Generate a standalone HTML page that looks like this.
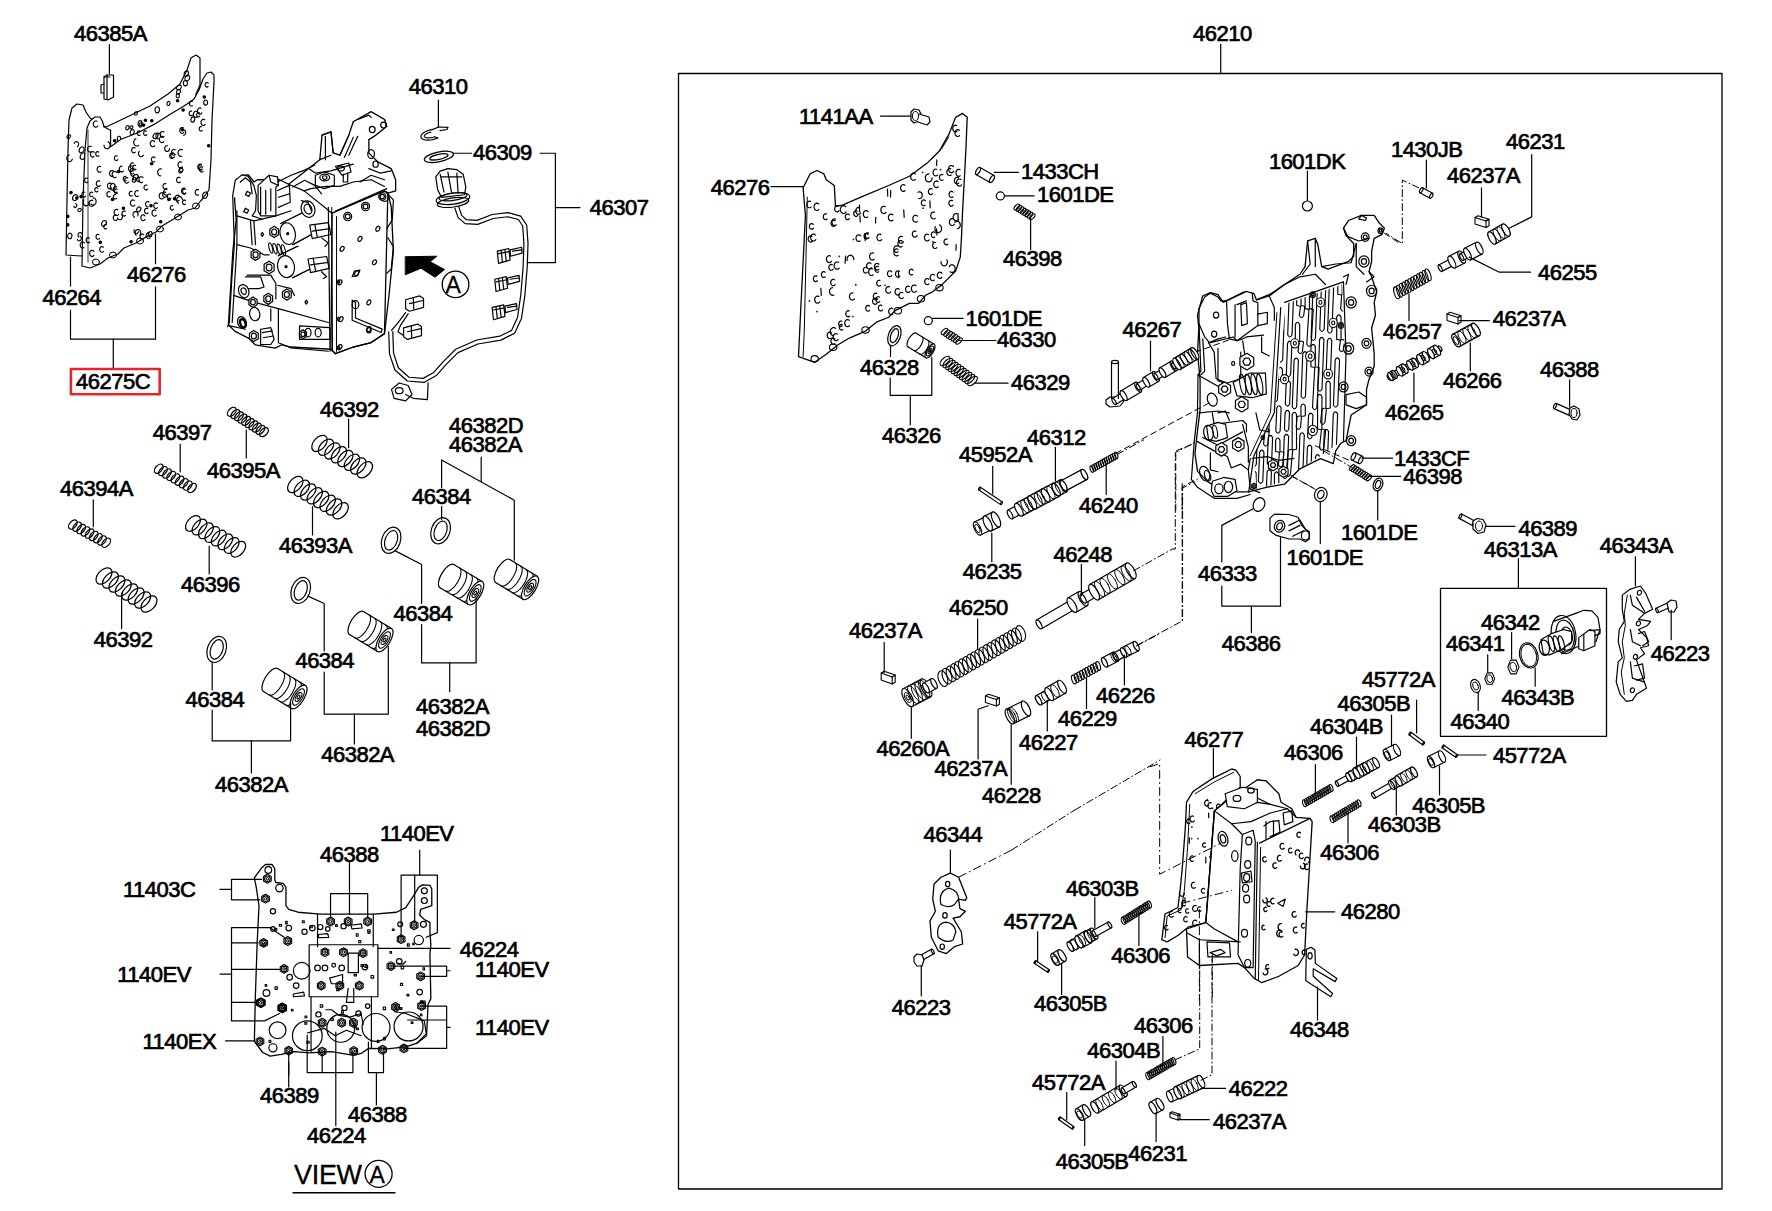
<!DOCTYPE html>
<html><head><meta charset="utf-8"><style>
html,body{margin:0;padding:0;background:#fff;}
svg{display:block;}
path,line,ellipse,circle,rect,polyline,polygon{vector-effect:non-scaling-stroke;}
text{font-family:"Liberation Sans",sans-serif;font-size:22px;fill:#000;stroke:#000;stroke-width:0.7px;letter-spacing:-0.5px;}
</style></head><body>
<svg width="1772" height="1211" viewBox="0 0 1772 1211">
<rect width="1772" height="1211" fill="#fff"/>
<g fill="none" stroke="#000" stroke-width="1.2" stroke-linejoin="round" stroke-linecap="round">
<!-- a.svg -->
<line x1="109.4" y1="44.5" x2="109.4" y2="74"/>
<path d="M104,77 L107,75 L113.5,75 L113.5,97 L108,100 L104,99 Z" fill="#fff"/>
<line x1="107" y1="75" x2="107" y2="99"/>
<path d="M104,84 L101,85 L101,93 L104,93"/>
<line x1="104" y1="77" x2="110" y2="77"/>
<path d="M66,255 L67,200 L68,150 L69,120 L72,108 L77,104 L83,105 L86,112 L90,118 L100,124 L106,127 L125,118 L150,106 L168,94 L180,84 L187,70 L191,58 L196,55 L200,58 L200,85 L196,94 L202,200 L81,256 Z" stroke-width="1.2" fill="#fff"/>
<circle cx="71" cy="192.6" r="1.2" fill="#000"/>
<ellipse cx="75.1" cy="197.6" rx="2.3" ry="3.1" transform="rotate(28.2 75.1 197.6)" stroke-width="1.1"/>
<path d="M74.2,143.5 L74.6,142.4 L75.5,141.7 L76.4,141.5 L77.4,141.8 L78.2,142.6 L78.6,143.6 L78.6,144.8 L78.2,145.9 L77.4,146.7" stroke-width="1.1"/>
<ellipse cx="81.6" cy="149.8" rx="2.2" ry="3.1" transform="rotate(31.4 81.6 149.8)" stroke-width="1.1"/>
<ellipse cx="79.6" cy="210" rx="1.4" ry="1.9" transform="rotate(57.4 79.6 210)" stroke-width="1.1"/>
<circle cx="67.7" cy="224.9" r="1.2" fill="#000"/>
<path d="M79.9,236 L80.6,236.6 L81.2,237.5 L81.3,238.5 L81.1,239.6 L80.5,240.4 L79.7,240.9 L78.7,240.8 L77.9,240.4 L77.4,239.5" stroke-width="1.1"/>
<ellipse cx="68.7" cy="136.6" rx="1.5" ry="2.1" transform="rotate(40.3 68.7 136.6)" stroke-width="1.1"/>
<path d="M78.6,237 L78.1,236 L78,234.8 L78.3,233.7 L79,232.9 L80,232.5 L80.9,232.6 L81.8,233.2 L82.3,234.1 L82.5,235.3" stroke-width="1.1"/>
<circle cx="76.9" cy="198" r="1.2" fill="#000"/>
<ellipse cx="69.8" cy="235.9" rx="2.1" ry="2.8" transform="rotate(12.7 69.8 235.9)" stroke-width="1.1"/>
<circle cx="81.1" cy="196.6" r="1.2" fill="#000"/>
<path d="M75.7,203.6 L76.3,204.1 L76.7,204.8 L76.8,205.6 L76.6,206.4 L76.2,207.1 L75.5,207.4 L74.8,207.4 L74.2,207.1 L73.7,206.4" stroke-width="1.1"/>
<path d="M72.3,159.1 L71.7,160.4 L70.8,161.3 L69.6,161.6 L68.4,161.3 L67.4,160.4 L66.8,159.1 L66.8,157.7 L67.3,156.3 L68.2,155.3 L69.3,154.9" stroke-width="1.1"/>
<circle cx="67.8" cy="216.4" r="1.2" fill="#000"/>
<ellipse cx="82.7" cy="156.2" rx="2.4" ry="3.3" transform="rotate(18.6 82.7 156.2)" stroke-width="1.1"/>
<ellipse cx="135.9" cy="113.4" rx="1.4" ry="1.9" transform="rotate(36.4 135.9 113.4)" stroke-width="1.1"/>
<ellipse cx="168.5" cy="103.5" rx="1.5" ry="2.1" transform="rotate(16.8 168.5 103.5)" stroke-width="1.1"/>
<ellipse cx="131.4" cy="127.4" rx="1.3" ry="1.8" transform="rotate(37.6 131.4 127.4)" stroke-width="1.1"/>
<ellipse cx="140" cy="123.2" rx="1.9" ry="2.6" transform="rotate(11.9 140 123.2)" stroke-width="1.1"/>
<ellipse cx="119" cy="138.6" rx="1.7" ry="2.4" transform="rotate(2.6 119 138.6)" stroke-width="1.1"/>
<ellipse cx="177.8" cy="95.7" rx="1.6" ry="2.1" transform="rotate(11.5 177.8 95.7)" stroke-width="1.1"/>
<ellipse cx="178.5" cy="91.7" rx="1.8" ry="2.5" transform="rotate(26.4 178.5 91.7)" stroke-width="1.1"/>
<ellipse cx="157.2" cy="109.8" rx="2.2" ry="3.1" transform="rotate(7.3 157.2 109.8)" stroke-width="1.1"/>
<ellipse cx="186.3" cy="73.6" rx="2.1" ry="2.9" transform="rotate(18.9 186.3 73.6)" stroke-width="1.1"/>
<ellipse cx="127.4" cy="127.7" rx="1.6" ry="2.2" transform="rotate(23.5 127.4 127.7)" stroke-width="1.1"/>
<ellipse cx="132.2" cy="132.2" rx="1.9" ry="2.7" transform="rotate(27.9 132.2 132.2)" stroke-width="1.1"/>
<circle cx="143.6" cy="125.1" r="1.2" fill="#000"/>
<circle cx="177.6" cy="100.7" r="1.2" fill="#000"/>
<ellipse cx="140.6" cy="124.9" rx="1.6" ry="2.2" transform="rotate(20.8 140.6 124.9)" stroke-width="1.1"/>
<circle cx="114.7" cy="140.7" r="1.2" fill="#000"/>
<ellipse cx="178.9" cy="87.5" rx="2" ry="2.8" transform="rotate(51.3 178.9 87.5)" stroke-width="1.1"/>
<circle cx="145.4" cy="120.3" r="1.2" fill="#000"/>
<ellipse cx="187.3" cy="78.1" rx="2.2" ry="3" transform="rotate(28.7 187.3 78.1)" stroke-width="1.1"/>
<ellipse cx="185.4" cy="83.2" rx="2" ry="2.7" transform="rotate(0.3 185.4 83.2)" stroke-width="1.1"/>
<circle cx="151.8" cy="120.7" r="1.2" fill="#000"/>
<path d="M186,108 L194,100 L199.8,89.7" stroke-width="1"/>
<path d="M82,266 L83,200 L85,150 L87,128 L90,121 L95,117 L100,117 L102.3,121 L104,127 L110.6,130.2 L110.6,146.7 L121,139.3 L138,132.7 L154,124.4 L171,113.7 L180,108.5 L187,104 L194,99 L199,90 L203,79 L207,73 L211,72 L214,75 L214,82 L212,120 L211,160 L209,190 L203,198 L195,208 L188,210 L180,215 L172,220 L162,226 L156,232 L146,237 L136,243 L124,248 L118,254 L108,258 L100,264 L90,268 Z" stroke-width="1.2" fill="#fff"/>
<path d="M88,130 L88,262" stroke-width="0.8"/>
<ellipse cx="96" cy="262" rx="3.5" ry="3" stroke-width="1"/>
<ellipse cx="113" cy="255" rx="3.5" ry="3" stroke-width="1"/>
<ellipse cx="140" cy="241" rx="3.5" ry="3" stroke-width="1"/>
<ellipse cx="160" cy="229" rx="3.5" ry="3" stroke-width="1"/>
<ellipse cx="178" cy="217" rx="3.5" ry="3" stroke-width="1"/>
<ellipse cx="196" cy="206" rx="3.5" ry="3" stroke-width="1"/>
<path d="M154.6,145.7 L154,146.4 L153.2,146.7 L152.3,146.7 L151.5,146.4 L150.8,145.7 L150.4,144.7 L150.2,143.7 L150.4,142.6 L150.8,141.7 L151.5,141 L152.3,140.6 L153.2,140.6 L154,141 L154.6,141.7" stroke-width="1.15"/>
<path d="M166.8,188.2 L166.2,188.8 L165.5,189 L164.7,189 L164,188.6 L163.4,187.9 L163.1,187 L163,186.1 L163.2,185.1 L163.6,184.3 L164.3,183.8 L165,183.5 L165.8,183.6" stroke-width="1.15"/>
<path d="M89.6,242.2 L88.9,242.7 L88.2,242.9 L87.5,242.8 L86.9,242.3 L86.4,241.6 L86.1,240.8 L86.1,239.9 L86.3,239 L86.7,238.3 L87.4,237.8 L88.1,237.6 L88.8,237.8 L89.4,238.2" stroke-width="1.15"/>
<path d="M157.4,207.8 L156.7,208.3 L156,208.5 L155.2,208.3 L154.5,207.8 L154,207.1 L153.8,206.2 L153.8,205.2 L154,204.3 L154.5,203.5 L155.2,203.1 L156,202.9 L156.7,203.1 L157.4,203.5" stroke-width="1.15"/>
<path d="M172.9,158.1 L172.3,158.4 L171.5,158.4 L170.8,158.2 L170.2,157.6 L169.8,156.8 L169.7,155.9 L169.8,155 L170.1,154.2 L170.7,153.5 L171.4,153.2 L172.1,153.2 L172.8,153.5" stroke-width="1.15"/>
<path d="M123.4,171 L122.7,171.6 L122,171.9 L121.1,171.9 L120.4,171.5 L119.8,170.8 L119.4,169.9 L119.3,168.9 L119.5,167.9 L119.9,167.1 L120.5,166.5 L121.3,166.1 L122.1,166.2" stroke-width="1.15"/>
<path d="M98.9,155.7 L98.3,156.1 L97.7,156.3 L97,156.2 L96.5,155.8 L96,155.2 L95.8,154.5 L95.7,153.7 L95.9,152.9 L96.3,152.2 L96.8,151.8 L97.5,151.6 L98.1,151.7 L98.7,152.1" stroke-width="1.15"/>
<circle cx="123.4" cy="208.3" r="1.2" fill="#000"/>
<path d="M143.6,238.7 L142.9,239.2 L142.2,239.3 L141.5,239.1 L140.8,238.7 L140.3,237.9 L140.1,237.1 L140.1,236.1 L140.4,235.3 L140.9,234.6 L141.5,234.1 L142.3,234 L143,234.1 L143.6,234.6" stroke-width="1.15"/>
<circle cx="174.6" cy="198.8" r="1.2" fill="#000"/>
<path d="M134.8,205.2 L134.1,205.9 L133.2,206.2 L132.4,206.1 L131.6,205.7 L130.9,204.9 L130.5,204 L130.4,202.9 L130.6,201.8 L131.1,200.9 L131.8,200.3 L132.6,199.9 L133.5,200 L134.3,200.4" stroke-width="1.15"/>
<path d="M121.7,214.4 L122.3,215.6 L122.5,216.9 L122.2,218.2 L121.5,219.2 L120.5,219.8 L119.4,219.7 L118.3,219.2 L117.6,218.1" stroke-width="1.15"/>
<path d="M142.6,182.2 L141.9,182.6 L141,182.7 L140.2,182.4 L139.6,181.8 L139.1,180.9 L138.9,179.9 L139,178.9 L139.3,177.9 L139.9,177.2 L140.7,176.8 L141.5,176.7 L142.4,177 L143,177.6" stroke-width="1.15"/>
<path d="M138.7,145.4 L137.4,146 L136.1,146 L134.8,145.3 L134,144 L133.7,142.4 L133.9,140.8 L134.7,139.5 L135.9,138.7" stroke-width="1.15"/>
<path d="M147.6,189 L147.1,189.6 L146.4,189.9 L145.7,189.9 L145.1,189.7 L144.5,189.1 L144.2,188.4 L144,187.6 L144.1,186.7 L144.5,185.9 L145,185.4 L145.6,185 L146.3,185 L146.9,185.3" stroke-width="1.15"/>
<path d="M164.1,136.6 L163.4,137.1 L162.6,137.3 L161.8,137.2 L161.1,136.8 L160.6,136 L160.2,135.1 L160.2,134.1 L160.4,133.1 L160.9,132.3 L161.6,131.8 L162.4,131.6 L163.2,131.7 L163.9,132.1" stroke-width="1.15"/>
<path d="M135.3,152.1 L134.7,152.6 L134,152.9 L133.2,152.8 L132.6,152.4 L132,151.7 L131.7,150.9 L131.7,150 L131.8,149.1 L132.3,148.3 L132.9,147.8 L133.6,147.5 L134.3,147.6 L135,148" stroke-width="1.15"/>
<path d="M97.9,191.1 L97.4,191.6 L96.9,191.9 L96.3,191.9 L95.7,191.7 L95.2,191.2 L94.9,190.6 L94.8,189.8 L94.8,189.1 L95.1,188.4 L95.6,187.9 L96.1,187.6 L96.8,187.6 L97.3,187.8 L97.8,188.3" stroke-width="1.15"/>
<path d="M198.6,194.8 L197.9,195.1 L197.1,195.2 L196.3,194.9 L195.7,194.3 L195.3,193.4 L195.1,192.5 L195.3,191.5 L195.6,190.6 L196.2,190 L196.9,189.6 L197.7,189.6 L198.5,189.9" stroke-width="1.15"/>
<path d="M146.8,134.7 L146.2,135.2 L145.6,135.4 L145,135.4 L144.4,135.1 L143.9,134.5 L143.7,133.8 L143.6,133 L143.7,132.2 L144.1,131.6 L144.6,131.1 L145.2,130.8 L145.8,130.9 L146.4,131.2" stroke-width="1.15"/>
<path d="M192.4,105.7 L191.8,106 L191.1,106 L190.5,105.8 L190,105.3 L189.6,104.5 L189.5,103.7 L189.6,102.9 L189.9,102.2 L190.4,101.6 L191,101.3 L191.7,101.3 L192.3,101.5" stroke-width="1.15"/>
<path d="M183.8,132.3 L183.2,133 L182.4,133.3 L181.6,133.3 L180.9,132.9 L180.3,132.2 L179.9,131.4 L179.8,130.4 L179.9,129.4 L180.3,128.5 L181,127.9 L181.7,127.6 L182.5,127.6 L183.3,127.9" stroke-width="1.15"/>
<ellipse cx="104" cy="223.3" rx="2.2" ry="3" transform="rotate(30.2 104 223.3)" stroke-width="1.15"/>
<path d="M167.4,194.7 L166.6,195.1 L165.8,195.2 L165,194.9 L164.3,194.3 L163.8,193.5 L163.6,192.5 L163.7,191.4 L164,190.5 L164.6,189.7 L165.4,189.3 L166.2,189.2 L167,189.5" stroke-width="1.15"/>
<path d="M113.1,176 L112.4,176.3 L111.6,176.4 L110.8,176 L110.2,175.4 L109.7,174.5 L109.6,173.5 L109.7,172.5 L110.1,171.6 L110.7,170.9 L111.5,170.6 L112.3,170.6 L113.1,170.9" stroke-width="1.15"/>
<path d="M163.7,141.7 L163,142.3 L162.1,142.6 L161.3,142.5 L160.5,142.1 L159.8,141.3 L159.5,140.3 L159.4,139.3 L159.6,138.2 L160.1,137.3 L160.8,136.6 L161.6,136.3 L162.5,136.4 L163.3,136.9" stroke-width="1.15"/>
<path d="M110.3,196.4 L109.7,196.9 L108.9,197 L108.2,196.8 L107.6,196.3 L107.1,195.6 L106.9,194.7 L106.9,193.8 L107.1,192.9 L107.6,192.2 L108.3,191.8 L109,191.6 L109.7,191.8" stroke-width="1.15"/>
<path d="M93.2,197.9 L94.5,198.2 L95.5,199.2 L96.1,200.5 L96.1,202.1 L95.6,203.5 L94.7,204.6 L93.5,205 L92.2,204.8 L91.1,204" stroke-width="1.15"/>
<path d="M106.5,228.6 L105.9,228.9 L105.3,228.9 L104.7,228.7 L104.2,228.2 L103.9,227.5 L103.7,226.8 L103.8,226 L104.1,225.3 L104.6,224.7 L105.2,224.4 L105.8,224.4 L106.4,224.7" stroke-width="1.15"/>
<path d="M145,219.5 L144.3,220.2 L143.6,220.6 L142.8,220.6 L142,220.3 L141.4,219.6 L141,218.7 L140.8,217.7 L140.9,216.7 L141.3,215.9 L141.9,215.2 L142.7,214.8 L143.5,214.8 L144.3,215.1 L144.9,215.8" stroke-width="1.15"/>
<path d="M103.4,251.5 L102.8,252 L102,252.2 L101.2,252 L100.5,251.5 L100,250.8 L99.7,249.9 L99.7,248.9 L100,248 L100.5,247.2 L101.1,246.7 L101.9,246.5 L102.7,246.7 L103.4,247.2" stroke-width="1.15"/>
<ellipse cx="205.7" cy="102.6" rx="1.9" ry="2.6" transform="rotate(0.9 205.7 102.6)" stroke-width="1.15"/>
<path d="M192.4,115.1 L191.8,115.6 L191.2,115.8 L190.5,115.7 L189.9,115.3 L189.4,114.7 L189.2,113.9 L189.1,113.1 L189.3,112.3 L189.7,111.6 L190.3,111.1 L191,111 L191.6,111.1" stroke-width="1.15"/>
<path d="M126.1,180.5 L125.6,180.9 L124.9,181 L124.3,180.8 L123.8,180.3 L123.4,179.7 L123.2,179 L123.3,178.2 L123.5,177.5 L123.9,176.9 L124.5,176.5 L125.1,176.4 L125.7,176.6" stroke-width="1.15"/>
<ellipse cx="150.2" cy="234.1" rx="1.9" ry="2.6" transform="rotate(9.1 150.2 234.1)" stroke-width="1.15"/>
<path d="M185.8,193 L185.3,193.4 L184.6,193.6 L184,193.6 L183.4,193.2 L182.9,192.6 L182.7,191.9 L182.6,191 L182.8,190.2 L183.2,189.6 L183.7,189.1 L184.4,188.9 L185,189 L185.6,189.4" stroke-width="1.15"/>
<ellipse cx="155.5" cy="135.9" rx="2.2" ry="3" transform="rotate(28.9 155.5 135.9)" stroke-width="1.15"/>
<circle cx="118.6" cy="171.6" r="1.2" fill="#000"/>
<path d="M116.1,177.2 L115.3,177.6 L114.4,177.6 L113.6,177.3 L112.9,176.7 L112.4,175.8 L112.2,174.7 L112.3,173.6 L112.7,172.7 L113.3,171.9 L114.1,171.5 L115,171.4 L115.8,171.8 L116.5,172.4" stroke-width="1.15"/>
<path d="M143.4,155.1 L142.7,156.1 L141.7,156.7 L140.6,156.8 L139.5,156.2 L138.8,155.2 L138.4,153.9 L138.6,152.5 L139.2,151.4" stroke-width="1.15"/>
<path d="M93.6,205.1 L93,205.8 L92.2,206.2 L91.3,206.3 L90.5,206 L89.8,205.3 L89.4,204.4 L89.2,203.3 L89.3,202.3 L89.7,201.3 L90.3,200.6 L91.1,200.2 L92,200.1 L92.8,200.5" stroke-width="1.15"/>
<path d="M135.9,169.2 L135.4,169.6 L134.7,169.9 L134.1,169.8 L133.5,169.4 L133,168.9 L132.7,168.1 L132.7,167.3 L132.9,166.5 L133.2,165.8 L133.8,165.4 L134.4,165.2 L135.1,165.2 L135.7,165.6" stroke-width="1.15"/>
<path d="M125.5,215.4 L124.9,215.9 L124.2,216.1 L123.5,216 L122.9,215.6 L122.4,215 L122.1,214.2 L122,213.3 L122.2,212.4 L122.6,211.7 L123.2,211.2 L123.9,211 L124.6,211.1 L125.2,211.5" stroke-width="1.15"/>
<path d="M134.5,175 L133.9,175.7 L133.3,176 L132.5,176.1 L131.8,175.9 L131.2,175.3 L130.8,174.5 L130.6,173.6 L130.6,172.7 L131,171.8 L131.5,171.2 L132.2,170.8 L133,170.7 L133.7,171" stroke-width="1.15"/>
<path d="M97.8,126 L97.1,126.7 L96.3,127.1 L95.4,127.1 L94.6,126.8 L94,126.1 L93.5,125.2 L93.3,124.1 L93.5,123 L93.9,122.1 L94.6,121.4 L95.4,121 L96.2,121 L97,121.3" stroke-width="1.15"/>
<ellipse cx="135.6" cy="177.2" rx="2.2" ry="3" transform="rotate(42 135.6 177.2)" stroke-width="1.15"/>
<path d="M174.5,156.8 L174,157.4 L173.4,157.7 L172.7,157.8 L172,157.6 L171.4,157.1 L171.1,156.4 L170.9,155.6 L170.9,154.7 L171.2,153.9 L171.7,153.3 L172.3,153 L173,152.9 L173.7,153.1 L174.2,153.6" stroke-width="1.15"/>
<path d="M117.4,193.1 L116.8,193.4 L116.2,193.5 L115.6,193.2 L115.1,192.8 L114.7,192.1 L114.6,191.4 L114.6,190.6 L114.9,189.9 L115.4,189.3 L116,189 L116.6,188.9 L117.2,189.2" stroke-width="1.15"/>
<path d="M128.6,182.1 L128,182.7 L127.3,183.1 L126.5,183.2 L125.8,182.9 L125.1,182.4 L124.7,181.5 L124.5,180.6 L124.6,179.6 L124.9,178.7 L125.5,178.1 L126.2,177.7 L127,177.6 L127.8,177.9" stroke-width="1.15"/>
<ellipse cx="205.1" cy="195.2" rx="2.4" ry="3.3" transform="rotate(17.4 205.1 195.2)" stroke-width="1.15"/>
<path d="M180.4,181.8 L179.8,182.4 L179.1,182.7 L178.4,182.7 L177.6,182.3 L177.1,181.7 L176.7,180.9 L176.6,180 L176.7,179 L177.1,178.2 L177.7,177.6 L178.4,177.3 L179.2,177.3 L179.9,177.7" stroke-width="1.15"/>
<circle cx="168.9" cy="199.4" r="1.2" fill="#000"/>
<path d="M85.6,196.1 L85.1,196.8 L84.4,197.1 L83.7,197.2 L83,197 L82.4,196.4 L82,195.7 L81.8,194.8 L81.9,193.9 L82.2,193 L82.7,192.4 L83.4,192 L84.1,192 L84.8,192.2" stroke-width="1.15"/>
<path d="M133.7,173.4 L133,173.8 L132.2,174 L131.4,173.8 L130.8,173.2 L130.3,172.5 L130.1,171.6 L130.1,170.6 L130.4,169.7 L130.9,169 L131.6,168.5 L132.4,168.4 L133.1,168.6 L133.8,169.1" stroke-width="1.15"/>
<path d="M199.7,116.2 L199.2,116.7 L198.7,116.9 L198,116.8 L197.5,116.5 L197.1,116 L196.8,115.3 L196.7,114.5 L196.9,113.8 L197.2,113.2 L197.7,112.7 L198.3,112.5 L198.9,112.6 L199.5,112.9" stroke-width="1.15"/>
<ellipse cx="112.7" cy="186.8" rx="2.4" ry="3.4" transform="rotate(9.3 112.7 186.8)" stroke-width="1.15"/>
<circle cx="160.7" cy="221.8" r="1.2" fill="#000"/>
<path d="M179.1,200.5 L178.3,200.9 L177.5,201.1 L176.7,200.9 L176,200.3 L175.5,199.5 L175.2,198.5 L175.2,197.4 L175.5,196.5 L176.1,195.7 L176.8,195.2 L177.7,195 L178.5,195.3 L179.2,195.8" stroke-width="1.15"/>
<ellipse cx="138.7" cy="209.4" rx="1.9" ry="2.6" transform="rotate(31.4 138.7 209.4)" stroke-width="1.15"/>
<path d="M150.2,237.9 L149.4,238.5 L148.6,238.7 L147.8,238.5 L147.1,238 L146.5,237.2 L146.2,236.2 L146.2,235.2 L146.5,234.2 L147,233.4 L147.7,232.8 L148.5,232.6 L149.4,232.8" stroke-width="1.15"/>
<path d="M173.6,209.2 L173.2,209.8 L172.6,210.1 L172,210.2 L171.3,209.9 L170.8,209.5 L170.5,208.8 L170.3,208.1 L170.4,207.3 L170.7,206.5 L171.1,206 L171.7,205.7 L172.3,205.6 L172.9,205.8" stroke-width="1.15"/>
<circle cx="208.7" cy="145.8" r="1.2" fill="#000"/>
<path d="M166.6,196.3 L166.1,196.9 L165.4,197.3 L164.7,197.4 L164,197.2 L163.3,196.6 L162.9,195.9 L162.7,195 L162.8,194 L163.1,193.2 L163.6,192.5 L164.3,192.1 L165.1,192.1 L165.8,192.3" stroke-width="1.15"/>
<ellipse cx="180.8" cy="170.6" rx="1.8" ry="2.5" transform="rotate(31.6 180.8 170.6)" stroke-width="1.15"/>
<path d="M182.3,166.8 L181.7,167.5 L180.9,167.9 L180,167.9 L179.2,167.5 L178.6,166.8 L178.1,165.9 L178,164.9 L178.1,163.8 L178.6,162.9 L179.2,162.2 L180,161.9 L180.9,161.9 L181.7,162.2" stroke-width="1.15"/>
<circle cx="112.5" cy="199.4" r="1.2" fill="#000"/>
<path d="M134,168.2 L133.3,168.7 L132.5,168.9 L131.7,168.7 L131,168.2 L130.4,167.4 L130.2,166.4 L130.2,165.4 L130.4,164.4 L131,163.6 L131.7,163.1 L132.5,162.9 L133.3,163.1" stroke-width="1.15"/>
<path d="M117.3,219.4 L116.7,220.1 L116,220.4 L115.2,220.5 L114.5,220.2 L113.8,219.6 L113.4,218.7 L113.3,217.8 L113.4,216.8 L113.7,215.9 L114.3,215.3 L115.1,214.9 L115.8,214.9 L116.6,215.2" stroke-width="1.15"/>
<path d="M148.1,212.9 L147.5,213.4 L146.8,213.6 L146,213.5 L145.4,213.1 L144.9,212.4 L144.6,211.6 L144.5,210.7 L144.7,209.8 L145.1,209 L145.8,208.5 L146.5,208.3 L147.2,208.4 L147.9,208.8" stroke-width="1.15"/>
<path d="M202,112.9 L201.4,113.6 L200.6,114.1 L199.7,114.2 L198.9,113.9 L198.2,113.3 L197.7,112.4 L197.5,111.3 L197.5,110.2 L197.9,109.3 L198.5,108.5 L199.3,108 L200.2,107.9 L201,108.2" stroke-width="1.15"/>
<path d="M111.6,187.9 L111,188.5 L110.2,188.9 L109.4,188.9 L108.6,188.5 L108,187.8 L107.6,186.9 L107.5,185.9 L107.6,184.9 L108,184 L108.7,183.4 L109.4,183.1 L110.3,183.1 L111,183.4" stroke-width="1.15"/>
<path d="M163.2,198.2 L162.4,198.7 L161.6,198.9 L160.7,198.7 L160,198.1 L159.5,197.3 L159.2,196.2 L159.2,195.2 L159.6,194.2 L160.1,193.4 L160.9,192.9 L161.7,192.7 L162.6,192.9 L163.3,193.5" stroke-width="1.15"/>
<path d="M201.5,169.3 L200.9,169.6 L200.2,169.6 L199.6,169.4 L199.1,168.9 L198.7,168.2 L198.6,167.4 L198.7,166.6 L199,165.8 L199.5,165.3 L200.1,165 L200.8,164.9 L201.4,165.2" stroke-width="1.15"/>
<path d="M134.5,217.3 L133.6,216.6 L133.1,215.4 L133,214.1 L133.4,212.9 L134.2,211.9 L135.2,211.5 L136.3,211.6 L137.3,212.3 L137.9,213.4 L138.1,214.7 L137.8,216" stroke-width="1.15"/>
<path d="M202.3,130.4 L201.8,130.8 L201.2,131.1 L200.6,131 L200,130.7 L199.5,130.1 L199.3,129.4 L199.2,128.6 L199.4,127.9 L199.7,127.2 L200.2,126.8 L200.8,126.6 L201.4,126.6" stroke-width="1.15"/>
<path d="M93.9,255.4 L93.2,256.1 L92.4,256.4 L91.6,256.4 L90.8,256 L90.2,255.3 L89.8,254.3 L89.6,253.3 L89.8,252.2 L90.3,251.3 L90.9,250.7 L91.7,250.4 L92.6,250.4 L93.4,250.8 L94,251.5" stroke-width="1.15"/>
<path d="M170.9,198.1 L170.3,198.6 L169.7,198.9 L169,198.9 L168.4,198.6 L167.9,198 L167.5,197.3 L167.4,196.4 L167.6,195.6 L167.9,194.8 L168.4,194.3 L169.1,194 L169.8,194 L170.4,194.4" stroke-width="1.15"/>
<path d="M108.2,141.7 L109.3,142.7 L110,144 L110.1,145.6 L109.7,147.1 L108.7,148.3 L107.5,148.8 L106.2,148.7 L105,147.9 L104.2,146.6 L104,145" stroke-width="1.15"/>
<path d="M156.3,215.3 L155.6,215.9 L154.7,216.2 L153.8,216.1 L153.1,215.6 L152.4,214.8 L152.1,213.8 L152,212.8 L152.2,211.7 L152.7,210.8 L153.4,210.2 L154.3,209.9 L155.1,210 L155.9,210.5" stroke-width="1.15"/>
<circle cx="100.3" cy="242.4" r="1.2" fill="#000"/>
<circle cx="204.3" cy="97" r="1.2" fill="#000"/>
<path d="M178.6,203.2 L177.6,202.5 L176.9,201.2 L176.7,199.8 L177,198.3 L177.8,197.2 L178.9,196.6 L180.2,196.6 L181.3,197.3 L182.1,198.4 L182.4,199.8" stroke-width="1.15"/>
<path d="M203.1,171.2 L202.6,171.8 L201.8,172.1 L201.1,172 L200.4,171.7 L199.9,171 L199.6,170.2 L199.5,169.3 L199.6,168.4 L200,167.6 L200.6,167.1 L201.3,166.8 L202.1,166.8 L202.7,167.2" stroke-width="1.15"/>
<path d="M139.8,180.9 L139.3,181.4 L138.6,181.6 L138,181.6 L137.4,181.3 L137,180.7 L136.7,180 L136.6,179.2 L136.7,178.5 L137.1,177.8 L137.6,177.3 L138.2,177.1 L138.8,177.1 L139.4,177.4" stroke-width="1.15"/>
<path d="M181.7,156.3 L180.4,156.4 L179.3,155.8 L178.4,154.7 L178,153.2 L178.2,151.7 L178.9,150.4 L179.9,149.6 L181.2,149.4 L182.4,149.8" stroke-width="1.15"/>
<path d="M182.5,171.3 L182,171.8 L181.4,172 L180.7,171.9 L180.2,171.5 L179.7,170.9 L179.5,170.2 L179.4,169.4 L179.6,168.6 L180,167.9 L180.6,167.5 L181.2,167.3 L181.8,167.4 L182.4,167.8" stroke-width="1.15"/>
<path d="M197.7,116.5 L197,117.1 L196.2,117.4 L195.3,117.3 L194.5,116.9 L193.9,116.1 L193.5,115.2 L193.4,114.1 L193.6,113.1 L194.1,112.2 L194.8,111.5 L195.6,111.2 L196.5,111.3 L197.3,111.8" stroke-width="1.15"/>
<path d="M140.3,134.8 L139.8,135.3 L139.2,135.5 L138.5,135.4 L137.9,135.1 L137.5,134.5 L137.2,133.8 L137.1,133 L137.3,132.2 L137.7,131.5 L138.2,131 L138.8,130.8 L139.5,130.9 L140.1,131.2" stroke-width="1.15"/>
<circle cx="151.7" cy="163.8" r="1.2" fill="#000"/>
<circle cx="151" cy="205.7" r="1.2" fill="#000"/>
<path d="M100.3,185.5 L99.7,186.1 L98.9,186.4 L98.1,186.4 L97.4,186 L96.8,185.4 L96.4,184.5 L96.3,183.5 L96.5,182.5 L96.9,181.7 L97.5,181.1 L98.3,180.8 L99.1,180.8 L99.8,181.2" stroke-width="1.15"/>
<path d="M116.6,198.3 L116.1,198.7 L115.5,199 L114.9,199 L114.3,198.7 L113.8,198.1 L113.5,197.4 L113.4,196.6 L113.5,195.9 L113.9,195.2 L114.4,194.7 L115,194.4 L115.6,194.5" stroke-width="1.15"/>
<ellipse cx="192.8" cy="119.5" rx="1.9" ry="2.7" transform="rotate(14.8 192.8 119.5)" stroke-width="1.15"/>
<path d="M148.1,206.9 L147.1,206.8 L146.3,206.2 L145.7,205.3 L145.5,204.1 L145.7,203 L146.4,202 L147.3,201.5 L148.3,201.5 L149.1,202" stroke-width="1.15"/>
<path d="M132.5,170.6 L131.9,171.2 L131.1,171.5 L130.3,171.4 L129.6,171 L129,170.3 L128.6,169.4 L128.5,168.4 L128.7,167.4 L129.2,166.6 L129.8,166 L130.6,165.7 L131.4,165.8 L132.2,166.2" stroke-width="1.15"/>
<circle cx="183.1" cy="110" r="1.2" fill="#000"/>
<circle cx="182.4" cy="129.8" r="1.2" fill="#000"/>
<path d="M202.3,169 L201.7,169.7 L200.9,170.2 L200,170.2 L199.2,169.9 L198.5,169.2 L198,168.2 L197.8,167.2 L197.9,166.1 L198.3,165.1 L199,164.4 L199.8,164 L200.7,164 L201.5,164.3" stroke-width="1.15"/>
<path d="M91.1,151.6 L90.4,152 L89.6,152 L88.8,151.7 L88.2,151 L87.7,150.1 L87.6,149.1 L87.7,148.1 L88.1,147.2 L88.7,146.6 L89.5,146.2 L90.3,146.2 L91.1,146.5" stroke-width="1.15"/>
<path d="M89.2,201.8 L89.1,203.4 L88.4,204.8 L87.3,205.6 L86,205.9 L84.7,205.4 L83.8,204.4 L83.2,202.9 L83.3,201.3 L83.8,199.9" stroke-width="1.15"/>
<path d="M94,156.6 L93.3,157 L92.5,157.1 L91.8,156.9 L91.2,156.4 L90.7,155.6 L90.5,154.7 L90.5,153.7 L90.8,152.9 L91.3,152.2 L92,151.7 L92.8,151.6 L93.5,151.8 L94.2,152.3" stroke-width="1.15"/>
<path d="M182.8,129.9 L183.8,129.8 L184.7,130.2 L185.4,131.1 L185.7,132.2 L185.6,133.4 L185.1,134.4 L184.3,135.1 L183.4,135.2" stroke-width="1.15"/>
<path d="M154.6,161.6 L153.9,162 L153.2,162 L152.6,161.8 L152,161.2 L151.6,160.5 L151.4,159.6 L151.5,158.7 L151.8,157.9 L152.4,157.3 L153,157 L153.7,156.9 L154.4,157.2 L155,157.7" stroke-width="1.15"/>
<path d="M138.4,231.7 L138,232.7 L137.3,233.5 L136.3,233.8 L135.4,233.6 L134.6,233 L134.1,231.9 L134,230.8 L134.3,229.7" stroke-width="1.15"/>
<path d="M205.3,124.5 L204.6,125.1 L203.8,125.5 L202.9,125.4 L202.1,125 L201.5,124.2 L201.1,123.3 L201,122.2 L201.2,121.2 L201.6,120.3 L202.3,119.6 L203.1,119.3 L204,119.4 L204.8,119.8" stroke-width="1.15"/>
<path d="M118.5,214.6 L117.8,215.2 L117,215.6 L116.1,215.5 L115.3,215.1 L114.6,214.4 L114.2,213.4 L114.1,212.4 L114.3,211.3 L114.7,210.4 L115.4,209.7 L116.3,209.4 L117.1,209.4 L117.9,209.8" stroke-width="1.15"/>
<path d="M208.1,86.6 L207.5,87 L206.9,87.1 L206.2,86.9 L205.7,86.5 L205.3,85.9 L205.1,85.1 L205.1,84.3 L205.4,83.6 L205.8,83 L206.4,82.6 L207,82.5 L207.6,82.7 L208.2,83.1" stroke-width="1.15"/>
<path d="M101,171.7 L100.2,172.2 L99.4,172.3 L98.6,172.1 L97.9,171.5 L97.4,170.7 L97.1,169.7 L97.2,168.6 L97.5,167.7 L98.1,166.9 L98.8,166.5 L99.6,166.3 L100.5,166.6" stroke-width="1.15"/>
<path d="M185.7,193.2 L185,193.8 L184.2,194.1 L183.3,194 L182.6,193.5 L182,192.7 L181.6,191.8 L181.6,190.7 L181.8,189.7 L182.3,188.8 L183,188.2 L183.8,188 L184.7,188.1" stroke-width="1.15"/>
<path d="M160.7,175.9 L159.4,175.6 L158.4,174.7 L157.8,173.3 L157.7,171.8 L158.2,170.3 L159.1,169.3 L160.3,168.8 L161.6,169" stroke-width="1.15"/>
<path d="M87.8,182 L87.3,182.4 L86.6,182.7 L86,182.6 L85.4,182.2 L84.9,181.7 L84.6,180.9 L84.6,180.1 L84.8,179.3 L85.1,178.6 L85.7,178.2 L86.3,178 L87,178 L87.6,178.4" stroke-width="1.15"/>
<path d="M92.8,196.1 L92.2,196.5 L91.6,196.7 L91,196.6 L90.4,196.3 L90,195.7 L89.7,194.9 L89.7,194.1 L89.9,193.4 L90.3,192.7 L90.8,192.3 L91.4,192.1 L92.1,192.2 L92.6,192.6" stroke-width="1.15"/>
<path d="M138.3,196 L137.6,196.4 L136.8,196.5 L136,196.2 L135.3,195.6 L134.9,194.8 L134.7,193.8 L134.8,192.8 L135.1,191.8 L135.7,191.1 L136.5,190.7 L137.3,190.6 L138.1,190.9" stroke-width="1.15"/>
<path d="M99.5,238.4 L99,239 L98.3,239.3 L97.6,239.2 L97,238.9 L96.5,238.4 L96.1,237.6 L96,236.8 L96.1,235.9 L96.5,235.2 L97,234.6 L97.7,234.4 L98.4,234.4 L99,234.7" stroke-width="1.15"/>
<path d="M117.9,159.6 L117.4,160.2 L116.8,160.5 L116.1,160.5 L115.4,160.3 L114.9,159.8 L114.6,159 L114.4,158.2 L114.5,157.4 L114.8,156.6 L115.3,156 L116,155.7 L116.6,155.7 L117.3,156" stroke-width="1.15"/>
<path d="M158.4,138.9 L157.4,138.7 L156.5,137.9 L156,136.8 L155.9,135.6 L156.3,134.4 L157,133.5 L158,133 L159.1,133.2 L160,133.8 L160.6,134.9" stroke-width="1.15"/>
<path d="M83.9,247.6 L83.1,248 L82.3,248.1 L81.5,247.7 L80.8,247.1 L80.4,246.2 L80.2,245.2 L80.3,244.1 L80.7,243.2 L81.3,242.5 L82,242.1 L82.9,242 L83.7,242.3 L84.4,243" stroke-width="1.15"/>
<circle cx="131.1" cy="241.8" r="1.2" fill="#000"/>
<path d="M185.5,204 L185,204.4 L184.3,204.6 L183.7,204.5 L183.1,204.1 L182.7,203.5 L182.5,202.7 L182.5,201.9 L182.7,201.2 L183.1,200.6 L183.6,200.1 L184.3,200 L184.9,200.1 L185.5,200.5" stroke-width="1.15"/>
<path d="M117,192 L116.3,192.4 L115.4,192.5 L114.6,192.2 L113.9,191.6 L113.5,190.8 L113.2,189.7 L113.3,188.7 L113.7,187.8 L114.3,187 L115,186.6 L115.9,186.5 L116.7,186.8" stroke-width="1.15"/>
<path d="M132.2,195.7 L131.6,196 L130.9,196.1 L130.3,195.9 L129.7,195.4 L129.4,194.8 L129.2,194 L129.2,193.1 L129.5,192.4 L129.9,191.8 L130.5,191.4 L131.2,191.3 L131.9,191.5" stroke-width="1.15"/>
<ellipse cx="134.2" cy="179.8" rx="1.8" ry="2.5" transform="rotate(9.8 134.2 179.8)" stroke-width="1.15"/>
<path d="M175.4,154.3 L174.8,154.9 L174,155.2 L173.2,155.1 L172.5,154.7 L171.9,154 L171.6,153.1 L171.5,152.1 L171.7,151.1 L172.2,150.3 L172.8,149.7 L173.6,149.5 L174.4,149.5 L175.1,150" stroke-width="1.15"/>
<path d="M169.5,148.7 L169.2,149.9 L168.6,150.9 L167.6,151.4 L166.6,151.4 L165.6,150.9 L164.9,149.9 L164.7,148.7 L164.8,147.5 L165.4,146.5 L166.3,145.8 L167.4,145.7" stroke-width="1.15"/>
<path d="M136.1,235.3 L135.4,234.1 L135.2,232.7 L135.4,231.3 L136.2,230.2 L137.3,229.6 L138.5,229.5 L139.6,230.1 L140.4,231.2 L140.7,232.6 L140.5,234 L139.9,235.2" stroke-width="1.15"/>
<path d="M70.5,257 L70.5,286"/>
<path d="M70.5,310 L70.5,339.2 L155.5,339.2 L155.5,286.8"/>
<line x1="155.5" y1="234.2" x2="155.5" y2="263.7"/>
<line x1="113.3" y1="339.2" x2="113.3" y2="369"/>
<rect x="70.9" y="369" width="88.8" height="25.2" stroke-width="2.6" stroke="#e3262c"/>
<!-- b.svg -->
<g transform="translate(215,95) scale(0.22302)">
<path d="M60,1030 L80,700 L95,560 L88,470 L95,400 L120,360 L150,358 L175,390 L190,380 L290,380 L330,400 L420,330 L470,290 L480,180 L520,165 L530,260 L560,270 L600,180 L620,120 L700,75 L760,110 L770,140 L720,180 L690,200 L690,260 L730,300 L790,330 L810,380 L810,430 L775,440 L790,500 L800,700 L780,900 L760,1070 L700,1110 L620,1130 L540,1160 L520,1140 L340,1130 L300,1120 L270,1135 L180,1120 L150,1090 L90,1060 Z" stroke-width="1.3" fill="#fff"/>
<path d="M525,530 L760,430 L775,440 L760,1070 L700,1110 L620,1130 L540,1160 L520,1140 L525,530" stroke-width="1.3"/>
<path d="M540,520 L770,420"/>
<path d="M545,545 L545,1150" stroke-width="1"/>
<path d="M400,430 L525,530"/>
<path d="M330,400 L400,430 L430,420 L500,410 L560,410 L620,390 L700,380 L760,410"/>
<path d="M420,330 L450,350 L520,340 L620,310"/>
<ellipse cx="595" cy="545" rx="18" ry="18.9"/>
<ellipse cx="595" cy="545" rx="10.8" ry="10.8"/>
<ellipse cx="675" cy="500" rx="18" ry="18.9"/>
<ellipse cx="675" cy="500" rx="10.8" ry="10.8"/>
<ellipse cx="750" cy="455" rx="16" ry="16.8"/>
<ellipse cx="750" cy="455" rx="9.6" ry="9.6"/>
<ellipse cx="730" cy="600" rx="8" ry="12" transform="rotate(30 730 600)"/>
<ellipse cx="650" cy="645" rx="8" ry="12" transform="rotate(30 650 645)"/>
<ellipse cx="570" cy="690" rx="8" ry="12" transform="rotate(30 570 690)"/>
<ellipse cx="715" cy="750" rx="8" ry="12" transform="rotate(30 715 750)"/>
<ellipse cx="635" cy="800" rx="8" ry="12" transform="rotate(30 635 800)"/>
<ellipse cx="560" cy="840" rx="8" ry="12" transform="rotate(30 560 840)"/>
<ellipse cx="690" cy="930" rx="8" ry="12" transform="rotate(30 690 930)"/>
<ellipse cx="565" cy="1005" rx="8" ry="12" transform="rotate(30 565 1005)"/>
<ellipse cx="690" cy="1050" rx="8" ry="12" transform="rotate(30 690 1050)"/>
<ellipse cx="560" cy="1130" rx="8" ry="12" transform="rotate(30 560 1130)"/>
<path d="M625,790 L650,785 L640,810 L615,815 Z"/>
<path d="M615,920 L615,1010 L745,1065 L750,1050 L630,1000 L630,930 Z"/>
<ellipse cx="630" cy="940" rx="15" ry="18"/>
<ellipse cx="690" cy="1055" rx="10" ry="12"/>
<path d="M450,360 L490,345 L535,360 L535,405 L490,420 L450,405 Z"/>
<ellipse cx="492" cy="370" rx="22" ry="15"/>
<ellipse cx="492" cy="370" rx="10" ry="8"/>
<path d="M540,320 L600,305 L610,345 L570,360 Z"/>
<ellipse cx="565" cy="330" rx="15" ry="11"/>
<path d="M575,355 L575,390 L595,390 L595,350"/>
<path d="M480,180 L520,165 L530,260"/>
<path d="M495,185 L495,290"/>
<path d="M470,290 L520,270"/>
<path d="M620,120 L700,75 L760,110 L770,140 L720,180 L690,200" fill="#fff"/>
<ellipse cx="705" cy="155" rx="13" ry="14"/>
<ellipse cx="755" cy="135" rx="12" ry="13"/>
<path d="M640,110 L690,90 L700,100"/>
<path d="M600,180 L560,270"/>
<path d="M620,190 L580,280"/>
<path d="M640,185 L600,270"/>
<ellipse cx="700" cy="265" rx="15" ry="20"/>
<ellipse cx="720" cy="310" rx="12" ry="14"/>
<path d="M770,440 L800,470 L795,560 L770,600"/>
<path d="M775,640 L800,680 L790,780 L770,800"/>
<ellipse cx="760" cy="455" rx="20" ry="22"/>
<path d="M690,330 L740,350 L790,340"/>
<path d="M650,390 L700,360 L760,380"/>
</g>
<g transform="translate(220,160) scale(0.16926)">
<path d="M75,210 L85,500 L70,700 L55,960 L45,985"/>
<path d="M100,300 L100,500 L88,700 L72,960"/>
<path d="M75,210 L90,120 L130,88 L165,95 L200,150 L215,210 L210,300 L190,330 L250,350" fill="#fff"/>
<path d="M120,130 L150,105 L180,130 L190,200"/>
<path d="M160,185 L180,195 L170,215 L150,205 Z"/>
<path d="M150,285 L170,295 L160,315 L140,305 Z"/>
<path d="M225,150 L290,90 L340,100 L345,150 L330,160 L330,330 L240,330 L225,300 Z" fill="#fff"/>
<path d="M240,160 L240,320"/>
<path d="M270,180 L270,320"/>
<path d="M300,170 L300,300"/>
<path d="M290,90 L300,130 L345,150"/>
<path d="M340,180 L410,150 L415,250 L345,280"/>
<path d="M345,220 L410,200"/>
<path d="M100,500 L180,520 L260,560 L290,560"/>
<path d="M100,330 L200,360 L330,330 L420,300"/>
<path d="M180,360 L190,500"/>
<path d="M200,360 L210,500"/>
<path d="M160,680 L300,680 L330,730 L330,820"/>
<path d="M80,800 L200,840 L350,880 L640,960"/>
<path d="M345,880 L345,1080 L420,1110 L640,1130"/>
<path d="M60,980 L150,1000"/>
<path d="M340,740 L420,760 L440,800"/>
<path d="M300,880 L300,950"/>
<path d="M360,375 L470,320 L520,300"/>
<path d="M430,500 L540,440"/>
<ellipse cx="520" cy="290" rx="40" ry="50" transform="rotate(-20 520 290)" stroke-width="1.2" fill="#fff"/>
<ellipse cx="520" cy="290" rx="22" ry="30" transform="rotate(-20 520 290)"/>
<path d="M360,375 L470,320 L540,440 L430,500 Z" stroke-width="0.01" fill="#fff"/>
<path d="M360,375 L470,320"/>
<path d="M430,500 L540,440"/>
<ellipse cx="400" cy="435" rx="45" ry="65" transform="rotate(-12 400 435)" fill="#fff"/>
<circle cx="400" cy="435" r="6" fill="#000"/>
<path d="M345,565 L460,510"/>
<path d="M430,695 L540,640"/>
<path d="M345,565 L460,510 L540,640 L430,695 Z" stroke-width="0.01" fill="#fff"/>
<path d="M345,565 L460,510"/>
<path d="M430,695 L540,640"/>
<ellipse cx="390" cy="630" rx="50" ry="65" transform="rotate(-12 390 630)" fill="#fff"/>
<circle cx="390" cy="630" r="6" fill="#000"/>
<path d="M530,385 L640,370 L655,440 L545,465 Z" fill="#fff"/>
<path d="M560,380 L575,455"/>
<path d="M545,420 L650,405"/>
<path d="M520,585 L630,570 L645,640 L535,665 Z" fill="#fff"/>
<path d="M550,580 L565,655"/>
<path d="M535,620 L640,605"/>
<path d="M600,460 L640,490 L620,510"/>
<path d="M600,660 L630,690 L610,700"/>
<ellipse cx="300" cy="520" rx="10" ry="32" transform="rotate(-15 300 520)" stroke-width="1.1"/>
<ellipse cx="325" cy="524" rx="10" ry="32" transform="rotate(-15 325 524)" stroke-width="1.1"/>
<ellipse cx="350" cy="528" rx="10" ry="32" transform="rotate(-15 350 528)" stroke-width="1.1"/>
<ellipse cx="375" cy="532" rx="10" ry="32" transform="rotate(-15 375 532)" stroke-width="1.1"/>
<path d="M346,441.5 L320,458 L294,441.5 L294,408.5 L320,392 L346,408.5 Z" stroke-width="1.2" fill="#fff"/>
<ellipse cx="320" cy="425" rx="15" ry="17.2" stroke-width="1.2"/>
<path d="M236,576.5 L210,593 L184,576.5 L184,543.5 L210,527 L236,543.5 Z" stroke-width="1.2" fill="#fff"/>
<ellipse cx="210" cy="560" rx="15" ry="17.2" stroke-width="1.2"/>
<path d="M319.4,653.7 L290,672.4 L260.6,653.7 L260.6,616.3 L290,597.6 L319.4,616.3 Z" stroke-width="1.2" fill="#fff"/>
<ellipse cx="290" cy="635" rx="17" ry="19.5" stroke-width="1.2"/>
<path d="M219.2,855.4 L195,870.8 L170.8,855.4 L170.8,824.6 L195,809.2 L219.2,824.6 Z" stroke-width="1.2" fill="#fff"/>
<ellipse cx="195" cy="840" rx="14" ry="16.1" stroke-width="1.2"/>
<path d="M311,836.5 L285,853 L259,836.5 L259,803.5 L285,787 L311,803.5 Z" stroke-width="1.2" fill="#fff"/>
<ellipse cx="285" cy="820" rx="15" ry="17.2" stroke-width="1.2"/>
<path d="M421,811.5 L395,828 L369,811.5 L369,778.5 L395,762 L421,778.5 Z" stroke-width="1.2" fill="#fff"/>
<ellipse cx="395" cy="795" rx="15" ry="17.2" stroke-width="1.2"/>
<path d="M226,1056.5 L200,1073 L174,1056.5 L174,1023.5 L200,1007 L226,1023.5 Z" stroke-width="1.2" fill="#fff"/>
<ellipse cx="200" cy="1040" rx="15" ry="17.2" stroke-width="1.2"/>
<path d="M510.8,1043.2 L490,1056.4 L469.2,1043.2 L469.2,1016.8 L490,1003.6 L510.8,1016.8 Z" stroke-width="1.2" fill="#fff"/>
<ellipse cx="490" cy="1030" rx="12" ry="13.8" stroke-width="1.2"/>
<ellipse cx="140" cy="775" rx="30" ry="40" transform="rotate(-20 140 775)" fill="#fff"/>
<ellipse cx="140" cy="775" rx="15" ry="20" transform="rotate(-20 140 775)"/>
<path d="M150,690 L240,690 L260,750 L230,760 L170,760"/>
<ellipse cx="130" cy="960" rx="25" ry="35" transform="rotate(-20 130 960)" stroke-width="1.2"/>
<ellipse cx="135" cy="965" rx="15" ry="25" transform="rotate(-20 135 965)" stroke-width="2.2"/>
<ellipse cx="205" cy="910" rx="30" ry="40" transform="rotate(-10 205 910)"/>
<path d="M240,1000 L300,990 L320,1060 L300,1090 L240,1090 Z" fill="#fff"/>
<path d="M250,1020 L310,1010"/>
<path d="M255,1050 L315,1040"/>
<path d="M470,980 L650,990 L650,1060 L470,1060 Z"/>
<ellipse cx="520" cy="1020" rx="18" ry="25"/>
<ellipse cx="580" cy="1020" rx="18" ry="25"/>
<path d="M640,280 L650,1130"/>
<path d="M660,280 L665,1130" stroke-width="1"/>
<path d="M250,428 L258,440 L250,452 L242,440 Z"/>
<path d="M510,828 L518,840 L510,852 L502,840 Z"/>
<path d="M700,708 L708,720 L700,732 L692,720 Z"/>
<path d="M700,928 L708,940 L700,952 L692,940 Z"/>
<path d="M700,1098 L708,1110 L700,1122 L692,1110 Z"/>
<path d="M480,240 L520,250 L540,300"/>
<path d="M430,160 L500,120 L560,150 L600,200"/>
<path d="M340,130 L420,90 L500,60 L560,30"/>
</g>
<!-- c.svg -->
<g transform="translate(380,100) scale(0.25608)">
<path d="M228,0 L228,105"/>
</g>
<path d="M437.7,137.9 L436.1,138.6 L434.4,139.2 L432.5,139.7 L430.7,140 L428.9,140.2 L427.1,140.2 L425.5,140 L424.1,139.7 L422.9,139.2 L421.9,138.6 L421.3,137.9 L420.9,137 L420.9,136.2 L421.2,135.2 L421.8,134.3 L422.7,133.4 L423.9,132.5 L425.3,131.7 L426.9,131 L428.6,130.4 L430.5,129.9 L432.3,129.6" stroke-width="1.2"/>
<path d="M434.5,136.8 L433.3,137.2 L432.1,137.5 L430.8,137.8 L429.6,137.9 L428.4,137.9 L427.3,137.9 L426.3,137.7 L425.5,137.5 L424.9,137.2 L424.5,136.8 L424.3,136.3 L424.3,135.8 L424.5,135.3 L424.9,134.8 L425.6,134.2 L426.4,133.7 L427.4,133.2 L428.5,132.8 L429.7,132.4 L430.9,132.1" stroke-width="1.1"/>
<path d="M432.3,129.6 L438.7,127 L448,127.3 L447,129.5 L440,130.6" stroke-width="1.2"/>
<path d="M437.7,137.9 L434.5,136.8" stroke-width="1.1"/>
<g transform="translate(380,100) scale(0.25608)">
<ellipse cx="230" cy="222" rx="58" ry="19" transform="rotate(-12 230 222)" stroke-width="1.3"/>
<ellipse cx="230" cy="222" rx="36" ry="10" transform="rotate(-12 230 222)" stroke-width="1.3"/>
<path d="M285,208 L358,208"/>
<path d="M625,208 L685,208 L685,635 L575,635"/>
<path d="M685,420 L781,420"/>
<path d="M218,300 L235,278 L265,268 L300,272 L325,290 L335,340 L330,370 L240,380 L225,350 Z" fill="#fff"/>
<path d="M235,290 L250,360"/>
<path d="M265,282 L280,365"/>
<path d="M300,285 L305,365"/>
<path d="M240,300 L320,300"/>
<ellipse cx="285" cy="385" rx="66" ry="22" transform="rotate(-8 285 385)"/>
<ellipse cx="285" cy="400" rx="62" ry="18" transform="rotate(-8 285 400)"/>
<ellipse cx="285" cy="378" rx="55" ry="14" transform="rotate(-8 285 378)"/>
<path d="M292.4,422.6 L305.3,459.3 L332.4,482.6 L381.5,485.9 L441.9,462.8 L499.6,456 L540.7,466.7 L557.2,491.9 L562,560.1 L559,649.5 L550,759.1 L537.3,848 L514.2,899.5 L467.8,922.3 L377.7,937.3 L295.6,973.3 L244.2,1024.5 L210,1063.8 L168.5,1087.1 L113.2,1082.6 L71.7,1045.6 L52.9,988.7 L50,904.7" stroke-width="1.2"/>
<path d="M307.6,417.4 L318.7,450.7 L337.6,467.4 L378.5,470.1 L438.1,447.2 L500.4,440 L549.3,453.3 L572.8,488.1 L578,559.9 L575,650.5 L566,760.9 L552.7,852 L525.8,910.5 L472.2,937.7 L382.3,952.7 L304.4,986.7 L255.8,1035.5 L220,1076.2 L171.5,1102.9 L106.8,1097.4 L58.3,1054.4 L37.1,991.3 L34,905.3" stroke-width="1.2"/>
<path d="M458,590 L503,580 L508,625 L463,638 Z" fill="#fff"/>
<path d="M473,588 L478,632"/>
<path d="M488,585 L493,628"/>
<path d="M463,600 L506,592"/>
<path d="M508,585 L553,575 L555,598 L510,610 Z"/>
<path d="M518,590 L553,585"/>
<path d="M448,700 L493,690 L498,735 L453,748 Z" fill="#fff"/>
<path d="M463,698 L468,742"/>
<path d="M478,695 L483,738"/>
<path d="M453,710 L496,702"/>
<path d="M498,695 L543,685 L545,708 L500,720 Z"/>
<path d="M508,700 L543,695"/>
<path d="M438,810 L483,800 L488,845 L443,858 Z" fill="#fff"/>
<path d="M453,808 L458,852"/>
<path d="M468,805 L473,848"/>
<path d="M443,820 L486,812"/>
<path d="M488,805 L533,795 L535,818 L490,830 Z"/>
<path d="M498,810 L533,805"/>
<path d="M100,780 L155,765 L170,775 L170,810 L115,825 L100,815 Z" fill="#fff"/>
<path d="M130,773 L132,817"/>
<path d="M115,795 L168,783"/>
<path d="M92,890 L147,875 L162,885 L162,920 L107,935 L92,925 Z" fill="#fff"/>
<path d="M122,883 L124,927"/>
<path d="M107,905 L160,893"/>
<path d="M100,830 L70,870 L45,900"/>
<path d="M110,835 L80,880 L70,905 L92,920"/>
<path d="M45,1130 L75,1105 L110,1115 L125,1150 L100,1175 L55,1165 Z" fill="#fff"/>
<ellipse cx="75" cy="1135" rx="15" ry="12"/>
<path d="M100,1150 L130,1165 L185,1170 L188,1105"/>
<path d="M100,612 L222,610 L196,632 L252,662 L215,692 L160,657 L100,682 Z" stroke-width="1" fill="#000"/>
<ellipse cx="295" cy="720" rx="52" ry="52" stroke-width="1.3"/>
</g>
<text x="445.5" y="292.5" style="font-size:23px;stroke-width:0.3px;letter-spacing:0">A</text>
<!-- d.svg -->
<ellipse cx="231.8" cy="411.8" rx="3.3" ry="5.4" transform="rotate(44.4 231.8 411.8)" stroke-width="1.25"/>
<ellipse cx="235.4" cy="414.1" rx="3.3" ry="5.4" transform="rotate(44.4 235.4 414.1)" stroke-width="1.25"/>
<ellipse cx="239" cy="416.3" rx="3.3" ry="5.4" transform="rotate(44.4 239 416.3)" stroke-width="1.25"/>
<ellipse cx="242.5" cy="418.6" rx="3.3" ry="5.4" transform="rotate(44.4 242.5 418.6)" stroke-width="1.25"/>
<ellipse cx="246.1" cy="420.9" rx="3.3" ry="5.4" transform="rotate(44.4 246.1 420.9)" stroke-width="1.25"/>
<ellipse cx="249.7" cy="423.1" rx="3.3" ry="5.4" transform="rotate(44.4 249.7 423.1)" stroke-width="1.25"/>
<ellipse cx="253.3" cy="425.4" rx="3.3" ry="5.4" transform="rotate(44.4 253.3 425.4)" stroke-width="1.25"/>
<ellipse cx="256.8" cy="427.7" rx="3.3" ry="5.4" transform="rotate(44.4 256.8 427.7)" stroke-width="1.25"/>
<ellipse cx="260.4" cy="429.9" rx="3.3" ry="5.4" transform="rotate(44.4 260.4 429.9)" stroke-width="1.25"/>
<ellipse cx="264" cy="432.2" rx="3.3" ry="5.4" transform="rotate(44.4 264 432.2)" stroke-width="1.25"/>
<line x1="246.3" y1="430" x2="246.3" y2="458"/>
<ellipse cx="158.8" cy="468.7" rx="3.3" ry="5.4" transform="rotate(42.2 158.8 468.7)" stroke-width="1.25"/>
<ellipse cx="163" cy="471.1" rx="3.3" ry="5.4" transform="rotate(42.2 163 471.1)" stroke-width="1.25"/>
<ellipse cx="167.1" cy="473.5" rx="3.3" ry="5.4" transform="rotate(42.2 167.1 473.5)" stroke-width="1.25"/>
<ellipse cx="171.2" cy="475.9" rx="3.3" ry="5.4" transform="rotate(42.2 171.2 475.9)" stroke-width="1.25"/>
<ellipse cx="175.4" cy="478.4" rx="3.3" ry="5.4" transform="rotate(42.2 175.4 478.4)" stroke-width="1.25"/>
<ellipse cx="179.6" cy="480.8" rx="3.3" ry="5.4" transform="rotate(42.2 179.6 480.8)" stroke-width="1.25"/>
<ellipse cx="183.7" cy="483.2" rx="3.3" ry="5.4" transform="rotate(42.2 183.7 483.2)" stroke-width="1.25"/>
<ellipse cx="187.8" cy="485.6" rx="3.3" ry="5.4" transform="rotate(42.2 187.8 485.6)" stroke-width="1.25"/>
<ellipse cx="192" cy="488" rx="3.3" ry="5.4" transform="rotate(42.2 192 488)" stroke-width="1.25"/>
<line x1="180.2" y1="444" x2="180.2" y2="472"/>
<ellipse cx="72.9" cy="524.5" rx="3.3" ry="5.4" transform="rotate(40.8 72.9 524.5)" stroke-width="1.25"/>
<ellipse cx="77.1" cy="526.8" rx="3.3" ry="5.4" transform="rotate(40.8 77.1 526.8)" stroke-width="1.25"/>
<ellipse cx="81.2" cy="529.1" rx="3.3" ry="5.4" transform="rotate(40.8 81.2 529.1)" stroke-width="1.25"/>
<ellipse cx="85.4" cy="531.4" rx="3.3" ry="5.4" transform="rotate(40.8 85.4 531.4)" stroke-width="1.25"/>
<ellipse cx="89.6" cy="533.6" rx="3.3" ry="5.4" transform="rotate(40.8 89.6 533.6)" stroke-width="1.25"/>
<ellipse cx="93.7" cy="535.9" rx="3.3" ry="5.4" transform="rotate(40.8 93.7 535.9)" stroke-width="1.25"/>
<ellipse cx="97.9" cy="538.2" rx="3.3" ry="5.4" transform="rotate(40.8 97.9 538.2)" stroke-width="1.25"/>
<ellipse cx="102" cy="540.5" rx="3.3" ry="5.4" transform="rotate(40.8 102 540.5)" stroke-width="1.25"/>
<ellipse cx="106.2" cy="542.8" rx="3.3" ry="5.4" transform="rotate(40.8 106.2 542.8)" stroke-width="1.25"/>
<line x1="93.3" y1="499.8" x2="93.3" y2="526.7"/>
<ellipse cx="193" cy="523.4" rx="5.7" ry="9.2" transform="rotate(41.7 193 523.4)" stroke-width="1.25"/>
<ellipse cx="199.5" cy="527.1" rx="5.7" ry="9.2" transform="rotate(41.7 199.5 527.1)" stroke-width="1.25"/>
<ellipse cx="205.9" cy="530.8" rx="5.7" ry="9.2" transform="rotate(41.7 205.9 530.8)" stroke-width="1.25"/>
<ellipse cx="212.4" cy="534.5" rx="5.7" ry="9.2" transform="rotate(41.7 212.4 534.5)" stroke-width="1.25"/>
<ellipse cx="218.8" cy="538.1" rx="5.7" ry="9.2" transform="rotate(41.7 218.8 538.1)" stroke-width="1.25"/>
<ellipse cx="225.3" cy="541.8" rx="5.7" ry="9.2" transform="rotate(41.7 225.3 541.8)" stroke-width="1.25"/>
<ellipse cx="231.7" cy="545.5" rx="5.7" ry="9.2" transform="rotate(41.7 231.7 545.5)" stroke-width="1.25"/>
<ellipse cx="238.2" cy="549.2" rx="5.7" ry="9.2" transform="rotate(41.7 238.2 549.2)" stroke-width="1.25"/>
<line x1="209.2" y1="546" x2="209.2" y2="574"/>
<ellipse cx="104" cy="576" rx="6" ry="9.7" transform="rotate(43.9 104 576)" stroke-width="1.25"/>
<ellipse cx="110.4" cy="580" rx="6" ry="9.7" transform="rotate(43.9 110.4 580)" stroke-width="1.25"/>
<ellipse cx="116.9" cy="584" rx="6" ry="9.7" transform="rotate(43.9 116.9 584)" stroke-width="1.25"/>
<ellipse cx="123.3" cy="588" rx="6" ry="9.7" transform="rotate(43.9 123.3 588)" stroke-width="1.25"/>
<ellipse cx="129.7" cy="592" rx="6" ry="9.7" transform="rotate(43.9 129.7 592)" stroke-width="1.25"/>
<ellipse cx="136.1" cy="596" rx="6" ry="9.7" transform="rotate(43.9 136.1 596)" stroke-width="1.25"/>
<ellipse cx="142.6" cy="600" rx="6" ry="9.7" transform="rotate(43.9 142.6 600)" stroke-width="1.25"/>
<ellipse cx="149" cy="604" rx="6" ry="9.7" transform="rotate(43.9 149 604)" stroke-width="1.25"/>
<line x1="121.6" y1="593" x2="121.6" y2="628.7"/>
<ellipse cx="319.5" cy="443.4" rx="5.9" ry="9.5" transform="rotate(42.2 319.5 443.4)" stroke-width="1.25"/>
<ellipse cx="326" cy="447.2" rx="5.9" ry="9.5" transform="rotate(42.2 326 447.2)" stroke-width="1.25"/>
<ellipse cx="332.4" cy="450.9" rx="5.9" ry="9.5" transform="rotate(42.2 332.4 450.9)" stroke-width="1.25"/>
<ellipse cx="338.9" cy="454.7" rx="5.9" ry="9.5" transform="rotate(42.2 338.9 454.7)" stroke-width="1.25"/>
<ellipse cx="345.4" cy="458.5" rx="5.9" ry="9.5" transform="rotate(42.2 345.4 458.5)" stroke-width="1.25"/>
<ellipse cx="351.9" cy="462.3" rx="5.9" ry="9.5" transform="rotate(42.2 351.9 462.3)" stroke-width="1.25"/>
<ellipse cx="358.3" cy="466" rx="5.9" ry="9.5" transform="rotate(42.2 358.3 466)" stroke-width="1.25"/>
<ellipse cx="364.8" cy="469.8" rx="5.9" ry="9.5" transform="rotate(42.2 364.8 469.8)" stroke-width="1.25"/>
<line x1="348.6" y1="419.2" x2="348.6" y2="447.7"/>
<ellipse cx="295.3" cy="484.5" rx="5.9" ry="9.5" transform="rotate(42.1 295.3 484.5)" stroke-width="1.25"/>
<ellipse cx="301.8" cy="488.3" rx="5.9" ry="9.5" transform="rotate(42.1 301.8 488.3)" stroke-width="1.25"/>
<ellipse cx="308.2" cy="492" rx="5.9" ry="9.5" transform="rotate(42.1 308.2 492)" stroke-width="1.25"/>
<ellipse cx="314.7" cy="495.8" rx="5.9" ry="9.5" transform="rotate(42.1 314.7 495.8)" stroke-width="1.25"/>
<ellipse cx="321.2" cy="499.5" rx="5.9" ry="9.5" transform="rotate(42.1 321.2 499.5)" stroke-width="1.25"/>
<ellipse cx="327.7" cy="503.3" rx="5.9" ry="9.5" transform="rotate(42.1 327.7 503.3)" stroke-width="1.25"/>
<ellipse cx="334.1" cy="507" rx="5.9" ry="9.5" transform="rotate(42.1 334.1 507)" stroke-width="1.25"/>
<ellipse cx="340.6" cy="510.8" rx="5.9" ry="9.5" transform="rotate(42.1 340.6 510.8)" stroke-width="1.25"/>
<line x1="312.5" y1="506.6" x2="312.5" y2="535"/>
<path d="M441.6,487.7 L441.6,459.9 L514.3,500.3 L514.3,560.3"/>
<line x1="481.2" y1="457.1" x2="481.2" y2="481.4"/>
<line x1="441.6" y1="506.6" x2="441.6" y2="519.3"/>
<ellipse cx="440.6" cy="530.8" rx="9.3" ry="13.5" transform="rotate(20 440.6 530.8)" stroke-width="1.2"/>
<ellipse cx="440.6" cy="530.8" rx="6" ry="10.1" transform="rotate(20 440.6 530.8)" stroke-width="1.2"/>
<ellipse cx="391.1" cy="540.3" rx="9.3" ry="13.5" transform="rotate(20 391.1 540.3)" stroke-width="1.2"/>
<ellipse cx="391.1" cy="540.3" rx="6" ry="10.1" transform="rotate(20 391.1 540.3)" stroke-width="1.2"/>
<ellipse cx="300.7" cy="590.4" rx="9.3" ry="13.5" transform="rotate(20 300.7 590.4)" stroke-width="1.2"/>
<ellipse cx="300.7" cy="590.4" rx="6" ry="10.1" transform="rotate(20 300.7 590.4)" stroke-width="1.2"/>
<ellipse cx="216.7" cy="649.4" rx="9.3" ry="13.5" transform="rotate(20 216.7 649.4)" stroke-width="1.2"/>
<ellipse cx="216.7" cy="649.4" rx="6" ry="10.1" transform="rotate(20 216.7 649.4)" stroke-width="1.2"/>
<ellipse cx="502.7" cy="570.9" rx="5.7" ry="13.5" transform="rotate(31.5 502.7 570.9)" stroke-width="1.2" fill="#fff"/>
<path d="M495.6,582.4 L523,599.2 L537.2,576.2 L509.8,559.4" stroke-width="1.2" fill="#fff"/>
<path d="M515.2,562.8 L516.2,563.9 L516.7,565.8 L516.6,568.2 L515.9,571.1 L514.7,574.1 L513,577.2 L511,580.1 L508.8,582.6 L506.6,584.5 L504.5,585.7 L502.6,586.1 L501.1,585.8" stroke-width="1.08"/>
<path d="M520.7,566.1 L521.7,567.3 L522.2,569.1 L522.1,571.6 L521.4,574.4 L520.2,577.5 L518.5,580.6 L516.5,583.5 L514.3,585.9 L512.1,587.9 L510,589.1 L508.1,589.5 L506.6,589.1" stroke-width="1.08"/>
<path d="M526.2,569.5 L527.2,570.6 L527.7,572.5 L527.5,574.9 L526.9,577.8 L525.6,580.9 L524,583.9 L522,586.8 L519.8,589.3 L517.6,591.2 L515.4,592.4 L513.6,592.9 L512.1,592.5" stroke-width="1.08"/>
<path d="M531.7,572.8 L532.7,574 L533.1,575.9 L533,578.3 L532.3,581.2 L531.1,584.2 L529.5,587.3 L527.5,590.2 L525.3,592.7 L523,594.6 L520.9,595.8 L519.1,596.2 L517.6,595.8" stroke-width="1.08"/>
<ellipse cx="530.1" cy="587.7" rx="5.7" ry="13.5" transform="rotate(31.5 530.1 587.7)" stroke-width="1.2" fill="#fff"/>
<ellipse cx="530.1" cy="587.7" rx="4" ry="9.4" transform="rotate(31.5 530.1 587.7)" stroke-width="1.08"/>
<ellipse cx="530.1" cy="587.7" rx="2.4" ry="5.1" transform="rotate(31.5 530.1 587.7)" stroke-width="1.08"/>
<ellipse cx="530.1" cy="587.7" rx="1.1" ry="2.2" transform="rotate(31.5 530.1 587.7)" stroke-width="1.08"/>
<ellipse cx="446.9" cy="576.1" rx="5.7" ry="13.5" transform="rotate(30.8 446.9 576.1)" stroke-width="1.2" fill="#fff"/>
<path d="M440,587.7 L468.4,604.6 L482.2,581.4 L453.8,564.5" stroke-width="1.2" fill="#fff"/>
<path d="M459.5,567.9 L460.5,569 L461,570.9 L460.9,573.3 L460.3,576.2 L459.1,579.3 L457.5,582.4 L455.5,585.3 L453.3,587.8 L451.1,589.7 L449,591 L447.2,591.4 L445.7,591.1" stroke-width="1.08"/>
<path d="M465.2,571.3 L466.2,572.4 L466.7,574.3 L466.6,576.7 L465.9,579.6 L464.8,582.7 L463.1,585.8 L461.2,588.7 L459,591.2 L456.8,593.1 L454.7,594.4 L452.9,594.8 L451.4,594.5" stroke-width="1.08"/>
<path d="M470.8,574.6 L471.9,575.8 L472.4,577.6 L472.3,580.1 L471.6,583 L470.4,586 L468.8,589.1 L466.9,592 L464.7,594.6 L462.5,596.5 L460.4,597.7 L458.5,598.2 L457,597.8" stroke-width="1.08"/>
<path d="M476.5,578 L477.5,579.2 L478,581 L477.9,583.5 L477.3,586.3 L476.1,589.4 L474.5,592.5 L472.5,595.4 L470.4,597.9 L468.2,599.9 L466.1,601.1 L464.2,601.6 L462.7,601.2" stroke-width="1.08"/>
<ellipse cx="475.3" cy="593" rx="5.7" ry="13.5" transform="rotate(30.8 475.3 593)" stroke-width="1.2" fill="#fff"/>
<ellipse cx="475.3" cy="593" rx="4" ry="9.4" transform="rotate(30.8 475.3 593)" stroke-width="1.08"/>
<ellipse cx="475.3" cy="593" rx="2.4" ry="5.1" transform="rotate(30.8 475.3 593)" stroke-width="1.08"/>
<ellipse cx="475.3" cy="593" rx="1.1" ry="2.2" transform="rotate(30.8 475.3 593)" stroke-width="1.08"/>
<ellipse cx="356.5" cy="623" rx="5.7" ry="13.5" transform="rotate(31.3 356.5 623)" stroke-width="1.2" fill="#fff"/>
<path d="M349.5,634.5 L377.5,651.5 L391.5,628.5 L363.5,611.5" stroke-width="1.2" fill="#fff"/>
<path d="M369.1,614.9 L370.1,616 L370.6,617.9 L370.5,620.3 L369.8,623.2 L368.6,626.3 L366.9,629.3 L365,632.2 L362.8,634.7 L360.6,636.6 L358.5,637.9 L356.6,638.3 L355.1,637.9" stroke-width="1.08"/>
<path d="M374.7,618.3 L375.7,619.4 L376.2,621.3 L376.1,623.7 L375.4,626.6 L374.2,629.7 L372.5,632.7 L370.6,635.6 L368.4,638.1 L366.2,640 L364.1,641.3 L362.2,641.7 L360.7,641.3" stroke-width="1.08"/>
<path d="M380.3,621.7 L381.3,622.8 L381.8,624.7 L381.7,627.1 L381,630 L379.8,633.1 L378.1,636.1 L376.2,639 L374,641.5 L371.8,643.4 L369.7,644.7 L367.8,645.1 L366.3,644.7" stroke-width="1.08"/>
<path d="M385.9,625.1 L386.9,626.2 L387.4,628.1 L387.3,630.5 L386.6,633.4 L385.4,636.5 L383.7,639.5 L381.8,642.4 L379.6,644.9 L377.4,646.8 L375.3,648.1 L373.4,648.5 L371.9,648.1" stroke-width="1.08"/>
<ellipse cx="384.5" cy="640" rx="5.7" ry="13.5" transform="rotate(31.3 384.5 640)" stroke-width="1.2" fill="#fff"/>
<ellipse cx="384.5" cy="640" rx="4" ry="9.4" transform="rotate(31.3 384.5 640)" stroke-width="1.08"/>
<ellipse cx="384.5" cy="640" rx="2.4" ry="5.1" transform="rotate(31.3 384.5 640)" stroke-width="1.08"/>
<ellipse cx="384.5" cy="640" rx="1.1" ry="2.2" transform="rotate(31.3 384.5 640)" stroke-width="1.08"/>
<ellipse cx="270.5" cy="680" rx="5.7" ry="13.5" transform="rotate(31.3 270.5 680)" stroke-width="1.2" fill="#fff"/>
<path d="M263.5,691.5 L291.5,708.5 L305.5,685.5 L277.5,668.5" stroke-width="1.2" fill="#fff"/>
<path d="M283.1,671.9 L284.1,673 L284.6,674.9 L284.5,677.3 L283.8,680.2 L282.6,683.3 L280.9,686.3 L279,689.2 L276.8,691.7 L274.6,693.6 L272.5,694.9 L270.6,695.3 L269.1,694.9" stroke-width="1.08"/>
<path d="M288.7,675.3 L289.7,676.4 L290.2,678.3 L290.1,680.7 L289.4,683.6 L288.2,686.7 L286.5,689.7 L284.6,692.6 L282.4,695.1 L280.2,697 L278.1,698.3 L276.2,698.7 L274.7,698.3" stroke-width="1.08"/>
<path d="M294.3,678.7 L295.3,679.8 L295.8,681.7 L295.7,684.1 L295,687 L293.8,690.1 L292.1,693.1 L290.2,696 L288,698.5 L285.8,700.4 L283.7,701.7 L281.8,702.1 L280.3,701.7" stroke-width="1.08"/>
<path d="M299.9,682.1 L300.9,683.2 L301.4,685.1 L301.3,687.5 L300.6,690.4 L299.4,693.5 L297.7,696.5 L295.8,699.4 L293.6,701.9 L291.4,703.8 L289.3,705.1 L287.4,705.5 L285.9,705.1" stroke-width="1.08"/>
<ellipse cx="298.5" cy="697" rx="5.7" ry="13.5" transform="rotate(31.3 298.5 697)" stroke-width="1.2" fill="#fff"/>
<ellipse cx="298.5" cy="697" rx="4" ry="9.4" transform="rotate(31.3 298.5 697)" stroke-width="1.08"/>
<ellipse cx="298.5" cy="697" rx="2.4" ry="5.1" transform="rotate(31.3 298.5 697)" stroke-width="1.08"/>
<ellipse cx="298.5" cy="697" rx="1.1" ry="2.2" transform="rotate(31.3 298.5 697)" stroke-width="1.08"/>
<path d="M395.3,550.9 L421.6,564.5 L421.6,603.5"/>
<path d="M421.6,624.5 L421.6,662.9 L476.1,662.9 L476.1,598"/>
<line x1="449.7" y1="662.9" x2="449.7" y2="691.7"/>
<path d="M307.9,596.1 L324.2,603.5 L324.2,651"/>
<path d="M324.2,672 L324.2,714.2 L388.3,714.2 L388.3,646"/>
<line x1="354.4" y1="714.2" x2="354.4" y2="744"/>
<path d="M212.2,662 L212.2,690"/>
<path d="M212.2,710 L212.2,740.9 L290.6,740.9 L290.6,703"/>
<line x1="251.4" y1="740.9" x2="251.4" y2="773"/>
<!-- e.svg -->
<g transform="translate(220,850) scale(0.18577)">
<path d="M185,150 L225,95 L245,78 L280,78 L295,100 L295,160 L300,175 L340,180 L355,200 L355,300 L370,320 L420,335 L540,345 L830,345 L950,335 L1000,310 L1040,250 L1070,200 L1090,188 L1130,190 L1140,210 L1140,300 L1080,320 L1075,350 L1100,375 L1130,390 L1130,440 L1135,510 L1130,560 L1135,800 L1120,830 L1112,1000 L1060,1040 L1000,1060 L900,1070 L800,1068 L760,1095 L720,1105 L600,1085 L480,1092 L400,1085 L330,1100 L270,1110 L230,1090 L185,1030 L190,800 L200,500 L210,300 L195,200 Z" stroke-width="1.3"/>
<path d="M525,520 L525,345"/>
<path d="M825,345 L825,520"/>
<path d="M490,790 L490,1085"/>
<path d="M815,790 L815,1065"/>
<path d="M480,510 L850,510 L850,790 L480,790 Z"/>
<path d="M850,530 L1238,530"/>
<path d="M690,555 L690,660 L745,660 L745,555 L690,555"/>
<path d="M690,745 L680,820 L720,820 L720,745"/>
<path d="M590,690 L660,670 L660,720 L600,720 Z"/>
<ellipse cx="310" cy="970" rx="45" ry="45"/>
<ellipse cx="470" cy="1000" rx="80" ry="80"/>
<ellipse cx="650" cy="960" rx="75" ry="75"/>
<ellipse cx="840" cy="955" rx="75" ry="75"/>
<ellipse cx="1015" cy="950" rx="78" ry="78"/>
<path d="M570,860 L600,860 L640,890 L700,900 L760,880 L770,940"/>
<path d="M940,870 L1000,880 L1100,920 L1110,990 L1060,1040"/>
<path d="M470,985 L560,960 L620,1000 L680,970 L760,1000"/>
<path d="M275.8,167 L255,179 L234.2,167 L234.2,143 L255,131 L275.8,143 Z" stroke-width="1.1"/>
<circle cx="255" cy="155" r="14.9" stroke-width="1.1"/>
<circle cx="255" cy="155" r="6.7" stroke-width="1.0"/>
<path d="M265.8,274 L245,286 L224.2,274 L224.2,250 L245,238 L265.8,250 Z" stroke-width="1.1"/>
<circle cx="245" cy="262" r="14.9" stroke-width="1.1"/>
<circle cx="245" cy="262" r="6.7" stroke-width="1.0"/>
<path d="M255.8,512 L235,524 L214.2,512 L214.2,488 L235,476 L255.8,488 Z" stroke-width="1.1"/>
<circle cx="235" cy="500" r="14.9" stroke-width="1.1"/>
<circle cx="235" cy="500" r="6.7" stroke-width="1.0"/>
<path d="M365.8,652 L345,664 L324.2,652 L324.2,628 L345,616 L365.8,628 Z" stroke-width="1.1"/>
<circle cx="345" cy="640" r="14.9" stroke-width="1.1"/>
<circle cx="345" cy="640" r="6.7" stroke-width="1.0"/>
<path d="M355.8,862 L335,874 L314.2,862 L314.2,838 L335,826 L355.8,838 Z" stroke-width="1.1"/>
<circle cx="335" cy="850" r="14.9" stroke-width="1.1"/>
<circle cx="335" cy="850" r="6.7" stroke-width="1.0"/>
<path d="M235.8,1042 L215,1054 L194.2,1042 L194.2,1018 L215,1006 L235.8,1018 Z" stroke-width="1.1"/>
<circle cx="215" cy="1030" r="14.9" stroke-width="1.1"/>
<circle cx="215" cy="1030" r="6.7" stroke-width="1.0"/>
<path d="M390.8,1092 L370,1104 L349.2,1092 L349.2,1068 L370,1056 L390.8,1068 Z" stroke-width="1.1"/>
<circle cx="370" cy="1080" r="14.9" stroke-width="1.1"/>
<circle cx="370" cy="1080" r="6.7" stroke-width="1.0"/>
<path d="M570.8,1097 L550,1109 L529.2,1097 L529.2,1073 L550,1061 L570.8,1073 Z" stroke-width="1.1"/>
<circle cx="550" cy="1085" r="14.9" stroke-width="1.1"/>
<circle cx="550" cy="1085" r="6.7" stroke-width="1.0"/>
<path d="M740.8,1094 L720,1106 L699.2,1094 L699.2,1070 L720,1058 L740.8,1070 Z" stroke-width="1.1"/>
<circle cx="720" cy="1082" r="14.9" stroke-width="1.1"/>
<circle cx="720" cy="1082" r="6.7" stroke-width="1.0"/>
<path d="M895.8,1087 L875,1099 L854.2,1087 L854.2,1063 L875,1051 L895.8,1063 Z" stroke-width="1.1"/>
<circle cx="875" cy="1075" r="14.9" stroke-width="1.1"/>
<circle cx="875" cy="1075" r="6.7" stroke-width="1.0"/>
<path d="M1010.8,1080 L990,1092 L969.2,1080 L969.2,1056 L990,1044 L1010.8,1056 Z" stroke-width="1.1"/>
<circle cx="990" cy="1068" r="14.9" stroke-width="1.1"/>
<circle cx="990" cy="1068" r="6.7" stroke-width="1.0"/>
<path d="M615.8,397 L595,409 L574.2,397 L574.2,373 L595,361 L615.8,373 Z" stroke-width="1.1"/>
<circle cx="595" cy="385" r="14.9" stroke-width="1.1"/>
<circle cx="595" cy="385" r="6.7" stroke-width="1.0"/>
<path d="M710.8,397 L690,409 L669.2,397 L669.2,373 L690,361 L710.8,373 Z" stroke-width="1.1"/>
<circle cx="690" cy="385" r="14.9" stroke-width="1.1"/>
<circle cx="690" cy="385" r="6.7" stroke-width="1.0"/>
<path d="M815.8,397 L795,409 L774.2,397 L774.2,373 L795,361 L815.8,373 Z" stroke-width="1.1"/>
<circle cx="795" cy="385" r="14.9" stroke-width="1.1"/>
<circle cx="795" cy="385" r="6.7" stroke-width="1.0"/>
<path d="M1065.8,417 L1045,429 L1024.2,417 L1024.2,393 L1045,381 L1065.8,393 Z" stroke-width="1.1"/>
<circle cx="1045" cy="405" r="14.9" stroke-width="1.1"/>
<circle cx="1045" cy="405" r="6.7" stroke-width="1.0"/>
<path d="M995.8,492 L975,504 L954.2,492 L954.2,468 L975,456 L995.8,468 Z" stroke-width="1.1"/>
<circle cx="975" cy="480" r="14.9" stroke-width="1.1"/>
<circle cx="975" cy="480" r="6.7" stroke-width="1.0"/>
<path d="M585.8,562 L565,574 L544.2,562 L544.2,538 L565,526 L585.8,538 Z" stroke-width="1.1"/>
<circle cx="565" cy="550" r="14.9" stroke-width="1.1"/>
<circle cx="565" cy="550" r="6.7" stroke-width="1.0"/>
<path d="M685.8,562 L665,574 L644.2,562 L644.2,538 L665,526 L685.8,538 Z" stroke-width="1.1"/>
<circle cx="665" cy="550" r="14.9" stroke-width="1.1"/>
<circle cx="665" cy="550" r="6.7" stroke-width="1.0"/>
<path d="M790.8,567 L770,579 L749.2,567 L749.2,543 L770,531 L790.8,543 Z" stroke-width="1.1"/>
<circle cx="770" cy="555" r="14.9" stroke-width="1.1"/>
<circle cx="770" cy="555" r="6.7" stroke-width="1.0"/>
<path d="M565.8,742 L545,754 L524.2,742 L524.2,718 L545,706 L565.8,718 Z" stroke-width="1.1"/>
<circle cx="545" cy="730" r="14.9" stroke-width="1.1"/>
<circle cx="545" cy="730" r="6.7" stroke-width="1.0"/>
<path d="M665.8,742 L645,754 L624.2,742 L624.2,718 L645,706 L665.8,718 Z" stroke-width="1.1"/>
<circle cx="645" cy="730" r="14.9" stroke-width="1.1"/>
<circle cx="645" cy="730" r="6.7" stroke-width="1.0"/>
<path d="M770.8,742 L750,754 L729.2,742 L729.2,718 L750,706 L770.8,718 Z" stroke-width="1.1"/>
<circle cx="750" cy="730" r="14.9" stroke-width="1.1"/>
<circle cx="750" cy="730" r="6.7" stroke-width="1.0"/>
<path d="M940.8,637 L920,649 L899.2,637 L899.2,613 L920,601 L940.8,613 Z" stroke-width="1.1"/>
<circle cx="920" cy="625" r="14.9" stroke-width="1.1"/>
<circle cx="920" cy="625" r="6.7" stroke-width="1.0"/>
<path d="M1100.8,692 L1080,704 L1059.2,692 L1059.2,668 L1080,656 L1100.8,668 Z" stroke-width="1.1"/>
<circle cx="1080" cy="680" r="14.9" stroke-width="1.1"/>
<circle cx="1080" cy="680" r="6.7" stroke-width="1.0"/>
<path d="M965.8,857 L945,869 L924.2,857 L924.2,833 L945,821 L965.8,833 Z" stroke-width="1.1"/>
<circle cx="945" cy="845" r="14.9" stroke-width="1.1"/>
<circle cx="945" cy="845" r="6.7" stroke-width="1.0"/>
<path d="M1105.8,852 L1085,864 L1064.2,852 L1064.2,828 L1085,816 L1105.8,828 Z" stroke-width="1.1"/>
<circle cx="1085" cy="840" r="14.9" stroke-width="1.1"/>
<circle cx="1085" cy="840" r="6.7" stroke-width="1.0"/>
<path d="M570.8,942 L550,954 L529.2,942 L529.2,918 L550,906 L570.8,918 Z" stroke-width="1.1"/>
<circle cx="550" cy="930" r="14.9" stroke-width="1.1"/>
<circle cx="550" cy="930" r="6.7" stroke-width="1.0"/>
<path d="M675.8,942 L655,954 L634.2,942 L634.2,918 L655,906 L675.8,918 Z" stroke-width="1.1"/>
<circle cx="655" cy="930" r="14.9" stroke-width="1.1"/>
<circle cx="655" cy="930" r="6.7" stroke-width="1.0"/>
<path d="M738.8,942 L718,954 L697.2,942 L697.2,918 L718,906 L738.8,918 Z" stroke-width="1.1"/>
<circle cx="718" cy="930" r="14.9" stroke-width="1.1"/>
<circle cx="718" cy="930" r="6.7" stroke-width="1.0"/>
<path d="M385.8,502 L365,514 L344.2,502 L344.2,478 L365,466 L385.8,478 Z" stroke-width="1.1"/>
<circle cx="365" cy="490" r="14.9" stroke-width="1.1"/>
<circle cx="365" cy="490" r="6.7" stroke-width="1.0"/>
<path d="M240.8,834 L220,846 L199.2,834 L199.2,810 L220,798 L240.8,810 Z" stroke-width="2.0"/>
<circle cx="220" cy="822" r="14.9" stroke-width="1.1"/>
<circle cx="220" cy="822" r="6.7" stroke-width="1.0"/>
<path d="M355.8,862 L335,874 L314.2,862 L314.2,838 L335,826 L355.8,838 Z" stroke-width="2.0"/>
<circle cx="335" cy="850" r="14.9" stroke-width="1.1"/>
<circle cx="335" cy="850" r="6.7" stroke-width="1.0"/>
<ellipse cx="260" cy="108" rx="18" ry="18"/>
<ellipse cx="320" cy="205" rx="20" ry="20"/>
<ellipse cx="285" cy="330" rx="14" ry="14"/>
<ellipse cx="370" cy="420" rx="15" ry="15"/>
<ellipse cx="285" cy="425" rx="12" ry="12"/>
<ellipse cx="455" cy="440" rx="14" ry="14"/>
<ellipse cx="497" cy="420" rx="15" ry="15"/>
<ellipse cx="540" cy="415" rx="14" ry="14"/>
<ellipse cx="665" cy="410" rx="14" ry="14"/>
<ellipse cx="580" cy="425" rx="12" ry="12"/>
<ellipse cx="970" cy="400" rx="13" ry="13"/>
<ellipse cx="1095" cy="400" rx="16" ry="16"/>
<ellipse cx="1070" cy="485" rx="25" ry="25"/>
<ellipse cx="1100" cy="220" rx="16" ry="16"/>
<ellipse cx="1100" cy="272" rx="16" ry="16"/>
<ellipse cx="440" cy="650" rx="45" ry="45"/>
<ellipse cx="375" cy="685" rx="15" ry="15"/>
<ellipse cx="410" cy="730" rx="15" ry="15"/>
<ellipse cx="525" cy="635" rx="15" ry="15"/>
<ellipse cx="565" cy="635" rx="15" ry="15"/>
<ellipse cx="655" cy="635" rx="15" ry="15"/>
<ellipse cx="780" cy="630" rx="15" ry="15"/>
<ellipse cx="612" cy="620" rx="10" ry="10"/>
<ellipse cx="250" cy="770" rx="18" ry="18"/>
<ellipse cx="670" cy="850" rx="14" ry="14"/>
<ellipse cx="530" cy="885" rx="14" ry="14"/>
<ellipse cx="745" cy="880" rx="14" ry="14"/>
<ellipse cx="285" cy="1065" rx="22" ry="22"/>
<ellipse cx="1075" cy="765" rx="15" ry="15"/>
<ellipse cx="795" cy="840" rx="12" ry="12"/>
<ellipse cx="965" cy="600" rx="15" ry="15"/>
<rect x="628.1" y="746.2" width="10.8" height="11" stroke-width="1.1"/>
<rect x="746.9" y="487.4" width="11.1" height="11.8" stroke-width="1.1"/>
<rect x="927.8" y="424.9" width="9.8" height="8.5" stroke-width="1.1"/>
<rect x="942.5" y="838.5" width="8.3" height="13.9" stroke-width="1.1"/>
<rect x="1079" y="811.2" width="11.7" height="8.9" stroke-width="1.1"/>
<rect x="243.2" y="724.6" width="8.4" height="9.1" stroke-width="1.1"/>
<rect x="442.9" y="380.8" width="10.8" height="10.6" stroke-width="1.1"/>
<rect x="971.3" y="718.2" width="11.8" height="11" stroke-width="1.1"/>
<rect x="813" y="675.6" width="14" height="14" stroke-width="1.1"/>
<rect x="969.4" y="848.4" width="9.9" height="9.4" stroke-width="1.1"/>
<rect x="484.4" y="408.5" width="12.6" height="10.4" stroke-width="1.1"/>
<rect x="975" y="626.7" width="13.7" height="13.1" stroke-width="1.1"/>
<rect x="230.5" y="504.7" width="13.5" height="10.8" stroke-width="1.1"/>
<rect x="1092.7" y="634.2" width="8.4" height="11.8" stroke-width="1.1"/>
<rect x="915.1" y="546.1" width="8.5" height="10" stroke-width="1.1"/>
<rect x="1078.4" y="883" width="8.7" height="9.5" stroke-width="1.1"/>
<rect x="318.9" y="401.3" width="12.8" height="9.1" stroke-width="1.1"/>
<rect x="722.2" y="668.7" width="12.4" height="8.8" stroke-width="1.1"/>
<rect x="796.5" y="440.4" width="10.5" height="9.3" stroke-width="1.1"/>
<rect x="467.4" y="1029.9" width="12.8" height="9.8" stroke-width="1.1"/>
<rect x="1008.7" y="505.4" width="10.4" height="13.1" stroke-width="1.1"/>
<rect x="794.8" y="429.2" width="13.9" height="9.3" stroke-width="1.1"/>
<rect x="457.3" y="893.2" width="10" height="9.8" stroke-width="1.1"/>
<rect x="294.6" y="422.2" width="11.5" height="9.5" stroke-width="1.1"/>
<rect x="759.1" y="616.5" width="13.8" height="10.9" stroke-width="1.1"/>
<rect x="735.6" y="957.9" width="9.1" height="8.9" stroke-width="1.1"/>
<rect x="1029.4" y="924.3" width="9.5" height="9.1" stroke-width="1.1"/>
<rect x="880.7" y="1008.9" width="9.2" height="13.7" stroke-width="1.1"/>
<rect x="1006.3" y="776.4" width="10.5" height="8.6" stroke-width="1.1"/>
<rect x="264.1" y="1024.3" width="9.4" height="12.2" stroke-width="1.1"/>
<rect x="456.1" y="928.4" width="11.6" height="9.8" stroke-width="1.1"/>
<rect x="384.4" y="857" width="8.4" height="9.4" stroke-width="1.1"/>
<rect x="722.2" y="948.2" width="11.7" height="9.7" stroke-width="1.1"/>
<rect x="1037.3" y="500.7" width="8.1" height="9.6" stroke-width="1.1"/>
<rect x="622.2" y="401.7" width="9.1" height="10.2" stroke-width="1.1"/>
<rect x="733.5" y="450.8" width="10.2" height="13.3" stroke-width="1.1"/>
<rect x="1092.8" y="813.3" width="12.1" height="11.5" stroke-width="1.1"/>
<rect x="353.5" y="384.2" width="8.1" height="13.5" stroke-width="1.1"/>
<rect x="846.9" y="1024.3" width="8.1" height="11.8" stroke-width="1.1"/>
<rect x="654.4" y="864" width="9.9" height="14" stroke-width="1.1"/>
<rect x="296.2" y="736.8" width="12.4" height="13.4" stroke-width="1.1"/>
<rect x="878.6" y="845.5" width="12.8" height="13.5" stroke-width="1.1"/>
<rect x="539.6" y="832.8" width="13.4" height="13.2" stroke-width="1.1"/>
<rect x="597.1" y="905.5" width="13.2" height="11.4" stroke-width="1.1"/>
<rect x="780" y="623.8" width="11.7" height="8.5" stroke-width="1.1"/>
<path d="M530,455 L580,450 L585,470 L530,472 Z"/>
<path d="M395,775 L450,765 L455,785 L395,790 Z"/>
<path d="M705,405 L760,398 L765,420 L710,425 Z"/>
<path d="M1000,600 L985,615 L960,610"/>
<path d="M0,212 L62,212"/>
<path d="M225,158 L62,158 L62,268 L215,268"/>
<path d="M270,418 L62,418 L62,920 L240,920 L320,880"/>
<path d="M270,418 L345,470"/>
<path d="M62,500 L205,500"/>
<path d="M62,643 L320,643"/>
<path d="M62,820 L190,820"/>
<path d="M0,668 L62,668"/>
<path d="M30,1028 L185,1028"/>
<path d="M697,68 L697,345"/>
<path d="M595,360 L595,235 L795,235 L795,360"/>
<path d="M1075,0 L1075,135"/>
<path d="M975,470 L975,135 L1170,135 L1170,445 L1110,470"/>
<path d="M1048,135 L1048,390"/>
<path d="M940,625 L1220,625 L1220,680 L1080,680"/>
<path d="M1220,650 L1238,650"/>
<path d="M1085,840 L1220,840 L1220,1068 L990,1068"/>
<path d="M1010,915 L1220,915"/>
<path d="M1220,955 L1238,955"/>
<path d="M370,1085 L370,1211"/>
</g>
<path d="M307.2,1035 L307.2,1072.6 L352.9,1072.6 L352.9,1052"/>
<line x1="322.2" y1="1052" x2="322.2" y2="1072.6"/>
<path d="M335.8,1032 L335.8,1125.7"/>
<path d="M368.4,1042 L368.4,1072.6 L383.5,1072.6 L383.5,1052"/>
<line x1="376.4" y1="1072.6" x2="376.4" y2="1105"/>
<line x1="288.7" y1="1062" x2="288.7" y2="1087"/>
<text x="294" y="1183.5" style="font-size:27px;stroke-width:0.3px;letter-spacing:-0.3px">VIEW</text>
<circle cx="378.6" cy="1173.8" r="13.5" stroke-width="1.3"/>
<text x="369.5" y="1182.5" style="font-size:23px;stroke-width:0.3px;letter-spacing:0">A</text>
<line x1="293" y1="1192.7" x2="395" y2="1192.7" stroke-width="1.4"/>
<!-- f.svg -->
<rect x="678.5" y="73.5" width="1043.5" height="1115.5" stroke-width="1.3"/>
<line x1="1220.7" y1="44.4" x2="1220.7" y2="73.5"/>
<g transform="translate(780,100) scale(0.23111)">
<path d="M100,380 L130,320 L160,305 L190,320 L200,345 L235,370 L240,460 L270,455 L350,420 L470,370 L560,330 L640,270 L690,220 L730,150 L760,75 L790,58 L810,75 L805,200 L800,300 L790,480 L785,600 L780,680 L760,740 L700,800 L660,830 L630,845 L600,880 L560,880 L500,910 L470,940 L420,960 L370,1000 L300,1030 L250,1060 L200,1100 L150,1135 L80,1110 L90,900 L100,700 L110,500 Z" stroke-width="1.3"/>
<path d="M118,420 L112,700 L105,1000 L100,1110" stroke-width="1"/>
<path d="M650,260 L700,210 L730,160" stroke-width="1"/>
<ellipse cx="690" cy="812" rx="16" ry="14" stroke-width="1.1"/>
<ellipse cx="610" cy="860" rx="16" ry="14" stroke-width="1.1"/>
<ellipse cx="510" cy="912" rx="16" ry="14" stroke-width="1.1"/>
<ellipse cx="370" cy="995" rx="16" ry="14" stroke-width="1.1"/>
<ellipse cx="230" cy="1070" rx="16" ry="14" stroke-width="1.1"/>
<ellipse cx="150" cy="1120" rx="16" ry="14" stroke-width="1.1"/>
<path d="M239,798.7 L236.1,801.8 L232.4,803.5 L228.6,803.5 L224.9,801.8 L222,798.7 L220.1,794.5 L219.4,789.8 L220.1,785 L222,780.8 L224.9,777.7 L228.6,776.1 L232.4,776.1 L236.1,777.7" stroke-width="1.2"/>
<circle cx="661.3" cy="612.5" r="1.2" fill="#000"/>
<path d="M754.3,537.9 L751,541.3 L747.1,543.1 L742.9,543.1 L738.9,541.3 L735.7,537.9 L733.6,533.4 L732.8,528.2 L733.6,523 L735.7,518.4 L738.9,515 L742.9,513.2 L747.1,513.2 L751,515" stroke-width="1.2"/>
<path d="M346.6,609.9 L342.8,611.8 L338.8,612 L334.9,610.4 L331.7,607.3 L329.6,603 L328.7,598.1 L329.3,593 L331.2,588.6 L334.2,585.2 L338,583.3 L342,583.1 L345.9,584.7 L349.1,587.8" stroke-width="1.2"/>
<path d="M233.4,843.9 L227.4,845.2 L221.6,843.4 L217,838.8 L214.4,832.2 L214.3,825 L216.8,818.4 L221.4,813.7 L227.2,811.8" stroke-width="1.2"/>
<path d="M705.4,345.9 L702.1,347.5 L698.5,347.5 L695.2,346.1 L692.4,343.3 L690.6,339.5 L689.9,335.1 L690.4,330.7 L692.2,326.8 L694.9,323.9 L698.2,322.3 L701.7,322.2 L705.1,323.6" stroke-width="1.2"/>
<path d="M516.7,840.3 L513.4,843 L509.5,844 L505.6,843.3 L502.1,841 L499.5,837.3 L498,832.7 L497.8,827.8 L499.1,823.1 L501.5,819.2 L504.8,816.6 L508.7,815.5 L512.6,816.2 L516.1,818.5" stroke-width="1.2"/>
<line x1="479" y1="392" x2="478.3" y2="420" stroke-width="1.2"/>
<line x1="678.9" y1="258.9" x2="677.1" y2="283" stroke-width="1.2"/>
<path d="M528.9,633.1 L525.5,635.5 L521.6,636.4 L517.7,635.5 L514.3,633.1 L511.7,629.3 L510.4,624.6 L510.4,619.7 L511.7,615.1 L514.3,611.3 L517.7,608.8 L521.6,607.9 L525.5,608.8 L528.9,611.3" stroke-width="1.2"/>
<path d="M749.2,454.8 L746.5,457.7 L743.1,459.4 L739.5,459.4 L736.1,458 L733.3,455.1 L731.4,451.3 L730.8,446.8 L731.3,442.4 L733.1,438.4 L735.8,435.5 L739.2,433.9 L742.8,433.8 L746.2,435.3" stroke-width="1.2"/>
<path d="M244,540.2 L240.4,542.6 L236.4,543.4 L232.4,542.5 L228.9,539.8 L226.3,535.9 L225,531 L225,525.9 L226.5,521.1 L229.2,517.3 L232.8,514.8 L236.8,514 L240.8,515" stroke-width="1.2"/>
<path d="M770.4,519 L766.6,521.8 L762.3,522.9 L757.9,522 L754.1,519.3 L751.2,515.2 L749.6,510 L749.5,504.5 L751,499.3 L753.7,495.1 L757.5,492.2 L761.8,491.2 L766.2,492" stroke-width="1.2"/>
<path d="M458.4,485.9 L455,489.3 L450.9,491.1 L446.5,491 L442.4,489.1 L439.1,485.5 L437,480.7 L436.3,475.3 L437.2,469.9 L439.4,465.2 L442.8,461.8 L446.9,460 L451.3,460.1 L455.4,462.1" stroke-width="1.2"/>
<line x1="414.3" y1="507.5" x2="413.4" y2="531.9" stroke-width="1.2"/>
<path d="M700.2,767 L697.4,770.2 L693.8,771.9 L690,771.9 L686.4,770.4 L683.5,767.4 L681.5,763.3 L680.8,758.7 L681.4,754 L683.2,749.8 L686.1,746.7 L689.6,745 L693.4,744.9 L697,746.5 L700,749.5" stroke-width="1.2"/>
<line x1="762.4" y1="625.6" x2="761.3" y2="649.9" stroke-width="1.2"/>
<path d="M721.8,691.5 L724.3,698.2 L724.1,705.4 L721.4,711.9 L716.7,716.4 L710.8,718.1 L704.9,716.6 L700.1,712.3 L697.2,706 L696.8,698.7" stroke-width="1.2"/>
<path d="M222.9,697.1 L219.9,700.8 L216.1,703 L211.9,703.4 L207.9,702.1 L204.5,699.1 L202.1,694.8 L201,689.7 L201.3,684.5 L203.1,679.8 L206.1,676.1 L209.9,673.9 L214,673.4 L218.1,674.8" stroke-width="1.2"/>
<path d="M765.7,135.6 L762,137.6 L757.9,138 L754.1,136.6 L750.8,133.6 L748.5,129.4 L747.5,124.5 L748,119.5 L749.7,114.9 L752.6,111.4 L756.3,109.4 L760.4,109 L764.3,110.4" stroke-width="1.2"/>
<path d="M300.3,513.1 L297.8,516.1 L294.6,517.8 L291.1,518 L287.8,516.8 L285,514.2 L283.1,510.5 L282.3,506.3 L282.7,501.9 L284.3,498.1 L286.9,495.1 L290.1,493.4 L293.5,493.2 L296.9,494.4 L299.7,497.1" stroke-width="1.2"/>
<path d="M144.8,554.3 L142.3,557.2 L139.2,558.8 L135.8,559.1 L132.5,557.8 L129.8,555.2 L127.9,551.7 L127.1,547.5 L127.6,543.3 L129.1,539.5 L131.6,536.6 L134.8,534.9 L138.2,534.7 L141.4,535.9 L144.2,538.5" stroke-width="1.2"/>
<circle cx="694.5" cy="301.6" r="1.2" fill="#000"/>
<path d="M534.5,613.6 L531.6,617.3 L527.8,619.5 L523.6,620 L519.5,618.6 L516,615.6 L513.6,611.3 L512.5,606.2 L512.9,601 L514.7,596.2 L517.7,592.5 L521.5,590.2 L525.7,589.8 L529.7,591.1" stroke-width="1.2"/>
<path d="M172,873.8 L168.7,877.3 L164.7,879.1 L160.4,879.1 L156.4,877.3 L153.1,873.8 L150.9,869.2 L150.2,863.9 L150.9,858.6 L153.1,854 L156.4,850.6 L160.4,848.7 L164.7,848.7 L168.7,850.6" stroke-width="1.2"/>
<path d="M533.5,854.9 L530.6,857.8 L527,859.2 L523.2,859.1 L519.7,857.3 L516.9,854.2 L515.2,850 L514.6,845.3 L515.4,840.7 L517.4,836.7 L520.4,833.8 L524,832.4 L527.7,832.5 L531.2,834.3" stroke-width="1.2"/>
<circle cx="317.7" cy="603.1" r="1.2" fill="#000"/>
<path d="M510.7,656.6 L507.2,658.8 L503.3,659.4 L499.5,658.3 L496.2,655.7 L493.9,651.8 L492.8,647.1 L493,642.3 L494.5,637.8 L497.1,634.2 L500.6,632 L504.5,631.4 L508.3,632.5" stroke-width="1.2"/>
<circle cx="327.8" cy="799.4" r="1.2" fill="#000"/>
<path d="M256.3,727.3 L252.8,730.6 L248.6,732.2 L244.1,732 L240.1,729.8 L236.8,726 L234.8,721.1 L234.3,715.6 L235.3,710.2 L237.7,705.6 L241.2,702.3 L245.4,700.7 L249.9,701 L253.9,703.1" stroke-width="1.2"/>
<path d="M427.4,733 L423.8,735.4 L419.8,736.1 L415.8,735 L412.3,732.3 L409.8,728.3 L408.5,723.4 L408.7,718.3 L410.2,713.6 L412.9,709.8 L416.6,707.4 L420.6,706.7 L424.6,707.7 L428.1,710.5" stroke-width="1.2"/>
<path d="M290.3,694.3 L289.9,686.6 L292.3,679.4 L297,674.1 L303.1,671.6 L309.5,672.5 L315,676.6 L318.5,683 L319.5,690.7" stroke-width="1.2"/>
<path d="M385.8,594.4 L383.2,597.2 L380.1,598.7 L376.7,598.8 L373.5,597.4 L370.9,594.8 L369.1,591.1 L368.5,587 L369,582.8 L370.7,579.1 L373.2,576.4 L376.4,574.9 L379.7,574.8 L382.9,576.2" stroke-width="1.2"/>
<path d="M427,743.5 L423.7,745.2 L420.1,745.5 L416.6,744.2 L413.7,741.5 L411.8,737.7 L411,733.3 L411.4,728.8 L413,724.8 L415.7,721.7 L419,719.9 L422.6,719.7 L426,721" stroke-width="1.2"/>
<path d="M336.5,499 L334,501.8 L330.7,503.4 L327.3,503.4 L324.1,502 L321.4,499.3 L319.6,495.7 L319,491.4 L319.5,487.2 L321.2,483.4 L323.8,480.6 L327,479.1 L330.4,479 L333.7,480.4" stroke-width="1.2"/>
<line x1="535.4" y1="475.4" x2="537.3" y2="507.3" stroke-width="1.2"/>
<path d="M238.6,543.5 L235.4,545.9 L231.7,546.8 L228,546 L224.7,543.8 L222.3,540.2 L220.9,535.8 L220.9,531.2 L222.1,526.7 L224.4,523.1 L227.6,520.7 L231.3,519.8 L235,520.5 L238.3,522.8" stroke-width="1.2"/>
<path d="M589.8,827.5 L586.2,830.6 L581.9,831.9 L577.6,831.3 L573.7,828.9 L570.6,825 L568.8,820 L568.5,814.5 L569.7,809.3 L572.3,804.8 L575.9,801.8 L580.2,800.5 L584.5,801 L588.5,803.4" stroke-width="1.2"/>
<path d="M541,391.9 L537.5,394.4 L533.5,395.3 L529.4,394.4 L525.9,391.9 L523.3,388 L521.9,383.2 L521.9,378.1 L523.3,373.3 L525.9,369.4 L529.4,366.8 L533.5,366 L537.5,366.8 L541,369.4" stroke-width="1.2"/>
<path d="M779.8,328.1 L775.9,330.1 L771.7,330.3 L767.6,328.6 L764.3,325.4 L762.1,320.9 L761.2,315.7 L761.8,310.5 L763.8,305.8 L766.9,302.3 L770.8,300.3 L775.1,300.1 L779.1,301.7" stroke-width="1.2"/>
<path d="M140.3,611 L137.1,613.6 L133.5,614.8 L129.7,614.3 L126.3,612.2 L123.7,608.8 L122.2,604.5 L121.9,599.8 L122.9,595.2 L125.2,591.4 L128.3,588.8 L132,587.6 L135.7,588.1 L139.1,590.2" stroke-width="1.2"/>
<path d="M256,478.9 L253.2,482 L249.7,483.8 L246,483.9 L242.4,482.5 L239.5,479.6 L237.5,475.6 L236.7,471 L237.2,466.4 L239,462.3 L241.8,459.1 L245.3,457.4 L249,457.2 L252.6,458.7" stroke-width="1.2"/>
<path d="M678.5,638.8 L675.4,641.4 L671.9,642.6 L668.2,642.2 L664.9,640.3 L662.3,637 L660.7,632.8 L660.4,628.3 L661.4,623.8 L663.5,620.1 L666.5,617.4 L670,616.2 L673.7,616.6" stroke-width="1.2"/>
<line x1="283.7" y1="674.9" x2="281.8" y2="706" stroke-width="1.2"/>
<circle cx="160" cy="915.2" r="1.2" fill="#000"/>
<path d="M443.6,907.9 L441,910.8 L437.7,912.4 L434.2,912.6 L430.9,911.2 L428.1,908.6 L426.3,904.8 L425.6,900.6 L426,896.2 L427.7,892.3 L430.3,889.4 L433.5,887.8 L437,887.6 L440.4,889" stroke-width="1.2"/>
<path d="M667.7,779.1 L664.3,781.5 L660.5,782.2 L656.6,781.3 L653.3,778.8 L650.8,775 L649.6,770.4 L649.6,765.5 L651,760.9 L653.6,757.3 L657,754.9 L660.9,754.1 L664.7,755.1 L668,757.6" stroke-width="1.2"/>
<path d="M155,604.2 L150.8,608.4 L145.6,610.2 L140.2,609.1 L135.6,605.4 L132.9,599.7 L132.4,593.2 L134.2,587 L138,582.3 L143.1,580 L148.6,580.6 L153.3,583.8" stroke-width="1.2"/>
<path d="M488.8,519.5 L485.3,522.2 L481.3,523.3 L477.1,522.6 L473.5,520.2 L470.7,516.3 L469.2,511.5 L469,506.3 L470.3,501.4 L472.9,497.3 L476.4,494.6 L480.4,493.5 L484.5,494.2 L488.2,496.7" stroke-width="1.2"/>
<path d="M681.9,325.1 L678.4,327.7 L674.3,328.6 L670.2,327.7 L666.6,325.1 L663.9,321.2 L662.5,316.3 L662.5,311.1 L663.9,306.3 L666.6,302.3 L670.2,299.7 L674.3,298.8 L678.4,299.7" stroke-width="1.2"/>
<line x1="366.9" y1="578.5" x2="368.5" y2="608.9" stroke-width="1.2"/>
<line x1="770" y1="490.1" x2="771.2" y2="521.6" stroke-width="1.2"/>
<path d="M134.5,463.4 L130.9,465.7 L126.9,466.3 L123,465.2 L119.7,462.5 L117.2,458.5 L116.1,453.7 L116.3,448.7 L117.9,444.1 L120.6,440.4 L124.2,438.1 L128.1,437.5 L132,438.6" stroke-width="1.2"/>
<circle cx="228.2" cy="1030.8" r="1.2" fill="#000"/>
<line x1="464.8" y1="386" x2="466.4" y2="415.9" stroke-width="1.2"/>
<path d="M487.6,927.2 L483.9,929 L479.9,929.1 L476.2,927.5 L473.1,924.4 L471,920.1 L470.3,915.2 L470.9,910.3 L472.8,906 L475.8,902.7 L479.5,900.9 L483.5,900.9 L487.2,902.5" stroke-width="1.2"/>
<circle cx="617" cy="312.7" r="1.2" fill="#000"/>
<path d="M726.1,623.8 L723,625.9 L719.5,626.6 L716.1,625.7 L713.1,623.5 L710.9,620.1 L709.7,615.9 L709.8,611.5 L711,607.4 L713.3,604.1 L716.4,602 L719.9,601.3 L723.3,602.1" stroke-width="1.2"/>
<path d="M440.1,604.3 L436.9,607.5 L433.1,609.1 L429,609 L425.2,607.2 L422.2,603.9 L420.2,599.5 L419.6,594.4 L420.3,589.5 L422.4,585.1 L425.6,581.9 L429.4,580.3 L433.5,580.4 L437.3,582.2" stroke-width="1.2"/>
<path d="M378.7,599.7 L375.6,601.4 L372.3,601.7 L369,600.5 L366.3,598 L364.4,594.5 L363.6,590.4 L363.9,586.2 L365.4,582.4 L367.8,579.5 L370.9,577.8 L374.3,577.5 L377.6,578.6 L380.3,581.1" stroke-width="1.2"/>
<line x1="648.7" y1="436.1" x2="649.7" y2="466.5" stroke-width="1.2"/>
<path d="M379.3,506.1 L375.4,508.3 L371.2,508.6 L367.2,507.2 L363.8,504.1 L361.5,499.8 L360.4,494.7 L360.9,489.4 L362.7,484.7 L365.7,481.1 L369.6,479 L373.8,478.6 L377.8,480 L381.2,483.1" stroke-width="1.2"/>
<line x1="677.7" y1="557.9" x2="678.7" y2="583.7" stroke-width="1.2"/>
<path d="M669.6,593 L666.5,594.6 L663.1,594.9 L659.9,593.6 L657.2,591.1 L655.4,587.6 L654.6,583.5 L655,579.3 L656.6,575.5 L659,572.7 L662.1,571 L665.5,570.8 L668.7,572 L671.4,574.6" stroke-width="1.2"/>
<line x1="343.6" y1="454.3" x2="344.4" y2="483.1" stroke-width="1.2"/>
<path d="M751.9,307.9 L748.8,311.7 L744.9,313.9 L740.6,314.3 L736.4,312.8 L732.9,309.6 L730.5,305.1 L729.4,299.9 L729.9,294.5 L731.8,289.6 L734.9,285.9 L738.9,283.7 L743.2,283.3 L747.3,284.8 L750.8,288" stroke-width="1.2"/>
<path d="M684.8,375.5 L681.4,378.3 L677.5,379.4 L673.5,378.8 L669.9,376.5 L667.1,372.8 L665.5,368.1 L665.3,363.1 L666.5,358.2 L668.9,354.2 L672.3,351.4 L676.3,350.3 L680.3,350.9 L683.9,353.2" stroke-width="1.2"/>
<path d="M645.3,605.3 L642,608.4 L638.1,609.9 L634,609.6 L630.3,607.6 L627.3,604.1 L625.4,599.5 L624.9,594.5 L625.8,589.5 L628.1,585.2 L631.3,582.1 L635.3,580.6 L639.3,580.9 L643.1,582.9" stroke-width="1.2"/>
<path d="M594.3,525.2 L590.7,527.8 L586.6,528.7 L582.4,527.8 L578.8,525.2 L576.1,521.2 L574.7,516.3 L574.7,511.1 L576.1,506.2 L578.8,502.2 L582.4,499.5 L586.6,498.6 L590.7,499.5 L594.3,502.2" stroke-width="1.2"/>
<circle cx="592" cy="587.9" r="1.2" fill="#000"/>
<path d="M377.6,745.1 L374.8,747.6 L371.4,748.7 L367.9,748.4 L364.7,746.5 L362.3,743.4 L360.8,739.5 L360.5,735.1 L361.4,730.9 L363.4,727.3 L366.3,724.8 L369.6,723.7 L373.1,724.1 L376.3,725.9" stroke-width="1.2"/>
<path d="M562.5,827.8 L559.6,830.9 L556,832.5 L552.2,832.5 L548.6,830.9 L545.7,827.8 L543.8,823.7 L543.1,819 L543.8,814.3 L545.7,810.1 L548.6,807.1 L552.2,805.4 L556,805.4 L559.6,807.1" stroke-width="1.2"/>
<path d="M627.9,455.1 L624.7,457 L621.2,457.5 L617.8,456.4 L614.9,454 L612.8,450.4 L611.9,446.2 L612.1,441.8 L613.5,437.8 L616,434.6 L619.1,432.7 L622.6,432.2 L626,433.3 L629,435.7" stroke-width="1.2"/>
<path d="M229.9,731.9 L227.2,735 L223.9,736.7 L220.4,737 L216.9,735.7 L214.1,733 L212.1,729.2 L211.3,724.9 L211.8,720.4 L213.4,716.4 L216,713.4 L219.3,711.6 L222.9,711.4 L226.3,712.7" stroke-width="1.2"/>
<path d="M203.8,515.3 L200.6,517.4 L197.1,518 L193.6,517.1 L190.6,514.8 L188.4,511.2 L187.3,507 L187.4,502.6 L188.8,498.4 L191.1,495.1 L194.3,493 L197.8,492.4 L201.3,493.4" stroke-width="1.2"/>
<circle cx="256.5" cy="676.7" r="1.2" fill="#000"/>
<path d="M671.9,511.7 L668.2,514.2 L664,514.9 L659.8,513.8 L656.2,511 L653.6,506.8 L652.3,501.8 L652.5,496.5 L654.1,491.6 L656.9,487.7 L660.6,485.2 L664.8,484.5 L669,485.6" stroke-width="1.2"/>
<path d="M407.2,689.6 L403.3,692 L399,692.6 L394.8,691.3 L391.2,688.2 L388.7,683.9 L387.5,678.7 L387.8,673.3 L389.6,668.3 L392.6,664.5 L396.4,662.1 L400.8,661.5 L404.9,662.8" stroke-width="1.2"/>
<path d="M251.2,1036.1 L247.9,1039.4 L243.9,1041.2 L239.7,1041.1 L235.8,1039.2 L232.6,1035.7 L230.6,1031.1 L229.9,1026 L230.7,1020.8 L232.9,1016.3 L236.2,1013 L240.1,1011.3 L244.3,1011.4 L248.3,1013.3" stroke-width="1.2"/>
<path d="M302.1,935.4 L298.9,937.6 L295.2,938.3 L291.6,937.5 L288.4,935.1 L286.1,931.5 L284.8,927.1 L284.9,922.4 L286.2,918.1 L288.7,914.6 L291.9,912.3 L295.6,911.6 L299.2,912.5" stroke-width="1.2"/>
<path d="M387.4,910.6 L384.4,912.8 L381,913.7 L377.6,913 L374.6,910.9 L372.3,907.6 L371.1,903.6 L371,899.3 L372.1,895.2 L374.3,891.8 L377.3,889.6 L380.7,888.7 L384.1,889.4 L387.1,891.5" stroke-width="1.2"/>
<path d="M596.6,399.1 L601.7,397 L607,397.6 L611.7,400.9 L614.7,406.2 L615.6,412.6 L614.2,418.8 L610.7,423.7 L605.8,426.4 L600.4,426.3" stroke-width="1.2"/>
<path d="M286.2,484.6 L281.5,489.2 L275.7,491 L269.7,489.7 L264.7,485.5 L261.7,479.1 L261.2,471.8 L263.4,465 L267.7,459.9 L273.4,457.4 L279.5,458.1 L284.7,461.8" stroke-width="1.2"/>
<path d="M272.3,992.5 L269.4,994.6 L266,995.4 L262.7,994.6 L259.8,992.5 L257.6,989.3 L256.4,985.3 L256.4,981.1 L257.6,977.1 L259.8,973.9 L262.7,971.7 L266,971 L269.4,971.7" stroke-width="1.2"/>
<path d="M419.8,879.2 L416.9,882.3 L413.3,883.9 L409.5,883.9 L405.9,882.3 L403,879.2 L401.1,875.1 L400.4,870.4 L401.1,865.7 L403,861.6 L405.9,858.6 L409.5,856.9 L413.3,856.9 L416.9,858.6 L419.8,861.6" stroke-width="1.2"/>
<path d="M269.2,978.2 L266.2,980.1 L262.9,980.5 L259.6,979.5 L256.8,977.1 L254.9,973.8 L253.9,969.7 L254.2,965.6 L255.5,961.7 L257.9,958.7 L260.9,956.9 L264.2,956.5 L267.5,957.5" stroke-width="1.2"/>
<path d="M774,358.5 L770.9,361.4 L767.1,362.7 L763.2,362.4 L759.6,360.4 L756.8,357 L755.1,352.6 L754.6,347.7 L755.6,343 L757.8,338.9 L761,336 L764.7,334.7 L768.6,335 L772.2,337" stroke-width="1.2"/>
<path d="M589.2,591.4 L585.8,593.2 L582.1,593.5 L578.5,592.1 L575.5,589.3 L573.4,585.4 L572.6,580.8 L573.1,576.2 L574.8,572 L577.5,568.8 L580.9,567 L584.7,566.7 L588.3,568.1" stroke-width="1.2"/>
<path d="M322.2,860.2 L318.8,863.6 L314.7,865.4 L310.4,865.3 L306.4,863.3 L303.2,859.8 L301.1,855.1 L300.4,849.8 L301.2,844.5 L303.4,839.9 L306.8,836.5 L310.9,834.7 L315.2,834.8" stroke-width="1.2"/>
<path d="M349.3,488.4 L346.4,492 L342.6,494.2 L338.5,494.6 L334.5,493.3 L331.1,490.3 L328.7,486.1 L327.7,481.1 L328,476 L329.8,471.3 L332.7,467.6 L336.4,465.4 L340.6,465 L344.6,466.3" stroke-width="1.2"/>
<path d="M740.7,324.4 L736.8,326.6 L732.6,326.9 L728.6,325.5 L725.2,322.4 L722.8,318 L721.8,312.9 L722.2,307.7 L724.1,303 L727.1,299.3 L731,297.2 L735.2,296.8 L739.2,298.2" stroke-width="1.2"/>
<circle cx="454.5" cy="801.6" r="1.2" fill="#000"/>
<path d="M227.7,1019.1 L222.1,1015.5 L218.4,1009.4 L217.1,1001.9 L218.6,994.5 L222.5,988.6 L228.2,985.2 L234.5,985 L240.4,988" stroke-width="1.2"/>
<path d="M431.6,871.7 L428.9,874.3 L425.6,875.5 L422.2,875.3 L419.1,873.7 L416.6,870.7 L415,866.9 L414.6,862.7 L415.4,858.5 L417.2,855 L419.9,852.4 L423.2,851.1 L426.6,851.4 L429.8,853" stroke-width="1.2"/>
<path d="M518.4,762.2 L515.3,765 L511.7,766.3 L507.9,766 L504.4,764.1 L501.7,760.8 L500,756.5 L499.7,751.8 L500.6,747.2 L502.7,743.3 L505.8,740.5 L509.4,739.2 L513.2,739.5 L516.7,741.4" stroke-width="1.2"/>
<path d="M785.6,367.3 L782.2,370.7 L778.2,372.5 L773.8,372.4 L769.8,370.5 L766.6,366.9 L764.5,362.2 L763.8,356.9 L764.6,351.6 L766.8,347 L770.2,343.6 L774.3,341.8 L778.6,341.9 L782.6,343.8" stroke-width="1.2"/>
<path d="M483,759.5 L480.3,762.4 L477,764 L473.4,764.1 L470.1,762.6 L467.3,759.8 L465.5,756 L464.8,751.6 L465.3,747.2 L467.1,743.3 L469.8,740.4 L473.1,738.8 L476.6,738.8 L480,740.2 L482.8,743" stroke-width="1.2"/>
<path d="M776.9,154 L773.4,156.8 L769.4,158 L765.3,157.3 L761.7,155 L758.9,151.3 L757.3,146.5 L757.1,141.4 L758.3,136.5 L760.7,132.4 L764.2,129.6 L768.2,128.5 L772.3,129.1 L775.9,131.4" stroke-width="1.2"/>
<path d="M585.5,343.7 L581.8,346.4 L577.6,347.3 L573.4,346.4 L569.7,343.7 L566.9,339.6 L565.5,334.6 L565.5,329.2 L566.9,324.2 L569.7,320.1 L573.4,317.4 L577.6,316.5 L581.8,317.4 L585.5,320.1" stroke-width="1.2"/>
<path d="M748.5,419 L745.3,421.1 L741.6,421.7 L738,420.6 L734.9,418.1 L732.7,414.4 L731.6,410 L731.8,405.4 L733.2,401.1 L735.7,397.7 L739,395.6 L742.7,395.1 L746.3,396.1 L749.4,398.6" stroke-width="1.2"/>
<path d="M660.2,405.2 L657.3,407.9 L653.8,409.2 L650.2,409 L646.9,407.2 L644.3,404.2 L642.6,400.1 L642.2,395.7 L643,391.3 L645,387.5 L647.8,384.8 L651.3,383.5 L654.9,383.7 L658.2,385.5" stroke-width="1.2"/>
<path d="M435.4,802.6 L432.3,804.8 L428.8,805.6 L425.3,804.8 L422.3,802.6 L420,799.2 L418.8,795 L418.8,790.6 L420,786.4 L422.3,783 L425.3,780.8 L428.8,780.1 L432.3,780.8" stroke-width="1.2"/>
<line x1="176.8" y1="814.7" x2="178.5" y2="845.9" stroke-width="1.2"/>
<path d="M478.5,830.3 L475.6,833.8 L471.9,835.8 L467.9,836.2 L464,834.8 L460.7,831.8 L458.5,827.7 L457.5,822.8 L457.9,817.8 L459.7,813.2 L462.6,809.7 L466.3,807.7 L470.3,807.3 L474.2,808.7" stroke-width="1.2"/>
<path d="M756.1,530.7 L760.6,526.3 L766.3,524.6 L772,525.8 L776.7,529.9 L779.6,536 L780.1,542.9 L778,549.5 L773.9,554.4 L768.4,556.7" stroke-width="1.2"/>
<path d="M422.6,860.7 L419.2,863.2 L415.3,864 L411.4,863.2 L408,860.7 L405.4,856.9 L404,852.2 L404,847.3 L405.4,842.6 L408,838.8 L411.4,836.4 L415.3,835.5 L419.2,836.4" stroke-width="1.2"/>
<path d="M222,1029.9 L218.4,1032.1 L214.5,1032.6 L210.7,1031.4 L207.4,1028.6 L205.1,1024.6 L204,1019.9 L204.2,1015 L205.9,1010.4 L208.6,1006.9 L212.2,1004.7 L216.1,1004.2 L219.9,1005.4 L223.2,1008.2" stroke-width="1.2"/>
<circle cx="619" cy="468.2" r="1.2" fill="#000"/>
<circle cx="315.1" cy="936.9" r="1.2" fill="#000"/>
<path d="M643.8,795.9 L640.6,798.3 L637,799.1 L633.4,798.4 L630.1,796.2 L627.7,792.7 L626.4,788.4 L626.3,783.8 L627.5,779.4 L629.9,775.9 L633,773.5 L636.6,772.6 L640.3,773.3 L643.5,775.6" stroke-width="1.2"/>
<path d="M237.1,1054.2 L233.9,1056.3 L230.3,1056.8 L226.7,1055.8 L223.7,1053.3 L221.5,1049.7 L220.4,1045.4 L220.6,1040.9 L222.1,1036.7 L224.5,1033.4 L227.8,1031.3 L231.4,1030.7 L234.9,1031.8 L237.9,1034.2" stroke-width="1.2"/>
<path d="M300.3,977.1 L296.6,979.9 L292.4,980.9 L288.2,980 L284.5,977.5 L281.7,973.4 L280.1,968.4 L280.1,963.1 L281.4,958 L284.1,953.9 L287.8,951.1 L292,950.1 L296.2,950.9 L300,953.5" stroke-width="1.2"/>
<circle cx="127.5" cy="869.5" r="1.2" fill="#000"/>
<path d="M658.3,336.4 L657.2,344 L653.4,350.2 L647.9,354 L641.5,354.6 L635.5,351.9 L631,346.4 L628.9,339.2 L629.5,331.5 L632.7,324.9 L638,320.6 L644.3,319.3" stroke-width="1.2"/>
<path d="M394.8,725.6 L392.1,728.9 L388.6,731 L384.8,731.4 L381.2,730.1 L378,727.4 L375.8,723.5 L374.9,718.9 L375.2,714.2 L376.8,709.8 L379.5,706.5 L382.9,704.4 L386.7,704 L390.4,705.3 L393.6,708" stroke-width="1.2"/>
<path d="M732.1,721 L736.3,715.7 L741.9,713.1 L748,713.5 L753.3,717 L756.9,722.8 L758.1,729.9 L756.7,737 L752.9,742.7 L747.5,745.9 L741.5,746.1 L735.9,743.2" stroke-width="1.2"/>
<path d="M168.5,474.1 L164.7,477 L160.4,478.1 L156.1,477.4 L152.2,474.8 L149.2,470.7 L147.6,465.6 L147.4,460.1 L148.8,454.9 L151.5,450.5 L155.2,447.6 L159.5,446.5 L163.9,447.2 L167.8,449.8" stroke-width="1.2"/>
<path d="M195.9,764.8 L192.8,767 L189.4,767.9 L185.9,767.2 L182.8,765.1 L180.5,761.7 L179.2,757.6 L179.2,753.2 L180.3,749 L182.6,745.6 L185.6,743.4 L189,742.5 L192.5,743.2 L195.6,745.3" stroke-width="1.2"/>
<path d="M161.7,782.1 L158.8,784.7 L155.4,785.9 L151.9,785.6 L148.7,783.8 L146.2,780.7 L144.6,776.8 L144.3,772.4 L145.1,768.1 L147.1,764.5 L149.9,761.9 L153.3,760.7 L156.8,761 L160.1,762.8" stroke-width="1.2"/>
<line x1="512.6" y1="743.8" x2="513.8" y2="769.1" stroke-width="1.2"/>
<path d="M573.8,755.1 L570.6,756.6 L567.2,756.7 L563.9,755.3 L561.2,752.6 L559.5,748.9 L558.8,744.7 L559.3,740.4 L561,736.7 L563.6,733.8 L566.8,732.3 L570.3,732.2 L573.5,733.6 L576.2,736.3" stroke-width="1.2"/>
<line x1="345.8" y1="501.3" x2="347.1" y2="527.5" stroke-width="1.2"/>
<path d="M690.4,540.1 L695.6,544.6 L698.7,551.2 L699.2,558.7 L697,565.9 L692.5,571.2 L686.5,573.7 L680.2,573 L674.7,569.1 L671.2,562.9 L670.1,555.4 L671.8,548.1" stroke-width="1.2"/>
<path d="M402.9,756.4 L399.2,758.8 L395,759.4 L390.9,758.2 L387.4,755.4 L384.9,751.2 L383.7,746.2 L383.9,740.9 L385.5,736.1 L388.4,732.3 L392.1,729.9 L396.3,729.3 L400.3,730.4" stroke-width="1.2"/>
<path d="M511.1,672.2 L507.2,674.2 L503,674.4 L499,672.8 L495.7,669.5 L493.5,665.1 L492.6,659.9 L493.2,654.7 L495.2,650.1 L498.3,646.6 L502.2,644.6 L506.4,644.4 L510.4,646.1" stroke-width="1.2"/>
</g>
<line x1="771" y1="186.7" x2="803.1" y2="186.7"/>
<line x1="880.5" y1="116.2" x2="910.6" y2="116.2"/>
<path d="M911,112 L914,109 L919,110 L921,114 L919,121 L914,123 L911,120 Z" fill="#fff"/>
<path d="M919,114 L929,117 L930,122 L927,125 L918,122" fill="#fff"/>
<ellipse cx="915.5" cy="116" rx="3" ry="4.5" stroke-width="1"/>
<line x1="976" y1="174.5" x2="990" y2="182.5" stroke-width="1.2"/>
<line x1="980" y1="167.5" x2="994" y2="175.5" stroke-width="1.2"/>
<ellipse cx="992" cy="179" rx="1.8" ry="4" transform="rotate(29.7 992 179)" stroke-width="1.2"/>
<ellipse cx="978" cy="171" rx="1.8" ry="4" transform="rotate(29.7 978 171)" stroke-width="1.2"/>
<line x1="994.2" y1="172.3" x2="1018.5" y2="172.3"/>
<circle cx="1000.4" cy="195.9" r="4" stroke-width="1.2"/>
<line x1="1004.6" y1="195.9" x2="1034" y2="195.9"/>
<circle cx="928.3" cy="320.7" r="4" stroke-width="1.2"/>
<line x1="932.5" y1="318.3" x2="963" y2="318.3"/>
<ellipse cx="1016.7" cy="207" rx="1.8" ry="3.6" transform="rotate(43.9 1016.7 207)" stroke-width="1.1"/>
<ellipse cx="1018.9" cy="208.4" rx="1.8" ry="3.6" transform="rotate(43.9 1018.9 208.4)" stroke-width="1.1"/>
<ellipse cx="1021.2" cy="209.8" rx="1.8" ry="3.6" transform="rotate(43.9 1021.2 209.8)" stroke-width="1.1"/>
<ellipse cx="1023.4" cy="211.2" rx="1.8" ry="3.6" transform="rotate(43.9 1023.4 211.2)" stroke-width="1.1"/>
<ellipse cx="1025.6" cy="212.5" rx="1.8" ry="3.6" transform="rotate(43.9 1025.6 212.5)" stroke-width="1.1"/>
<ellipse cx="1027.8" cy="213.9" rx="1.8" ry="3.6" transform="rotate(43.9 1027.8 213.9)" stroke-width="1.1"/>
<ellipse cx="1030.1" cy="215.3" rx="1.8" ry="3.6" transform="rotate(43.9 1030.1 215.3)" stroke-width="1.1"/>
<ellipse cx="1032.3" cy="216.7" rx="1.8" ry="3.6" transform="rotate(43.9 1032.3 216.7)" stroke-width="1.1"/>
<line x1="1030.6" y1="218.4" x2="1030.6" y2="249.7"/>
<ellipse cx="944.5" cy="331.5" rx="2" ry="4" transform="rotate(45.2 944.5 331.5)" stroke-width="1.1"/>
<ellipse cx="946.9" cy="333.1" rx="2" ry="4" transform="rotate(45.2 946.9 333.1)" stroke-width="1.1"/>
<ellipse cx="949.3" cy="334.7" rx="2" ry="4" transform="rotate(45.2 949.3 334.7)" stroke-width="1.1"/>
<ellipse cx="951.8" cy="336.2" rx="2" ry="4" transform="rotate(45.2 951.8 336.2)" stroke-width="1.1"/>
<ellipse cx="954.2" cy="337.8" rx="2" ry="4" transform="rotate(45.2 954.2 337.8)" stroke-width="1.1"/>
<ellipse cx="956.6" cy="339.4" rx="2" ry="4" transform="rotate(45.2 956.6 339.4)" stroke-width="1.1"/>
<ellipse cx="959" cy="341" rx="2" ry="4" transform="rotate(45.2 959 341)" stroke-width="1.1"/>
<line x1="959.5" y1="340.5" x2="996" y2="340.5"/>
<ellipse cx="945" cy="361" rx="3" ry="6" transform="rotate(48 945 361)" stroke-width="1.1"/>
<ellipse cx="947.8" cy="363" rx="3" ry="6" transform="rotate(48 947.8 363)" stroke-width="1.1"/>
<ellipse cx="950.5" cy="365" rx="3" ry="6" transform="rotate(48 950.5 365)" stroke-width="1.1"/>
<ellipse cx="953.2" cy="367" rx="3" ry="6" transform="rotate(48 953.2 367)" stroke-width="1.1"/>
<ellipse cx="956" cy="369" rx="3" ry="6" transform="rotate(48 956 369)" stroke-width="1.1"/>
<ellipse cx="958.8" cy="371" rx="3" ry="6" transform="rotate(48 958.8 371)" stroke-width="1.1"/>
<ellipse cx="961.5" cy="373" rx="3" ry="6" transform="rotate(48 961.5 373)" stroke-width="1.1"/>
<ellipse cx="964.2" cy="375" rx="3" ry="6" transform="rotate(48 964.2 375)" stroke-width="1.1"/>
<ellipse cx="967" cy="377" rx="3" ry="6" transform="rotate(48 967 377)" stroke-width="1.1"/>
<ellipse cx="969.8" cy="379" rx="3" ry="6" transform="rotate(48 969.8 379)" stroke-width="1.1"/>
<ellipse cx="972.5" cy="381" rx="3" ry="6" transform="rotate(48 972.5 381)" stroke-width="1.1"/>
<line x1="975.1" y1="383.2" x2="1008" y2="383.2"/>
<ellipse cx="894.4" cy="335.7" rx="6" ry="10.5" transform="rotate(20 894.4 335.7)" stroke-width="1.2"/>
<ellipse cx="894.4" cy="335.7" rx="3.6" ry="7.3" transform="rotate(20 894.4 335.7)" stroke-width="1.2"/>
<line x1="890.5" y1="345.5" x2="890.5" y2="356.5"/>
<ellipse cx="912" cy="340" rx="3.4" ry="8" transform="rotate(31.4 912 340)" stroke-width="1.2" fill="#fff"/>
<path d="M907.8,346.8 L925.8,357.8 L934.2,344.2 L916.2,333.2" stroke-width="1.2" fill="#fff"/>
<path d="M922.2,336.8 L922.8,337.5 L923,338.6 L923,340.1 L922.6,341.8 L921.8,343.6 L920.9,345.4 L919.7,347.1 L918.4,348.6 L917.1,349.7 L915.8,350.5 L914.7,350.7 L913.8,350.5" stroke-width="1.08"/>
<path d="M928.2,340.5 L928.8,341.2 L929,342.3 L929,343.7 L928.6,345.4 L927.8,347.3 L926.9,349.1 L925.7,350.8 L924.4,352.3 L923.1,353.4 L921.8,354.1 L920.7,354.4 L919.8,354.2" stroke-width="1.08"/>
<ellipse cx="930" cy="351" rx="3.4" ry="8" transform="rotate(31.4 930 351)" stroke-width="1.2" fill="#fff"/>
<ellipse cx="930" cy="351" rx="2.4" ry="5.6" transform="rotate(31.4 930 351)" stroke-width="1.08"/>
<ellipse cx="930" cy="351" rx="1.4" ry="3" transform="rotate(31.4 930 351)" stroke-width="1.08"/>
<ellipse cx="930" cy="351" rx="0.6" ry="1.3" transform="rotate(31.4 930 351)" stroke-width="1.08"/>
<path d="M890.2,378 L890.2,395.3 L931.8,395.3 L931.8,357"/>
<line x1="910.3" y1="395.3" x2="910.3" y2="425"/>
<!-- g.svg -->
<g transform="translate(1090,200) scale(0.25602)">
<path d="M420,450 L440,375 L470,362 L500,370 L520,400 L540,390 L600,360 L640,365 L650,390 L700,370 L760,330 L820,290 L840,260 L850,160 L880,150 L890,175 L905,260 L930,270 L1010,240 L1030,220 L1030,170 L1010,150 L990,110 L1010,80 L1060,60 L1110,60 L1130,90 L1150,110 L1140,135 L1110,150 L1100,200 L1100,240 L1090,280 L1100,300 L1110,330 L1120,360 L1110,400 L1115,450 L1100,500 L1110,600 L1110,650 L1090,700 L1080,740 L1080,800 L1050,820 L1020,840 L1000,940 L980,950 L960,980 L950,1030 L900,1010 L820,1050 L760,1110 L700,1120 L620,1140 L570,1140 L520,1140 L490,1120 L460,1100 L420,1060 L410,990 L420,900 L430,820 L430,700 L420,600 L425,500 Z" stroke-width="1.3" fill="#fff"/>
<path d="M760,400 L990,320"/>
<path d="M745,420 L720,830 L640,1000 L620,1140"/>
<path d="M990,320 L1000,600 L990,940"/>
<path d="M730,440 L705,830 L625,1000" stroke-width="1"/>
<clipPath id="mz7_1"><path d="M765.0,405.0 L985.0,330.0 L995.0,600.0 L985.0,940.0 L900.0,1000.0 L820.0,1050.0 L760.0,1100.0 L650.0,1130.0 L640.0,1000.0 L722.0,830.0 Z"/></clipPath><g clip-path="url(#mz7_1)">
<path d="M631.6,335.0 Q640.1,318.0 648.6,335.0 L645.5,408.1 Q637.0,425.1 628.5,408.1 Z" stroke-width="1.15"/>
<path d="M628.1,436.3 L628.1,481.8 L613.1,484.8 L607.2,586.5 Q615.7,603.5 624.2,586.5 L630.1,484.8 L645.1,481.8 L645.1,436.3 Q636.6,419.3 628.1,436.3 Z" stroke-width="1.15"/>
<path d="M621.9,614.1 L621.9,654.9 L636.9,657.9 L631.7,743.8 Q640.2,760.8 648.7,743.8 L653.9,657.9 L638.9,654.9 L638.9,614.1 Q630.4,597.1 621.9,614.1 Z" stroke-width="1.15"/>
<path d="M616.3,771.8 Q624.8,754.8 633.3,771.8 L627.3,927.8 Q618.8,944.8 610.3,927.8 Z" stroke-width="1.15"/>
<path d="M609.6,964.9 L609.6,1050.8 L594.6,1053.8 L588.4,1124.5 Q596.9,1141.5 605.4,1124.5 L611.6,1053.8 L626.6,1050.8 L626.6,964.9 Q618.1,947.9 609.6,964.9 Z" stroke-width="1.15"/>
<path d="M657.2,345.7 L657.2,378.1 L672.2,381.1 L668.0,446.6 Q676.5,463.6 685.0,446.6 L689.2,381.1 L674.2,378.1 L674.2,345.7 Q665.7,328.7 657.2,345.7 Z" stroke-width="1.15"/>
<path d="M652.4,482.6 L652.4,577.8 L637.4,580.8 L630.5,662.0 Q639.0,679.0 647.5,662.0 L654.4,580.8 L669.4,577.8 L669.4,482.6 Q660.9,465.6 652.4,482.6 Z" stroke-width="1.15"/>
<path d="M644.9,694.9 L644.9,741.3 L629.9,744.3 L624.0,847.5 Q632.5,864.5 641.0,847.5 L646.9,744.3 L661.9,741.3 L661.9,694.9 Q653.4,677.9 644.9,694.9 Z" stroke-width="1.15"/>
<path d="M638.4,882.4 Q646.9,865.4 655.4,882.4 L649.6,1031.7 Q641.1,1048.7 632.6,1031.7 Z" stroke-width="1.15"/>
<path d="M631.9,1066.2 L631.9,1155.4 L616.9,1158.4 L608.4,1293.9 Q616.9,1310.9 625.4,1293.9 L633.9,1158.4 L648.9,1155.4 L648.9,1066.2 Q640.4,1049.2 631.9,1066.2 Z" stroke-width="1.15"/>
<path d="M685.1,340.0 Q693.6,323.0 702.1,340.0 L696.3,488.0 Q687.8,505.0 679.3,488.0 Z" stroke-width="1.15"/>
<path d="M678.5,526.7 Q687.0,509.7 695.5,526.7 L691.4,627.3 Q682.9,644.3 674.4,627.3 Z" stroke-width="1.15"/>
<path d="M674.0,656.2 Q682.5,639.2 691.0,656.2 L686.0,782.8 Q677.5,799.8 669.0,782.8 Z" stroke-width="1.15"/>
<path d="M668.5,812.2 L668.5,893.2 L683.5,896.2 L678.0,953.0 Q686.5,970.0 695.0,953.0 L700.5,896.2 L685.5,893.2 L685.5,812.2 Q677.0,795.2 668.5,812.2 Z" stroke-width="1.15"/>
<path d="M662.5,985.5 Q671.0,968.5 679.5,985.5 L674.9,1098.5 Q666.4,1115.5 657.9,1098.5 Z" stroke-width="1.15"/>
<path d="M657.1,1138.3 L657.1,1159.8 L642.1,1162.8 L639.5,1195.0 Q648.0,1212.0 656.5,1195.0 L659.1,1162.8 L674.1,1159.8 L674.1,1138.3 Q665.6,1121.3 657.1,1138.3 Z" stroke-width="1.15"/>
<path d="M716.8,341.4 Q725.3,324.4 733.8,341.4 L724.8,583.1 Q716.3,600.1 707.8,583.1 Z" stroke-width="1.15"/>
<path d="M707.3,614.6 Q715.8,597.6 724.3,614.6 L719.5,734.8 Q711.0,751.8 702.5,734.8 Z" stroke-width="1.15"/>
<path d="M702.1,762.1 L702.1,806.5 L687.1,809.5 L681.8,897.5 Q690.3,914.5 698.8,897.5 L704.1,809.5 L719.1,806.5 L719.1,762.1 Q710.6,745.1 702.1,762.1 Z" stroke-width="1.15"/>
<path d="M696.3,928.0 Q704.8,911.0 713.3,928.0 L709.2,1028.5 Q700.7,1045.5 692.2,1028.5 Z" stroke-width="1.15"/>
<path d="M691.6,1061.8 Q700.1,1044.8 708.6,1061.8 L700.1,1288.2 Q691.6,1305.2 683.1,1288.2 Z" stroke-width="1.15"/>
<path d="M746.2,334.1 Q754.7,317.1 763.2,334.1 L760.1,404.4 Q751.6,421.4 743.1,404.4 Z" stroke-width="1.15"/>
<path d="M742.5,440.2 Q751.0,423.2 759.5,440.2 L752.4,624.5 Q743.9,641.5 735.4,624.5 Z" stroke-width="1.15"/>
<path d="M734.7,662.4 L734.7,699.3 L719.7,702.3 L714.9,781.5 Q723.4,798.5 731.9,781.5 L736.7,702.3 L751.7,699.3 L751.7,662.4 Q743.2,645.4 734.7,662.4 Z" stroke-width="1.15"/>
<path d="M729.5,812.2 Q738.0,795.2 746.5,812.2 L742.7,901.9 Q734.2,918.9 725.7,901.9 Z" stroke-width="1.15"/>
<path d="M725.0,938.3 L725.0,982.5 L740.0,985.5 L736.1,1033.9 Q744.6,1050.9 753.1,1033.9 L757.0,985.5 L742.0,982.5 L742.0,938.3 Q733.5,921.3 725.0,938.3 Z" stroke-width="1.15"/>
<path d="M720.4,1070.6 L720.4,1141.8 L705.4,1144.8 L701.1,1177.4 Q709.6,1194.4 718.1,1177.4 L722.4,1144.8 L737.4,1141.8 L737.4,1070.6 Q728.9,1053.6 720.4,1070.6 Z" stroke-width="1.15"/>
<path d="M779.1,347.5 Q787.6,330.5 796.1,347.5 L789.2,526.7 Q780.7,543.7 772.2,526.7 Z" stroke-width="1.15"/>
<path d="M771.6,560.0 Q780.1,543.0 788.6,560.0 L783.8,681.8 Q775.3,698.8 766.8,681.8 Z" stroke-width="1.15"/>
<path d="M766.2,715.3 Q774.7,698.3 783.2,715.3 L779.8,796.4 Q771.3,813.4 762.8,796.4 Z" stroke-width="1.15"/>
<path d="M762.2,830.4 Q770.7,813.4 779.2,830.4 L776.3,895.4 Q767.8,912.4 759.3,895.4 Z" stroke-width="1.15"/>
<path d="M758.9,924.0 Q767.4,907.0 775.9,924.0 L769.8,1080.4 Q761.3,1097.4 752.8,1080.4 Z" stroke-width="1.15"/>
<path d="M751.9,1122.6 L751.9,1184.1 L766.9,1187.1 L760.5,1288.3 Q769.0,1305.3 777.5,1288.3 L783.9,1187.1 L768.9,1184.1 L768.9,1122.6 Q760.4,1105.6 751.9,1122.6 Z" stroke-width="1.15"/>
<path d="M807.3,335.4 L807.3,411.9 L822.3,414.9 L817.6,451.3 Q826.1,468.3 834.6,451.3 L839.3,414.9 L824.3,411.9 L824.3,335.4 Q815.8,318.4 807.3,335.4 Z" stroke-width="1.15"/>
<path d="M802.0,486.0 L802.0,550.9 L817.0,553.9 L812.7,591.3 Q821.2,608.3 829.7,591.3 L834.0,553.9 L819.0,550.9 L819.0,486.0 Q810.5,469.0 802.0,486.0 Z" stroke-width="1.15"/>
<path d="M797.1,626.0 Q805.6,609.0 814.1,626.0 L807.1,807.4 Q798.6,824.4 790.1,807.4 Z" stroke-width="1.15"/>
<path d="M789.7,837.7 L789.7,973.4 L774.7,976.4 L765.9,1071.1 Q774.4,1088.1 782.9,1071.1 L791.7,976.4 L806.7,973.4 L806.7,837.7 Q798.2,820.7 789.7,837.7 Z" stroke-width="1.15"/>
<path d="M780.1,1110.2 Q788.6,1093.2 797.1,1110.2 L793.0,1212.8 Q784.5,1229.8 776.0,1212.8 Z" stroke-width="1.15"/>
<path d="M840.2,338.9 L840.2,424.4 L855.2,427.4 L846.8,563.5 Q855.3,580.5 863.8,563.5 L872.2,427.4 L857.2,424.4 L857.2,338.9 Q848.7,321.9 840.2,338.9 Z" stroke-width="1.15"/>
<path d="M831.1,600.7 Q839.6,583.7 848.1,600.7 L841.7,766.3 Q833.2,783.3 824.7,766.3 Z" stroke-width="1.15"/>
<path d="M823.9,805.5 L823.9,842.6 L808.9,845.6 L805.5,887.5 Q814.0,904.5 822.5,887.5 L825.9,845.6 L840.9,842.6 L840.9,805.5 Q832.4,788.5 823.9,805.5 Z" stroke-width="1.15"/>
<path d="M820.0,917.7 Q828.5,900.7 837.0,917.7 L831.4,1059.3 Q822.9,1076.3 814.4,1059.3 Z" stroke-width="1.15"/>
<path d="M813.5,1102.1 Q822.0,1085.1 830.5,1102.1 L822.9,1303.1 Q814.4,1320.1 805.9,1303.1 Z" stroke-width="1.15"/>
<path d="M871.3,335.4 Q879.8,318.4 888.3,335.4 L880.6,540.1 Q872.1,557.1 863.6,540.1 Z" stroke-width="1.15"/>
<path d="M863.0,572.7 L863.0,651.1 L878.0,654.1 L869.1,810.6 Q877.6,827.6 886.1,810.6 L895.0,654.1 L880.0,651.1 L880.0,572.7 Q871.5,555.7 863.0,572.7 Z" stroke-width="1.15"/>
<path d="M853.6,840.7 Q862.1,823.7 870.6,840.7 L867.1,924.6 Q858.6,941.6 850.1,924.6 Z" stroke-width="1.15"/>
<path d="M849.2,966.0 Q857.7,949.0 866.2,966.0 L858.3,1177.1 Q849.8,1194.1 841.3,1177.1 Z" stroke-width="1.15"/>
<path d="M904.2,330.2 Q912.7,313.2 921.2,330.2 L914.5,505.3 Q906.0,522.3 897.5,505.3 Z" stroke-width="1.15"/>
<path d="M896.7,544.8 Q905.2,527.8 913.7,544.8 L906.3,737.9 Q897.8,754.9 889.3,737.9 Z" stroke-width="1.15"/>
<path d="M888.9,767.7 L888.9,894.3 L903.9,897.3 L896.3,968.5 Q904.8,985.5 913.3,968.5 L920.9,897.3 L905.9,894.3 L905.9,767.7 Q897.4,750.7 888.9,767.7 Z" stroke-width="1.15"/>
<path d="M880.6,1003.0 L880.6,1070.3 L865.6,1073.3 L858.3,1194.6 Q866.8,1211.6 875.3,1194.6 L882.6,1073.3 L897.6,1070.3 L897.6,1003.0 Q889.1,986.0 880.6,1003.0 Z" stroke-width="1.15"/>
<path d="M934.7,337.8 Q943.2,320.8 951.7,337.8 L945.1,512.0 Q936.6,529.0 928.1,512.0 Z" stroke-width="1.15"/>
<path d="M927.4,548.5 Q935.9,531.5 944.4,548.5 L939.0,686.4 Q930.5,703.4 922.0,686.4 Z" stroke-width="1.15"/>
<path d="M921.5,715.9 L921.5,812.5 L906.5,815.5 L900.6,868.5 Q909.1,885.5 917.6,868.5 L923.5,815.5 L938.5,812.5 L938.5,715.9 Q930.0,698.9 921.5,715.9 Z" stroke-width="1.15"/>
<path d="M914.9,904.0 Q923.4,887.0 931.9,904.0 L923.3,1133.7 Q914.8,1150.7 906.3,1133.7 Z" stroke-width="1.15"/>
<path d="M967.9,332.7 L967.9,367.9 L982.9,370.9 L979.0,426.1 Q987.5,443.1 996.0,426.1 L999.9,370.9 L984.9,367.9 L984.9,332.7 Q976.4,315.7 967.9,332.7 Z" stroke-width="1.15"/>
<path d="M963.5,457.2 L963.5,544.2 L978.5,547.2 L973.5,584.0 Q982.0,601.0 990.5,584.0 L995.5,547.2 L980.5,544.2 L980.5,457.2 Q972.0,440.2 963.5,457.2 Z" stroke-width="1.15"/>
<path d="M957.6,625.4 Q966.1,608.4 974.6,625.4 L967.9,800.9 Q959.4,817.9 950.9,800.9 Z" stroke-width="1.15"/>
<path d="M950.2,836.2 Q958.7,819.2 967.2,836.2 L959.3,1044.6 Q950.8,1061.6 942.3,1044.6 Z" stroke-width="1.15"/>
<path d="M941.9,1073.7 Q950.4,1056.7 958.9,1073.7 L955.8,1147.1 Q947.3,1164.1 938.8,1147.1 Z" stroke-width="1.15"/>
</g>
<ellipse cx="860" cy="610" rx="18" ry="20" stroke-width="1.1" fill="#fff"/>
<ellipse cx="860" cy="610" rx="7" ry="8.4" stroke-width="1.1"/>
<ellipse cx="900" cy="400" rx="16" ry="18" stroke-width="1.1" fill="#fff"/>
<ellipse cx="900" cy="400" rx="6" ry="7.2" stroke-width="1.1"/>
<ellipse cx="930" cy="680" rx="17" ry="19" stroke-width="1.1" fill="#fff"/>
<ellipse cx="930" cy="680" rx="6.5" ry="7.8" stroke-width="1.1"/>
<ellipse cx="800" cy="560" rx="16" ry="18" stroke-width="1.1" fill="#fff"/>
<ellipse cx="800" cy="560" rx="6" ry="7.2" stroke-width="1.1"/>
<ellipse cx="760" cy="700" rx="16" ry="18" stroke-width="1.1" fill="#fff"/>
<ellipse cx="760" cy="700" rx="6" ry="7.2" stroke-width="1.1"/>
<ellipse cx="870" cy="900" rx="18" ry="20" stroke-width="1.1" fill="#fff"/>
<ellipse cx="870" cy="900" rx="7" ry="8.4" stroke-width="1.1"/>
<ellipse cx="950" cy="480" rx="16" ry="18" stroke-width="1.1" fill="#fff"/>
<ellipse cx="950" cy="480" rx="6" ry="7.2" stroke-width="1.1"/>
<path d="M650,390 L700,375 L720,420 L720,470"/>
<path d="M700,375 L760,330"/>
<path d="M760,330 L820,300 L880,290 L920,330"/>
<path d="M850,160 L860,250 L830,290"/>
<path d="M880,150 L880,260"/>
<path d="M905,260 L960,250 L1020,245 L1040,170"/>
<path d="M990,110 L1000,140 L1050,160 L1090,150"/>
<ellipse cx="1075" cy="145" rx="15" ry="16.5" stroke-width="1.2"/>
<ellipse cx="1075" cy="145" rx="7.5" ry="8.2" stroke-width="1.2"/>
<ellipse cx="1135" cy="120" rx="10" ry="11" stroke-width="1.2"/>
<ellipse cx="1135" cy="120" rx="5" ry="5.5" stroke-width="1.2"/>
<path d="M1060,60 L1080,70 L1075,80 L1050,75 Z"/>
<path d="M1040,170 L1040,260 L1070,290"/>
<ellipse cx="1070" cy="240" rx="20" ry="22" stroke-width="1.2"/>
<ellipse cx="1070" cy="240" rx="10" ry="11" stroke-width="1.2"/>
<path d="M990,300 L1010,290 L1000,330"/>
<ellipse cx="1100" cy="355" rx="20" ry="22" stroke-width="1.2"/>
<ellipse cx="1100" cy="355" rx="10" ry="11" stroke-width="1.2"/>
<ellipse cx="1020" cy="400" rx="20" ry="22" stroke-width="1.2"/>
<ellipse cx="1020" cy="400" rx="10" ry="11" stroke-width="1.2"/>
<ellipse cx="1010" cy="580" rx="20" ry="22" stroke-width="1.2"/>
<ellipse cx="1010" cy="580" rx="10" ry="11" stroke-width="1.2"/>
<ellipse cx="1080" cy="560" rx="18" ry="19.8" stroke-width="1.2"/>
<ellipse cx="1080" cy="560" rx="9" ry="9.9" stroke-width="1.2"/>
<ellipse cx="1090" cy="670" rx="16" ry="17.6" stroke-width="1.2"/>
<ellipse cx="1090" cy="670" rx="8" ry="8.8" stroke-width="1.2"/>
<ellipse cx="990" cy="730" rx="18" ry="19.8" stroke-width="1.2"/>
<ellipse cx="990" cy="730" rx="9" ry="9.9" stroke-width="1.2"/>
<ellipse cx="1020" cy="940" rx="18" ry="19.8" stroke-width="1.2"/>
<ellipse cx="1020" cy="940" rx="9" ry="9.9" stroke-width="1.2"/>
<ellipse cx="870" cy="370" rx="10" ry="11" stroke-width="1.2"/>
<ellipse cx="870" cy="370" rx="5" ry="5.5" stroke-width="1.2"/>
<ellipse cx="980" cy="490" rx="10" ry="11" stroke-width="1.2"/>
<ellipse cx="980" cy="490" rx="5" ry="5.5" stroke-width="1.2"/>
<path d="M1000,760 L1050,750 L1080,770 L1080,800 L1040,815 L1000,800 Z"/>
<path d="M1090,280 L1110,300 L1080,320"/>
<path d="M410,595 L560,540" stroke-width="1" stroke-dasharray="6 4"/>
<path d="M100,990 L470,790" stroke-width="1" stroke-dasharray="6 4"/>
<path d="M335,1211 L335,980 L410,950" stroke-width="1" stroke-dasharray="6 4"/>
<path d="M360,1211 L360,1120 L420,1090" stroke-width="1" stroke-dasharray="6 4"/>
<path d="M880,960 L1020,1020" stroke-width="1" stroke-dasharray="6 4"/>
<path d="M790,1080 L880,1130" stroke-width="1" stroke-dasharray="6 4"/>
<path d="M1150,130 L1211,170" stroke-width="1" stroke-dasharray="6 4"/>
</g>
<g transform="translate(1180,280) scale(0.18986)">
<path d="M100,150 L130,90 L160,70 L200,90 L215,110 L240,110"/>
<path d="M100,150 L100,230 L130,300 L155,330 L200,310 L240,300"/>
<ellipse cx="190" cy="185" rx="14" ry="16"/>
<ellipse cx="180" cy="285" rx="14" ry="16"/>
<path d="M100,230 L110,480 L95,500 L92,700 L75,850 L60,1050"/>
<path d="M120,310 L130,480 L110,500"/>
<path d="M150,330 L180,380 L190,520 L240,540"/>
<path d="M245,110 L350,60 L380,70 L385,110 L410,120 L410,240 L300,320 L260,310 L250,230 Z" fill="#fff"/>
<path d="M290,130 L290,300"/>
<path d="M320,130 L350,120 L355,230 L325,240 Z"/>
<path d="M300,130 L350,110"/>
<path d="M410,180 L460,170 L460,230 L410,240"/>
<path d="M160,330 L280,300 L300,320 L330,310 L350,300 L440,290"/>
<path d="M200,360 L200,530 L240,545 L320,520 L320,380"/>
<path d="M330,320 L345,420"/>
<path d="M430,300 L430,380 L470,400"/>
<path d="M388.4,452.1 L352,474.1 L315.6,452.1 L315.6,407.9 L352,385.9 L388.4,407.9 Z" stroke-width="1.2" fill="#fff"/>
<path d="M373,430 L362.5,448.2 L341.5,448.2 L331,430 L341.5,411.8 L362.5,411.8 Z" stroke-width="1.2"/>
<ellipse cx="280" cy="440" rx="8" ry="10" stroke-width="1.2"/>
<path d="M280,540 L370,490 L450,490 L455,600 L380,620 L300,610 Z" fill="#fff"/>
<ellipse cx="330" cy="550" rx="14" ry="55" transform="rotate(-10 330 550)" stroke-width="1.1"/>
<ellipse cx="360" cy="550" rx="14" ry="55" transform="rotate(-10 360 550)" stroke-width="1.1"/>
<ellipse cx="390" cy="550" rx="14" ry="55" transform="rotate(-10 390 550)" stroke-width="1.1"/>
<ellipse cx="420" cy="550" rx="14" ry="55" transform="rotate(-10 420 550)" stroke-width="1.1"/>
<path d="M266.2,593.9 L235,612.8 L203.8,593.9 L203.8,556.1 L235,537.2 L266.2,556.1 Z" stroke-width="1.2" fill="#fff"/>
<path d="M253,575 L244,590.6 L226,590.6 L217,575 L226,559.4 L244,559.4 Z" stroke-width="1.2"/>
<path d="M357.9,675 L325,694.9 L292.1,675 L292.1,635 L325,615.1 L357.9,635 Z" stroke-width="1.2" fill="#fff"/>
<path d="M344,655 L334.5,671.5 L315.5,671.5 L306,655 L315.5,638.5 L334.5,638.5 Z" stroke-width="1.2"/>
<path d="M95,500 L200,560"/>
<path d="M100,700 L200,690 L260,700"/>
<ellipse cx="170" cy="630" rx="25" ry="35" transform="rotate(-20 170 630)" stroke-width="1.2"/>
<path d="M170,700 L180,760 L330,740 L350,760 L350,800"/>
<path d="M200,700 L240,690 L260,740"/>
<path d="M140,770 L200,750 L240,760 L250,830 L190,850 L150,840 Z" fill="#fff"/>
<ellipse cx="150" cy="805" rx="25" ry="40" transform="rotate(-10 150 805)" stroke-width="1.2"/>
<ellipse cx="185" cy="800" rx="12" ry="35" transform="rotate(-10 185 800)" stroke-width="1.1"/>
<path d="M120,830 L200,870 L330,800"/>
<path d="M90,850 L180,900 L250,930"/>
<path d="M247.4,909.9 L218,927.7 L188.6,909.9 L188.6,874.1 L218,856.3 L247.4,874.1 Z" stroke-width="1.2" fill="#fff"/>
<path d="M235,892 L226.5,906.7 L209.5,906.7 L201,892 L209.5,877.3 L226.5,877.3 Z" stroke-width="1.2"/>
<path d="M337.3,885.4 L307,903.8 L276.7,885.4 L276.7,848.6 L307,830.2 L337.3,848.6 Z" stroke-width="1.2" fill="#fff"/>
<path d="M324.5,867 L315.8,882.2 L298.2,882.2 L289.5,867 L298.2,851.8 L315.8,851.8 Z" stroke-width="1.2"/>
<path d="M160,910 L160,1000 L200,1010"/>
<path d="M250,930 L270,990 L320,970 L360,1000"/>
<path d="M330,760 L360,880 L360,960"/>
<path d="M400,700 L420,790 L470,800"/>
<path d="M440,820 L440,840"/>
<ellipse cx="435" cy="830" rx="8" ry="10"/>
<ellipse cx="130" cy="1020" rx="25" ry="40" transform="rotate(-20 130 1020)" stroke-width="1.2"/>
<ellipse cx="145" cy="1030" rx="15" ry="28" transform="rotate(-20 145 1030)" stroke-width="1.1"/>
<path d="M170,1060 L230,1040 L290,1050 L300,1110 L250,1140 L180,1140 L165,1110 Z" fill="#fff"/>
<ellipse cx="205" cy="1100" rx="22" ry="26"/>
<ellipse cx="255" cy="1090" rx="22" ry="30"/>
<path d="M60,1050 L90,1090 L180,1150 L300,1150 L370,1130"/>
<path d="M370,940 L360,1000 L370,1100 L420,1120"/>
<path d="M514.2,989.7 L490,1004.4 L465.8,989.7 L465.8,960.3 L490,945.6 L514.2,960.3 Z" stroke-width="1.2" fill="#fff"/>
<path d="M504,975 L497,987.1 L483,987.1 L476,975 L483,962.9 L497,962.9 Z" stroke-width="1.2"/>
<path d="M569.2,1024.7 L545,1039.4 L520.8,1024.7 L520.8,995.3 L545,980.6 L569.2,995.3 Z" stroke-width="1.2" fill="#fff"/>
<path d="M559,1010 L552,1022.1 L538,1022.1 L531,1010 L538,997.9 L552,997.9 Z" stroke-width="1.2"/>
<path d="M402.1,1092.3 L390,1099.7 L377.9,1092.3 L377.9,1077.7 L390,1070.3 L402.1,1077.7 Z" stroke-width="1.2" fill="#fff"/>
<path d="M397,1085 L393.5,1091.1 L386.5,1091.1 L383,1085 L386.5,1078.9 L393.5,1078.9 Z" stroke-width="1.2"/>
<path d="M380,940 L460,930 L520,950 L600,940"/>
</g>
<g transform="translate(1090,200) scale(0.25602)">
</g>
<!-- g2.svg -->
<path d="M1106,400 L1110,397 L1120,397 L1124,401 L1120,406 L1110,407 L1106,404 Z" stroke-width="1.2" fill="#fff"/>
<path d="M1115.7,404.4 L1125.4,398.6 L1121.9,392.8 L1112.3,398.6" stroke-width="1.2" fill="#fff"/>
<ellipse cx="1114" cy="401.5" rx="1.4" ry="3.4" transform="rotate(-30.8 1114 401.5)" stroke-width="1.2" fill="#fff"/>
<ellipse cx="1123.7" cy="395.7" rx="1.4" ry="3.4" transform="rotate(-30.8 1123.7 395.7)" stroke-width="1.2" fill="#fff"/>
<path d="M1126.6,400.5 L1141.1,391.9 L1135.3,382.3 L1120.8,390.9" stroke-width="1.2" fill="#fff"/>
<ellipse cx="1123.7" cy="395.7" rx="2.4" ry="5.6" transform="rotate(-30.8 1123.7 395.7)" stroke-width="1.2" fill="#fff"/>
<ellipse cx="1138.2" cy="387.1" rx="2.4" ry="5.6" transform="rotate(-30.8 1138.2 387.1)" stroke-width="1.2" fill="#fff"/>
<path d="M1140,390 L1148,385.2 L1144.5,379.3 L1136.5,384.1" stroke-width="1.2" fill="#fff"/>
<ellipse cx="1138.2" cy="387.1" rx="1.4" ry="3.4" transform="rotate(-30.8 1138.2 387.1)" stroke-width="1.2" fill="#fff"/>
<ellipse cx="1146.3" cy="382.3" rx="1.4" ry="3.4" transform="rotate(-30.8 1146.3 382.3)" stroke-width="1.2" fill="#fff"/>
<path d="M1149.1,387 L1158.8,381.2 L1153.1,371.8 L1143.5,377.5" stroke-width="1.2" fill="#fff"/>
<ellipse cx="1146.3" cy="382.3" rx="2.3" ry="5.5" transform="rotate(-30.8 1146.3 382.3)" stroke-width="1.2" fill="#fff"/>
<ellipse cx="1156" cy="376.5" rx="2.3" ry="5.5" transform="rotate(-30.8 1156 376.5)" stroke-width="1.2" fill="#fff"/>
<path d="M1157.7,379.4 L1164.2,375.6 L1160.7,369.7 L1154.2,373.6" stroke-width="1.2" fill="#fff"/>
<ellipse cx="1156" cy="376.5" rx="1.4" ry="3.4" transform="rotate(-30.8 1156 376.5)" stroke-width="1.2" fill="#fff"/>
<ellipse cx="1162.4" cy="372.6" rx="1.4" ry="3.4" transform="rotate(-30.8 1162.4 372.6)" stroke-width="1.2" fill="#fff"/>
<path d="M1165.2,377.4 L1176.5,370.6 L1170.9,361.2 L1159.6,367.9" stroke-width="1.2" fill="#fff"/>
<ellipse cx="1162.4" cy="372.6" rx="2.3" ry="5.5" transform="rotate(-30.8 1162.4 372.6)" stroke-width="1.2" fill="#fff"/>
<ellipse cx="1173.7" cy="365.9" rx="2.3" ry="5.5" transform="rotate(-30.8 1173.7 365.9)" stroke-width="1.2" fill="#fff"/>
<path d="M1175.5,368.8 L1178.7,366.9 L1175.2,361.1 L1172,363" stroke-width="1.2" fill="#fff"/>
<ellipse cx="1173.7" cy="365.9" rx="1.4" ry="3.4" transform="rotate(-30.8 1173.7 365.9)" stroke-width="1.2" fill="#fff"/>
<ellipse cx="1176.9" cy="364" rx="1.4" ry="3.4" transform="rotate(-30.8 1176.9 364)" stroke-width="1.2" fill="#fff"/>
<path d="M1180.3,369.6 L1198,359 L1191.4,347.8 L1173.6,358.4" stroke-width="1.2" fill="#fff"/>
<ellipse cx="1176.9" cy="364" rx="2.7" ry="6.5" transform="rotate(-30.8 1176.9 364)" stroke-width="1.2" fill="#fff"/>
<ellipse cx="1194.7" cy="353.4" rx="2.7" ry="6.5" transform="rotate(-30.8 1194.7 353.4)" stroke-width="1.2" fill="#fff"/>
<ellipse cx="1180.2" cy="362.1" rx="2.4" ry="6.4" transform="rotate(-31 1180.2 362.1)" stroke-width="1.1"/>
<ellipse cx="1184.2" cy="359.7" rx="2.4" ry="6.4" transform="rotate(-31 1184.2 359.7)" stroke-width="1.1"/>
<ellipse cx="1188.2" cy="357.2" rx="2.4" ry="6.4" transform="rotate(-31 1188.2 357.2)" stroke-width="1.1"/>
<ellipse cx="1192.3" cy="354.8" rx="2.4" ry="6.4" transform="rotate(-31 1192.3 354.8)" stroke-width="1.1"/>
<path d="M1111.5,398.5 L1111.5,362" stroke-width="1.2"/>
<path d="M1118.4,398.5 L1118.4,362" stroke-width="1.2"/>
<ellipse cx="1115" cy="362" rx="3.5" ry="1.6" stroke-width="1.2" fill="#fff"/>
<line x1="1150.5" y1="341.2" x2="1150.5" y2="370.7"/>
<!-- h.svg -->
<line x1="1426.4" y1="160" x2="1426.4" y2="188"/>
<line x1="1420" y1="192.7" x2="1430" y2="198.2" stroke-width="1.2"/>
<line x1="1422.6" y1="187.7" x2="1432.6" y2="193.2" stroke-width="1.2"/>
<ellipse cx="1431.3" cy="195.7" rx="1.3" ry="2.8" transform="rotate(28.8 1431.3 195.7)" stroke-width="1.2"/>
<ellipse cx="1421.3" cy="190.2" rx="1.3" ry="2.8" transform="rotate(28.8 1421.3 190.2)" stroke-width="1.2"/>
<path d="M1419,187.9 L1402.3,180.1 L1402.3,243.7 L1386.7,233.6" stroke-width="1" stroke-dasharray="7 3 1 3"/>
<line x1="1481.5" y1="187.9" x2="1481.5" y2="216.9"/>
<path d="M1475,217.5 L1486,221 L1486,227.5 L1475,224 Z" stroke-width="1.1" fill="#fff"/>
<path d="M1475,217.5 L1478,215.7 L1489,219.2 L1486,221" stroke-width="1.1"/>
<path d="M1486,221 L1489,219.2 L1489,225.7 L1486,227.5" stroke-width="1.1"/>
<path d="M1531.7,154.5 L1531.7,216.9 L1507.1,229.2"/>
<path d="M1495.4,243.9 L1509.4,235.9 L1502.6,224.1 L1488.6,232.1" stroke-width="1.2" fill="#fff"/>
<ellipse cx="1492" cy="238" rx="2.9" ry="6.8" transform="rotate(-29.7 1492 238)" stroke-width="1.2" fill="#fff"/>
<ellipse cx="1506" cy="230" rx="2.9" ry="6.8" transform="rotate(-29.7 1506 230)" stroke-width="1.2" fill="#fff"/>
<ellipse cx="1497" cy="235" rx="2.6" ry="6.6" transform="rotate(-30 1497 235)" stroke-width="1"/>
<ellipse cx="1501" cy="232.5" rx="2.6" ry="6.6" transform="rotate(-30 1501 232.5)" stroke-width="1"/>
<path d="M1441.8,271.4 L1455.5,264.4 L1452.2,258 L1438.6,265" stroke-width="1.2" fill="#fff"/>
<ellipse cx="1440.2" cy="268.2" rx="1.5" ry="3.6" transform="rotate(-27.2 1440.2 268.2)" stroke-width="1.2" fill="#fff"/>
<ellipse cx="1453.9" cy="261.2" rx="1.5" ry="3.6" transform="rotate(-27.2 1453.9 261.2)" stroke-width="1.2" fill="#fff"/>
<path d="M1454.9,268 L1464.7,263 L1458.7,251.3 L1448.9,256.3" stroke-width="1.2" fill="#fff"/>
<ellipse cx="1451.9" cy="262.2" rx="2.8" ry="6.6" transform="rotate(-27.2 1451.9 262.2)" stroke-width="1.2" fill="#fff"/>
<ellipse cx="1461.7" cy="257.1" rx="2.8" ry="6.6" transform="rotate(-27.2 1461.7 257.1)" stroke-width="1.2" fill="#fff"/>
<path d="M1463.4,260.3 L1469.2,257.3 L1465.9,250.9 L1460.1,253.9" stroke-width="1.2" fill="#fff"/>
<ellipse cx="1461.7" cy="257.1" rx="1.5" ry="3.6" transform="rotate(-27.2 1461.7 257.1)" stroke-width="1.2" fill="#fff"/>
<ellipse cx="1467.6" cy="254.1" rx="1.5" ry="3.6" transform="rotate(-27.2 1467.6 254.1)" stroke-width="1.2" fill="#fff"/>
<path d="M1470.5,259.9 L1482.3,253.9 L1476.3,242.3 L1464.6,248.3" stroke-width="1.2" fill="#fff"/>
<ellipse cx="1467.6" cy="254.1" rx="2.7" ry="6.5" transform="rotate(-27.2 1467.6 254.1)" stroke-width="1.2" fill="#fff"/>
<ellipse cx="1479.3" cy="248.1" rx="2.7" ry="6.5" transform="rotate(-27.2 1479.3 248.1)" stroke-width="1.2" fill="#fff"/>
<path d="M1469.2,257.1 L1499.3,272.2 L1530.6,272.2"/>
<ellipse cx="1396.7" cy="292.8" rx="2.5" ry="6.2" transform="rotate(-17.8 1396.7 292.8)" stroke-width="1.1"/>
<ellipse cx="1399.5" cy="291.2" rx="2.5" ry="6.2" transform="rotate(-17.8 1399.5 291.2)" stroke-width="1.1"/>
<ellipse cx="1402.4" cy="289.5" rx="2.5" ry="6.2" transform="rotate(-17.8 1402.4 289.5)" stroke-width="1.1"/>
<ellipse cx="1405.2" cy="287.9" rx="2.5" ry="6.2" transform="rotate(-17.8 1405.2 287.9)" stroke-width="1.1"/>
<ellipse cx="1408.1" cy="286.3" rx="2.5" ry="6.2" transform="rotate(-17.8 1408.1 286.3)" stroke-width="1.1"/>
<ellipse cx="1410.9" cy="284.7" rx="2.5" ry="6.2" transform="rotate(-17.8 1410.9 284.7)" stroke-width="1.1"/>
<ellipse cx="1413.8" cy="283" rx="2.5" ry="6.2" transform="rotate(-17.8 1413.8 283)" stroke-width="1.1"/>
<ellipse cx="1416.6" cy="281.4" rx="2.5" ry="6.2" transform="rotate(-17.8 1416.6 281.4)" stroke-width="1.1"/>
<ellipse cx="1419.5" cy="279.8" rx="2.5" ry="6.2" transform="rotate(-17.8 1419.5 279.8)" stroke-width="1.1"/>
<ellipse cx="1422.3" cy="278.2" rx="2.5" ry="6.2" transform="rotate(-17.8 1422.3 278.2)" stroke-width="1.1"/>
<ellipse cx="1425.2" cy="276.5" rx="2.5" ry="6.2" transform="rotate(-17.8 1425.2 276.5)" stroke-width="1.1"/>
<ellipse cx="1428" cy="274.9" rx="2.5" ry="6.2" transform="rotate(-17.8 1428 274.9)" stroke-width="1.1"/>
<line x1="1409" y1="293.9" x2="1409" y2="320.6"/>
<path d="M1447,314 L1458,317.5 L1458,324 L1447,320.5 Z" stroke-width="1.1" fill="#fff"/>
<path d="M1447,314 L1450,312.2 L1461,315.7 L1458,317.5" stroke-width="1.1"/>
<path d="M1458,317.5 L1461,315.7 L1461,322.2 L1458,324" stroke-width="1.1"/>
<line x1="1459.2" y1="320.6" x2="1489.3" y2="320.6"/>
<path d="M1459.4,346.6 L1479.4,335.6 L1472.6,323.4 L1452.6,334.4" stroke-width="1.2" fill="#fff"/>
<ellipse cx="1456" cy="340.5" rx="2.9" ry="7" transform="rotate(-28.8 1456 340.5)" stroke-width="1.2" fill="#fff"/>
<ellipse cx="1476" cy="329.5" rx="2.9" ry="7" transform="rotate(-28.8 1476 329.5)" stroke-width="1.2" fill="#fff"/>
<ellipse cx="1462" cy="337.2" rx="2.8" ry="6.9" transform="rotate(-29 1462 337.2)" stroke-width="1"/>
<ellipse cx="1467" cy="334.4" rx="2.8" ry="6.9" transform="rotate(-29 1467 334.4)" stroke-width="1"/>
<ellipse cx="1472" cy="331.7" rx="2.8" ry="6.9" transform="rotate(-29 1472 331.7)" stroke-width="1"/>
<ellipse cx="1456" cy="340.5" rx="1.8" ry="4.5" transform="rotate(-29 1456 340.5)" stroke-width="1"/>
<line x1="1470.3" y1="343" x2="1470.3" y2="370.8"/>
<path d="M1390.3,379.9 L1441.6,350.9 L1438.8,346.1 L1387.5,375.1" stroke-width="1.2" fill="#fff"/>
<ellipse cx="1388.9" cy="377.5" rx="1.2" ry="2.8" transform="rotate(-29.5 1388.9 377.5)" stroke-width="1.2" fill="#fff"/>
<ellipse cx="1440.2" cy="348.5" rx="1.2" ry="2.8" transform="rotate(-29.5 1440.2 348.5)" stroke-width="1.2" fill="#fff"/>
<path d="M1392.6,380.5 L1396.7,378.1 L1392.4,370.5 L1388.3,372.8" stroke-width="1.2" fill="#fff"/>
<ellipse cx="1390.4" cy="376.6" rx="1.8" ry="4.4" transform="rotate(-29.5 1390.4 376.6)" stroke-width="1.2" fill="#fff"/>
<ellipse cx="1394.5" cy="374.3" rx="1.8" ry="4.4" transform="rotate(-29.5 1394.5 374.3)" stroke-width="1.2" fill="#fff"/>
<path d="M1402.2,375.9 L1407.4,373 L1402.2,364 L1397.1,366.9" stroke-width="1.2" fill="#fff"/>
<ellipse cx="1399.7" cy="371.4" rx="2.2" ry="5.2" transform="rotate(-29.5 1399.7 371.4)" stroke-width="1.2" fill="#fff"/>
<ellipse cx="1404.8" cy="368.5" rx="2.2" ry="5.2" transform="rotate(-29.5 1404.8 368.5)" stroke-width="1.2" fill="#fff"/>
<path d="M1412.5,370.1 L1417.6,367.2 L1412.5,358.2 L1407.4,361.1" stroke-width="1.2" fill="#fff"/>
<ellipse cx="1409.9" cy="365.6" rx="2.2" ry="5.2" transform="rotate(-29.5 1409.9 365.6)" stroke-width="1.2" fill="#fff"/>
<ellipse cx="1415.1" cy="362.7" rx="2.2" ry="5.2" transform="rotate(-29.5 1415.1 362.7)" stroke-width="1.2" fill="#fff"/>
<path d="M1422.9,364.7 L1428.6,361.5 L1423.1,351.7 L1417.4,354.9" stroke-width="1.2" fill="#fff"/>
<ellipse cx="1420.2" cy="359.8" rx="2.4" ry="5.6" transform="rotate(-29.5 1420.2 359.8)" stroke-width="1.2" fill="#fff"/>
<ellipse cx="1425.8" cy="356.6" rx="2.4" ry="5.6" transform="rotate(-29.5 1425.8 356.6)" stroke-width="1.2" fill="#fff"/>
<path d="M1433.7,358.6 L1439.9,355.1 L1434.4,345.4 L1428.2,348.8" stroke-width="1.2" fill="#fff"/>
<ellipse cx="1431" cy="353.7" rx="2.4" ry="5.6" transform="rotate(-29.5 1431 353.7)" stroke-width="1.2" fill="#fff"/>
<ellipse cx="1437.1" cy="350.2" rx="2.4" ry="5.6" transform="rotate(-29.5 1437.1 350.2)" stroke-width="1.2" fill="#fff"/>
<ellipse cx="1393" cy="375.2" rx="1.8" ry="3.2" transform="rotate(-29 1393 375.2)" stroke-width="1"/>
<ellipse cx="1402.8" cy="369.7" rx="1.8" ry="3.2" transform="rotate(-29 1402.8 369.7)" stroke-width="1"/>
<ellipse cx="1413" cy="363.9" rx="1.8" ry="3.2" transform="rotate(-29 1413 363.9)" stroke-width="1"/>
<ellipse cx="1423.3" cy="358.1" rx="1.8" ry="3.2" transform="rotate(-29 1423.3 358.1)" stroke-width="1"/>
<ellipse cx="1434.6" cy="351.7" rx="1.8" ry="3.2" transform="rotate(-29 1434.6 351.7)" stroke-width="1"/>
<line x1="1413.9" y1="373" x2="1413.9" y2="402"/>
<path d="M1553.9,408.6 L1569.9,415.6 L1572.1,410.4 L1556.1,403.4" stroke-width="1.2" fill="#fff"/>
<ellipse cx="1555" cy="406" rx="1.2" ry="2.8" transform="rotate(23.6 1555 406)" stroke-width="1.2" fill="#fff"/>
<ellipse cx="1571" cy="413" rx="1.2" ry="2.8" transform="rotate(23.6 1571 413)" stroke-width="1.2" fill="#fff"/>
<path d="M1570,408 L1574,406 L1579,409 L1580,415 L1577,420 L1572,419 L1569,414 Z" fill="#fff"/>
<ellipse cx="1574" cy="413" rx="3" ry="4.5" stroke-width="1"/>
<line x1="1569.6" y1="379.8" x2="1569.6" y2="407"/>
<!-- h2.svg -->
<line x1="1307.4" y1="171" x2="1307.4" y2="200.5"/>
<circle cx="1307.4" cy="206" r="5" stroke-width="1.2"/>
<!-- i.svg -->
<path d="M978.6,489.8 L1000.6,504.6 L1002.4,502 L980.4,487.2" stroke-width="1.1" fill="#fff"/>
<ellipse cx="979.5" cy="488.5" rx="0.7" ry="1.6" transform="rotate(33.9 979.5 488.5)" stroke-width="1.1" fill="#fff"/>
<ellipse cx="1001.5" cy="503.3" rx="0.7" ry="1.6" transform="rotate(33.9 1001.5 503.3)" stroke-width="1.1" fill="#fff"/>
<line x1="992.7" y1="466.3" x2="992.7" y2="494"/>
<path d="M1012.3,518.7 L1023.4,512.7 L1018.9,504.3 L1007.7,510.3" stroke-width="1.2" fill="#fff"/>
<ellipse cx="1010" cy="514.5" rx="2" ry="4.8" transform="rotate(-28.3 1010 514.5)" stroke-width="1.2" fill="#fff"/>
<ellipse cx="1021.2" cy="508.5" rx="2" ry="4.8" transform="rotate(-28.3 1021.2 508.5)" stroke-width="1.2" fill="#fff"/>
<path d="M1022.2,515.9 L1035.6,508.7 L1029,496.3 L1015.6,503.5" stroke-width="1.2" fill="#fff"/>
<ellipse cx="1018.9" cy="509.7" rx="2.9" ry="7" transform="rotate(-28.3 1018.9 509.7)" stroke-width="1.2" fill="#fff"/>
<ellipse cx="1032.3" cy="502.5" rx="2.9" ry="7" transform="rotate(-28.3 1032.3 502.5)" stroke-width="1.2" fill="#fff"/>
<path d="M1035.8,508.9 L1049.2,501.7 L1042.3,488.9 L1028.9,496.1" stroke-width="1.2" fill="#fff"/>
<ellipse cx="1032.3" cy="502.5" rx="3.1" ry="7.3" transform="rotate(-28.3 1032.3 502.5)" stroke-width="1.2" fill="#fff"/>
<ellipse cx="1045.7" cy="495.3" rx="3.1" ry="7.3" transform="rotate(-28.3 1045.7 495.3)" stroke-width="1.2" fill="#fff"/>
<path d="M1049.2,501.7 L1059.6,496.1 L1052.7,483.3 L1042.3,488.9" stroke-width="1.2" fill="#fff"/>
<ellipse cx="1045.7" cy="495.3" rx="3.1" ry="7.3" transform="rotate(-28.3 1045.7 495.3)" stroke-width="1.2" fill="#fff"/>
<ellipse cx="1056.1" cy="489.7" rx="3.1" ry="7.3" transform="rotate(-28.3 1056.1 489.7)" stroke-width="1.2" fill="#fff"/>
<path d="M1059.3,495.7 L1066.8,491.7 L1060.3,479.7 L1052.9,483.7" stroke-width="1.2" fill="#fff"/>
<ellipse cx="1056.1" cy="489.7" rx="2.9" ry="6.8" transform="rotate(-28.3 1056.1 489.7)" stroke-width="1.2" fill="#fff"/>
<ellipse cx="1063.6" cy="485.7" rx="2.9" ry="6.8" transform="rotate(-28.3 1063.6 485.7)" stroke-width="1.2" fill="#fff"/>
<path d="M1066.2,490.6 L1087.1,479.4 L1081.7,469.6 L1060.9,480.8" stroke-width="1.2" fill="#fff"/>
<ellipse cx="1063.6" cy="485.7" rx="2.4" ry="5.6" transform="rotate(-28.3 1063.6 485.7)" stroke-width="1.2" fill="#fff"/>
<ellipse cx="1084.4" cy="474.5" rx="2.4" ry="5.6" transform="rotate(-28.3 1084.4 474.5)" stroke-width="1.2" fill="#fff"/>
<ellipse cx="1024.9" cy="506.5" rx="2.8" ry="7" transform="rotate(-28 1024.9 506.5)" stroke-width="1"/>
<ellipse cx="1028.6" cy="504.5" rx="2.8" ry="7" transform="rotate(-28 1028.6 504.5)" stroke-width="1"/>
<ellipse cx="1038.3" cy="499.3" rx="2.8" ry="7" transform="rotate(-28 1038.3 499.3)" stroke-width="1"/>
<ellipse cx="1041.2" cy="497.7" rx="2.8" ry="7" transform="rotate(-28 1041.2 497.7)" stroke-width="1"/>
<ellipse cx="1050.9" cy="492.5" rx="2.8" ry="7" transform="rotate(-28 1050.9 492.5)" stroke-width="1"/>
<ellipse cx="1059.1" cy="488.1" rx="2.8" ry="7" transform="rotate(-28 1059.1 488.1)" stroke-width="1"/>
<line x1="1055.4" y1="447.3" x2="1055.4" y2="481"/>
<path d="M980.6,535 L990.8,530 L984.5,517.1 L974.4,522" stroke-width="1.2" fill="#fff"/>
<ellipse cx="977.5" cy="528.5" rx="3" ry="7.2" transform="rotate(-25.9 977.5 528.5)" stroke-width="1.2" fill="#fff"/>
<ellipse cx="987.7" cy="523.5" rx="3" ry="7.2" transform="rotate(-25.9 987.7 523.5)" stroke-width="1.2" fill="#fff"/>
<path d="M991.3,530.9 L999.6,526.9 L992.4,512.1 L984.1,516.2" stroke-width="1.2" fill="#fff"/>
<ellipse cx="987.7" cy="523.5" rx="3.4" ry="8.2" transform="rotate(-25.9 987.7 523.5)" stroke-width="1.2" fill="#fff"/>
<ellipse cx="996" cy="519.5" rx="3.4" ry="8.2" transform="rotate(-25.9 996 519.5)" stroke-width="1.2" fill="#fff"/>
<ellipse cx="977.5" cy="528.5" rx="2" ry="4.5" transform="rotate(-26 977.5 528.5)" stroke-width="1"/>
<line x1="991.8" y1="533" x2="991.8" y2="561.7"/>
<ellipse cx="1091.7" cy="469.1" rx="1.5" ry="3.4" transform="rotate(-17.2 1091.7 469.1)" stroke-width="1.1"/>
<ellipse cx="1093.7" cy="468" rx="1.5" ry="3.4" transform="rotate(-17.2 1093.7 468)" stroke-width="1.1"/>
<ellipse cx="1095.8" cy="466.8" rx="1.5" ry="3.4" transform="rotate(-17.2 1095.8 466.8)" stroke-width="1.1"/>
<ellipse cx="1097.8" cy="465.7" rx="1.5" ry="3.4" transform="rotate(-17.2 1097.8 465.7)" stroke-width="1.1"/>
<ellipse cx="1099.9" cy="464.5" rx="1.5" ry="3.4" transform="rotate(-17.2 1099.9 464.5)" stroke-width="1.1"/>
<ellipse cx="1101.9" cy="463.4" rx="1.5" ry="3.4" transform="rotate(-17.2 1101.9 463.4)" stroke-width="1.1"/>
<ellipse cx="1104" cy="462.2" rx="1.5" ry="3.4" transform="rotate(-17.2 1104 462.2)" stroke-width="1.1"/>
<ellipse cx="1106" cy="461.1" rx="1.5" ry="3.4" transform="rotate(-17.2 1106 461.1)" stroke-width="1.1"/>
<ellipse cx="1108" cy="460" rx="1.5" ry="3.4" transform="rotate(-17.2 1108 460)" stroke-width="1.1"/>
<ellipse cx="1110.1" cy="458.8" rx="1.5" ry="3.4" transform="rotate(-17.2 1110.1 458.8)" stroke-width="1.1"/>
<ellipse cx="1112.1" cy="457.7" rx="1.5" ry="3.4" transform="rotate(-17.2 1112.1 457.7)" stroke-width="1.1"/>
<ellipse cx="1114.2" cy="456.5" rx="1.5" ry="3.4" transform="rotate(-17.2 1114.2 456.5)" stroke-width="1.1"/>
<ellipse cx="1116.2" cy="455.4" rx="1.5" ry="3.4" transform="rotate(-17.2 1116.2 455.4)" stroke-width="1.1"/>
<line x1="1106.2" y1="463.6" x2="1106.2" y2="494.5"/>
<path d="M1117.1,454.5 L1143.5,440" stroke-width="1" stroke-dasharray="7 3 1 3"/>
<path d="M1041.5,628.7 L1080.1,606.2 L1075,597.6 L1036.5,620.1" stroke-width="1.2" fill="#fff"/>
<ellipse cx="1039" cy="624.4" rx="2.1" ry="5" transform="rotate(-30.3 1039 624.4)" stroke-width="1.2" fill="#fff"/>
<ellipse cx="1077.6" cy="601.9" rx="2.1" ry="5" transform="rotate(-30.3 1077.6 601.9)" stroke-width="1.2" fill="#fff"/>
<path d="M1076.2,612.2 L1087.2,605.8 L1078.9,591.6 L1067.9,598" stroke-width="1.2" fill="#fff"/>
<ellipse cx="1072" cy="605.1" rx="3.4" ry="8.2" transform="rotate(-30.3 1072 605.1)" stroke-width="1.2" fill="#fff"/>
<ellipse cx="1083.1" cy="598.7" rx="3.4" ry="8.2" transform="rotate(-30.3 1083.1 598.7)" stroke-width="1.2" fill="#fff"/>
<path d="M1085.6,603 L1096.6,596.6 L1091.6,587.9 L1080.5,594.4" stroke-width="1.2" fill="#fff"/>
<ellipse cx="1083.1" cy="598.7" rx="2.1" ry="5" transform="rotate(-30.3 1083.1 598.7)" stroke-width="1.2" fill="#fff"/>
<ellipse cx="1094.1" cy="592.2" rx="2.1" ry="5" transform="rotate(-30.3 1094.1 592.2)" stroke-width="1.2" fill="#fff"/>
<path d="M1098.5,599.8 L1135.2,578.4 L1126.4,563.2 L1089.6,584.6" stroke-width="1.2" fill="#fff"/>
<ellipse cx="1094.1" cy="592.2" rx="3.7" ry="8.8" transform="rotate(-30.3 1094.1 592.2)" stroke-width="1.2" fill="#fff"/>
<ellipse cx="1130.8" cy="570.8" rx="3.7" ry="8.8" transform="rotate(-30.3 1130.8 570.8)" stroke-width="1.2" fill="#fff"/>
<ellipse cx="1099.6" cy="589" rx="3.2" ry="8.6" transform="rotate(-30 1099.6 589)" stroke-width="1"/>
<ellipse cx="1105.1" cy="585.8" rx="3.2" ry="8.6" transform="rotate(-30 1105.1 585.8)" stroke-width="1"/>
<ellipse cx="1112.4" cy="581.5" rx="3.2" ry="8.6" transform="rotate(-30 1112.4 581.5)" stroke-width="1"/>
<ellipse cx="1119.8" cy="577.2" rx="3.2" ry="8.6" transform="rotate(-30 1119.8 577.2)" stroke-width="1"/>
<ellipse cx="1126.2" cy="573.5" rx="3.2" ry="8.6" transform="rotate(-30 1126.2 573.5)" stroke-width="1"/>
<line x1="1081.4" y1="564.5" x2="1081.4" y2="596"/>
<path d="M1133.5,570.8 L1172.6,549 L1175.3,549 L1175.3,452.7 L1194.4,442.7" stroke-width="1" stroke-dasharray="7 3 1 3"/>
<path d="M1137.1,645.3 L1182.6,620.8 L1182.6,488.1 L1194.4,481.8" stroke-width="1" stroke-dasharray="7 3 1 3"/>
<ellipse cx="942.9" cy="678.6" rx="4.5" ry="8.1" transform="rotate(-18.1 942.9 678.6)" stroke-width="1.1"/>
<ellipse cx="947" cy="676.2" rx="4.5" ry="8.1" transform="rotate(-18.1 947 676.2)" stroke-width="1.1"/>
<ellipse cx="951.1" cy="673.9" rx="4.5" ry="8.1" transform="rotate(-18.1 951.1 673.9)" stroke-width="1.1"/>
<ellipse cx="955.2" cy="671.5" rx="4.5" ry="8.1" transform="rotate(-18.1 955.2 671.5)" stroke-width="1.1"/>
<ellipse cx="959.3" cy="669.1" rx="4.5" ry="8.1" transform="rotate(-18.1 959.3 669.1)" stroke-width="1.1"/>
<ellipse cx="963.3" cy="666.7" rx="4.5" ry="8.1" transform="rotate(-18.1 963.3 666.7)" stroke-width="1.1"/>
<ellipse cx="967.4" cy="664.4" rx="4.5" ry="8.1" transform="rotate(-18.1 967.4 664.4)" stroke-width="1.1"/>
<ellipse cx="971.5" cy="662" rx="4.5" ry="8.1" transform="rotate(-18.1 971.5 662)" stroke-width="1.1"/>
<ellipse cx="975.6" cy="659.6" rx="4.5" ry="8.1" transform="rotate(-18.1 975.6 659.6)" stroke-width="1.1"/>
<ellipse cx="979.7" cy="657.2" rx="4.5" ry="8.1" transform="rotate(-18.1 979.7 657.2)" stroke-width="1.1"/>
<ellipse cx="983.8" cy="654.9" rx="4.5" ry="8.1" transform="rotate(-18.1 983.8 654.9)" stroke-width="1.1"/>
<ellipse cx="987.9" cy="652.5" rx="4.5" ry="8.1" transform="rotate(-18.1 987.9 652.5)" stroke-width="1.1"/>
<ellipse cx="992" cy="650.1" rx="4.5" ry="8.1" transform="rotate(-18.1 992 650.1)" stroke-width="1.1"/>
<ellipse cx="996.1" cy="647.7" rx="4.5" ry="8.1" transform="rotate(-18.1 996.1 647.7)" stroke-width="1.1"/>
<ellipse cx="1000.2" cy="645.4" rx="4.5" ry="8.1" transform="rotate(-18.1 1000.2 645.4)" stroke-width="1.1"/>
<ellipse cx="1004.2" cy="643" rx="4.5" ry="8.1" transform="rotate(-18.1 1004.2 643)" stroke-width="1.1"/>
<ellipse cx="1008.3" cy="640.6" rx="4.5" ry="8.1" transform="rotate(-18.1 1008.3 640.6)" stroke-width="1.1"/>
<ellipse cx="1012.4" cy="638.2" rx="4.5" ry="8.1" transform="rotate(-18.1 1012.4 638.2)" stroke-width="1.1"/>
<ellipse cx="1016.5" cy="635.9" rx="4.5" ry="8.1" transform="rotate(-18.1 1016.5 635.9)" stroke-width="1.1"/>
<ellipse cx="1020.6" cy="633.5" rx="4.5" ry="8.1" transform="rotate(-18.1 1020.6 633.5)" stroke-width="1.1"/>
<line x1="977.6" y1="619" x2="977.6" y2="648.8"/>
<path d="M881.2,673 L892.2,676.9 L892.2,684 L881.2,680.1 Z" stroke-width="1.1" fill="#fff"/>
<path d="M881.2,673 L884.2,671.2 L895.2,675.1 L892.2,676.9" stroke-width="1.1"/>
<path d="M892.2,676.9 L895.2,675.1 L895.2,682.2 L892.2,684" stroke-width="1.1"/>
<line x1="884.2" y1="642.5" x2="884.2" y2="672.5"/>
<path d="M985.4,696 L996.4,699.5 L996.4,706 L985.4,702.5 Z" stroke-width="1.1" fill="#fff"/>
<path d="M985.4,696 L988.4,694.2 L999.4,697.7 L996.4,699.5" stroke-width="1.1"/>
<path d="M996.4,699.5 L999.4,697.7 L999.4,704.2 L996.4,706" stroke-width="1.1"/>
<path d="M988.1,705.7 L978.1,709.3 L978.1,759"/>
<path d="M912.3,706.5 L930.6,696.9 L921.4,679.1 L903.1,688.7" stroke-width="1.2" fill="#fff"/>
<ellipse cx="907.7" cy="697.6" rx="4.2" ry="10" transform="rotate(-27.7 907.7 697.6)" stroke-width="1.2" fill="#fff"/>
<ellipse cx="926" cy="688" rx="4.2" ry="10" transform="rotate(-27.7 926 688)" stroke-width="1.2" fill="#fff"/>
<ellipse cx="913.2" cy="694.7" rx="3.8" ry="9.8" transform="rotate(-28 913.2 694.7)" stroke-width="1"/>
<ellipse cx="916.9" cy="692.8" rx="3.8" ry="9.8" transform="rotate(-28 916.9 692.8)" stroke-width="1"/>
<ellipse cx="920.5" cy="690.9" rx="3.8" ry="9.8" transform="rotate(-28 920.5 690.9)" stroke-width="1"/>
<ellipse cx="924.2" cy="689" rx="3.8" ry="9.8" transform="rotate(-28 924.2 689)" stroke-width="1"/>
<ellipse cx="907.7" cy="697.6" rx="2.6" ry="5.5" transform="rotate(-28 907.7 697.6)" stroke-width="1"/>
<ellipse cx="907.7" cy="697.6" rx="1.3" ry="2.8" transform="rotate(-28 907.7 697.6)" stroke-width="1"/>
<path d="M928.7,692.8 L936.7,688.3 L931.3,678.7 L923.3,683.2" stroke-width="1.2" fill="#fff"/>
<ellipse cx="926" cy="688" rx="2.3" ry="5.5" transform="rotate(-29.4 926 688)" stroke-width="1.2" fill="#fff"/>
<ellipse cx="934" cy="683.5" rx="2.3" ry="5.5" transform="rotate(-29.4 934 683.5)" stroke-width="1.2" fill="#fff"/>
<line x1="911.3" y1="707.5" x2="911.3" y2="738.2"/>
<path d="M1013.4,723.7 L1029.6,715.6 L1022.4,701.2 L1006.2,709.3" stroke-width="1.2" fill="#fff"/>
<ellipse cx="1009.8" cy="716.5" rx="3.4" ry="8.1" transform="rotate(-26.6 1009.8 716.5)" stroke-width="1.2" fill="#fff"/>
<ellipse cx="1026" cy="708.4" rx="3.4" ry="8.1" transform="rotate(-26.6 1026 708.4)" stroke-width="1.2" fill="#fff"/>
<ellipse cx="1012" cy="715.5" rx="3" ry="8" transform="rotate(-28 1012 715.5)" stroke-width="1"/>
<ellipse cx="1014" cy="714.5" rx="3" ry="8" transform="rotate(-28 1014 714.5)" stroke-width="1"/>
<line x1="1011.2" y1="724.7" x2="1011.2" y2="784.3"/>
<path d="M1041.2,704.8 L1051.8,698.7 L1046.6,689.7 L1036,695.8" stroke-width="1.2" fill="#fff"/>
<ellipse cx="1038.6" cy="700.3" rx="2.2" ry="5.2" transform="rotate(-30.1 1038.6 700.3)" stroke-width="1.2" fill="#fff"/>
<ellipse cx="1049.2" cy="694.2" rx="2.2" ry="5.2" transform="rotate(-30.1 1049.2 694.2)" stroke-width="1.2" fill="#fff"/>
<path d="M1052.8,700.4 L1065.7,692.9 L1058.5,680.5 L1045.6,687.9" stroke-width="1.2" fill="#fff"/>
<ellipse cx="1049.2" cy="694.2" rx="3" ry="7.2" transform="rotate(-30.1 1049.2 694.2)" stroke-width="1.2" fill="#fff"/>
<ellipse cx="1062.1" cy="686.7" rx="3" ry="7.2" transform="rotate(-30.1 1062.1 686.7)" stroke-width="1.2" fill="#fff"/>
<ellipse cx="1045" cy="697" rx="2.5" ry="5.2" transform="rotate(-30 1045 697)" stroke-width="1"/>
<ellipse cx="1055" cy="691" rx="3" ry="7" transform="rotate(-30 1055 691)" stroke-width="1"/>
<line x1="1047.3" y1="700.3" x2="1047.3" y2="731"/>
<ellipse cx="1073.9" cy="679.5" rx="2.1" ry="4.6" transform="rotate(-17.1 1073.9 679.5)" stroke-width="1.1"/>
<ellipse cx="1076.6" cy="678" rx="2.1" ry="4.6" transform="rotate(-17.1 1076.6 678)" stroke-width="1.1"/>
<ellipse cx="1079.3" cy="676.5" rx="2.1" ry="4.6" transform="rotate(-17.1 1079.3 676.5)" stroke-width="1.1"/>
<ellipse cx="1082" cy="675" rx="2.1" ry="4.6" transform="rotate(-17.1 1082 675)" stroke-width="1.1"/>
<ellipse cx="1084.7" cy="673.5" rx="2.1" ry="4.6" transform="rotate(-17.1 1084.7 673.5)" stroke-width="1.1"/>
<ellipse cx="1087.4" cy="672" rx="2.1" ry="4.6" transform="rotate(-17.1 1087.4 672)" stroke-width="1.1"/>
<ellipse cx="1090.1" cy="670.5" rx="2.1" ry="4.6" transform="rotate(-17.1 1090.1 670.5)" stroke-width="1.1"/>
<ellipse cx="1092.8" cy="669" rx="2.1" ry="4.6" transform="rotate(-17.1 1092.8 669)" stroke-width="1.1"/>
<ellipse cx="1095.5" cy="667.5" rx="2.1" ry="4.6" transform="rotate(-17.1 1095.5 667.5)" stroke-width="1.1"/>
<ellipse cx="1098.2" cy="666" rx="2.1" ry="4.6" transform="rotate(-17.1 1098.2 666)" stroke-width="1.1"/>
<line x1="1086.5" y1="678.6" x2="1086.5" y2="708.4"/>
<path d="M1107,667 L1118,661.3 L1113.3,652.1 L1102.2,657.8" stroke-width="1.2" fill="#fff"/>
<ellipse cx="1104.6" cy="662.4" rx="2.2" ry="5.2" transform="rotate(-27.3 1104.6 662.4)" stroke-width="1.2" fill="#fff"/>
<ellipse cx="1115.7" cy="656.7" rx="2.2" ry="5.2" transform="rotate(-27.3 1115.7 656.7)" stroke-width="1.2" fill="#fff"/>
<path d="M1117.6,660.4 L1125.5,656.4 L1121.6,648.9 L1113.7,653" stroke-width="1.2" fill="#fff"/>
<ellipse cx="1115.7" cy="656.7" rx="1.8" ry="4.2" transform="rotate(-27.3 1115.7 656.7)" stroke-width="1.2" fill="#fff"/>
<ellipse cx="1123.6" cy="652.6" rx="1.8" ry="4.2" transform="rotate(-27.3 1123.6 652.6)" stroke-width="1.2" fill="#fff"/>
<path d="M1125.9,657.2 L1138.6,650.7 L1133.8,641.5 L1121.2,648" stroke-width="1.2" fill="#fff"/>
<ellipse cx="1123.6" cy="652.6" rx="2.2" ry="5.2" transform="rotate(-27.3 1123.6 652.6)" stroke-width="1.2" fill="#fff"/>
<ellipse cx="1136.2" cy="646.1" rx="2.2" ry="5.2" transform="rotate(-27.3 1136.2 646.1)" stroke-width="1.2" fill="#fff"/>
<ellipse cx="1128" cy="650.3" rx="2.2" ry="5" transform="rotate(-28 1128 650.3)" stroke-width="1"/>
<ellipse cx="1114" cy="657.5" rx="2.2" ry="5" transform="rotate(-28 1114 657.5)" stroke-width="1"/>
<line x1="1124.4" y1="655.1" x2="1124.4" y2="685"/>
<path d="M1136.2,646.1 L1160,633.5" stroke-width="1" stroke-dasharray="7 3 1 3"/>
<path d="M1074.8,810 L1160,760" stroke-width="1" stroke-dasharray="7 3 1 3"/>
<!-- j.svg -->
<line x1="1351.7" y1="460" x2="1359" y2="463.6" stroke-width="1.2"/>
<line x1="1355.3" y1="452.8" x2="1362.6" y2="456.4" stroke-width="1.2"/>
<ellipse cx="1360.8" cy="460" rx="1.8" ry="4" transform="rotate(26.3 1360.8 460)" stroke-width="1.2"/>
<ellipse cx="1353.5" cy="456.4" rx="1.8" ry="4" transform="rotate(26.3 1353.5 456.4)" stroke-width="1.2"/>
<line x1="1362" y1="458.2" x2="1392.6" y2="458.2"/>
<path d="M1323.5,450.9 L1351.7,467.3" stroke-width="1" stroke-dasharray="7 3 1 3"/>
<ellipse cx="1352" cy="467.5" rx="1.6" ry="3.6" transform="rotate(43.7 1352 467.5)" stroke-width="1.1"/>
<ellipse cx="1354.1" cy="468.8" rx="1.6" ry="3.6" transform="rotate(43.7 1354.1 468.8)" stroke-width="1.1"/>
<ellipse cx="1356.2" cy="470.1" rx="1.6" ry="3.6" transform="rotate(43.7 1356.2 470.1)" stroke-width="1.1"/>
<ellipse cx="1358.4" cy="471.4" rx="1.6" ry="3.6" transform="rotate(43.7 1358.4 471.4)" stroke-width="1.1"/>
<ellipse cx="1360.5" cy="472.8" rx="1.6" ry="3.6" transform="rotate(43.7 1360.5 472.8)" stroke-width="1.1"/>
<ellipse cx="1362.6" cy="474.1" rx="1.6" ry="3.6" transform="rotate(43.7 1362.6 474.1)" stroke-width="1.1"/>
<ellipse cx="1364.8" cy="475.4" rx="1.6" ry="3.6" transform="rotate(43.7 1364.8 475.4)" stroke-width="1.1"/>
<ellipse cx="1366.9" cy="476.7" rx="1.6" ry="3.6" transform="rotate(43.7 1366.9 476.7)" stroke-width="1.1"/>
<ellipse cx="1369" cy="478" rx="1.6" ry="3.6" transform="rotate(43.7 1369 478)" stroke-width="1.1"/>
<line x1="1370" y1="476.3" x2="1400.7" y2="476.3"/>
<ellipse cx="1378" cy="484.5" rx="4.6" ry="6.6" transform="rotate(20 1378 484.5)" stroke-width="1.2"/>
<ellipse cx="1378" cy="484.5" rx="2.5" ry="4.3" transform="rotate(20 1378 484.5)" stroke-width="1.2"/>
<line x1="1377.7" y1="491" x2="1377.7" y2="520"/>
<ellipse cx="1320.8" cy="494.5" rx="6.2" ry="7.2" transform="rotate(20 1320.8 494.5)" stroke-width="1.2"/>
<ellipse cx="1320.8" cy="494.5" rx="3.1" ry="4.3" transform="rotate(20 1320.8 494.5)" stroke-width="1.2"/>
<line x1="1320.3" y1="501.8" x2="1320.3" y2="543.6"/>
<path d="M1290.8,475.4 L1315,489" stroke-width="1" stroke-dasharray="7 3 1 3"/>
<ellipse cx="1259" cy="504.5" rx="5.6" ry="7" transform="rotate(25 1259 504.5)" stroke-width="1.2"/>
<path d="M1252.7,509 L1221.8,525.4 L1221.8,562"/>
<path d="M1221.8,586 L1221.8,606.2 L1280.5,606.2 L1280.5,536"/>
<line x1="1251.4" y1="606.2" x2="1251.4" y2="632.6"/>
<g transform="translate(1180,440) scale(0.18169)">
<path d="M495,430 L520,408 L600,410 L650,425 L670,470 L690,490 L712,505 L712,545 L690,560 L660,545 L600,545 L530,525 L495,500 Z" fill="#fff"/>
<ellipse cx="548" cy="475" rx="28" ry="33" transform="rotate(20 548 475)"/>
<ellipse cx="548" cy="475" rx="15" ry="20" transform="rotate(20 548 475)"/>
<path d="M600,470 L660,440 L690,490"/>
<path d="M600,500 L660,470"/>
<path d="M620,530 L680,500"/>
<ellipse cx="690" cy="525" rx="22" ry="25"/>
</g>
<path d="M1182.2,483.6 L1182.2,621.7" stroke-width="1" stroke-dasharray="7 3 1 3"/>
<path d="M1459.2,518.4 L1472.8,525.7 L1475.2,521.3 L1461.6,514" stroke-width="1.2" fill="#fff"/>
<ellipse cx="1460.4" cy="516.2" rx="1.1" ry="2.5" transform="rotate(28.2 1460.4 516.2)" stroke-width="1.2" fill="#fff"/>
<ellipse cx="1474" cy="523.5" rx="1.1" ry="2.5" transform="rotate(28.2 1474 523.5)" stroke-width="1.2" fill="#fff"/>
<path d="M1473,521 L1477,518.5 L1483,519.5 L1486,525 L1484,532 L1478,533.5 L1473,529 Z" fill="#fff"/>
<ellipse cx="1479" cy="526" rx="3.5" ry="5" stroke-width="1"/>
<line x1="1486" y1="526.3" x2="1515" y2="526.3"/>
<line x1="1518.4" y1="558.7" x2="1518.4" y2="588"/>
<rect x="1440.5" y="588.4" width="166" height="148" stroke-width="1.3"/>
<path d="M1519,667 L1516.2,673.9 L1510.6,673.9 L1507.8,667 L1510.6,660.1 L1516.2,660.1 Z" stroke-width="1.1"/>
<ellipse cx="1513.4" cy="667" rx="3.1" ry="4.8" transform="rotate(-15 1513.4 667)" stroke-width="1"/>
<line x1="1511.6" y1="632.6" x2="1511.6" y2="659"/>
<path d="M1494.7,678.6 L1492.2,684.3 L1487.2,684.3 L1484.7,678.6 L1487.2,672.9 L1492.2,672.9 Z" stroke-width="1.1"/>
<ellipse cx="1489.7" cy="678.6" rx="2.8" ry="4" transform="rotate(-15 1489.7 678.6)" stroke-width="1"/>
<line x1="1487.7" y1="654.8" x2="1487.7" y2="672"/>
<ellipse cx="1475.5" cy="686" rx="4.6" ry="6.8" transform="rotate(-20 1475.5 686)" stroke-width="1.1"/>
<ellipse cx="1475.5" cy="686" rx="2.6" ry="4.2" transform="rotate(-20 1475.5 686)" stroke-width="1"/>
<line x1="1478.2" y1="692.5" x2="1478.2" y2="710.5"/>
<ellipse cx="1528.8" cy="655.4" rx="9" ry="12.8" transform="rotate(-15 1528.8 655.4)" stroke-width="1.2"/>
<ellipse cx="1528.8" cy="655.4" rx="7.6" ry="11.4" transform="rotate(-15 1528.8 655.4)" stroke-width="1"/>
<line x1="1535.2" y1="668" x2="1535.2" y2="686.2"/>
<g transform="translate(1430,500) scale(0.20239)">
<path d="M720,560 L760,545 L800,548 L830,580 L840,640 L820,700 L740,720" fill="#fff"/>
<ellipse cx="660" cy="665" rx="60" ry="95" transform="rotate(-10 660 665)" fill="#fff"/>
<ellipse cx="668" cy="668" rx="45" ry="75" transform="rotate(-10 668 668)"/>
<ellipse cx="675" cy="672" rx="28" ry="45" transform="rotate(-10 675 672)"/>
<path d="M610,600 L720,560"/>
<path d="M650,760 L740,720"/>
<path d="M548,690 L600,660 L660,640 L700,650 L700,700 L650,740 L590,765 L560,760 Z" fill="#fff"/>
<ellipse cx="565" cy="730" rx="25" ry="38" transform="rotate(-10 565 730)"/>
<ellipse cx="600" cy="710" rx="12" ry="40" transform="rotate(-15 600 710)"/>
<ellipse cx="625" cy="710" rx="12" ry="40" transform="rotate(-15 625 710)"/>
<ellipse cx="650" cy="710" rx="12" ry="40" transform="rotate(-15 650 710)"/>
<path d="M735,680 L790,640 L815,650 L815,720 L760,745 L735,735 Z" fill="#fff"/>
<path d="M760,665 L760,740"/>
<path d="M790,645 L840,640 L840,660 L815,670"/>
</g>
<g transform="translate(1430,500) scale(0.20239)">
<path d="M950,470 L990,440 L1040,425 L1065,460 L1100,540 L1060,560 L1030,590 L1090,600 L1075,620 L1030,640 L1070,680 L1080,720 L1040,730 L1060,760 L1020,790 L1070,930 L1020,960 L1000,990 L970,995 L940,960 L920,900 L930,800 L950,780 L930,700 L935,640 L960,600 L950,540 Z" fill="#fff"/>
<path d="M990,470 L1000,520 L1060,560"/>
<path d="M1020,480 L1060,550"/>
<path d="M990,640 L1000,700 L1040,720"/>
<path d="M990,800 L1000,880 L1060,900"/>
<path d="M975,470 L960,560 L965,620 L950,700 L960,780 L945,850 L960,960" stroke-width="1"/>
<ellipse cx="1035" cy="458" rx="10" ry="12" transform="rotate(20 1035 458)"/>
<ellipse cx="1030" cy="610" rx="10" ry="12" transform="rotate(20 1030 610)"/>
<ellipse cx="1015" cy="775" rx="10" ry="12" transform="rotate(20 1015 775)"/>
<ellipse cx="1000" cy="940" rx="10" ry="12" transform="rotate(20 1000 940)"/>
<path d="M1030,660 L1060,650 L1080,700 L1050,720"/>
<path d="M1010,820 L1050,810 L1060,880 L1020,890"/>
</g>
<line x1="1635.4" y1="556.7" x2="1635.4" y2="586"/>
<path d="M1658,612.7 L1670,607.2 L1668,602.8 L1656,608.3" stroke-width="1.2" fill="#fff"/>
<ellipse cx="1657" cy="610.5" rx="1" ry="2.4" transform="rotate(-24.6 1657 610.5)" stroke-width="1.2" fill="#fff"/>
<ellipse cx="1669" cy="605" rx="1" ry="2.4" transform="rotate(-24.6 1669 605)" stroke-width="1.2" fill="#fff"/>
<path d="M1667,603 L1671,600 L1676,601 L1677,607 L1674,612 L1669,612 Z" fill="#fff"/>
<line x1="1671.2" y1="610" x2="1671.2" y2="639.6"/>
<!-- k.svg -->
<g transform="translate(1150,740) scale(0.21478)">
<path d="M170,290 L200,240 L290,180 L330,160 L380,135 L400,140 L420,170 L420,220 L300,330 L260,850 L180,870 L130,910 L80,940 L55,930 L70,810 L130,780 L140,700 L150,600 L165,400 Z" stroke-width="1.3" fill="#fff"/>
<path d="M185,300 L175,500 L160,700 L145,790 L80,820 L70,920" stroke-width="1"/>
<path d="M210,250 L300,195 L390,150" stroke-width="1"/>
<path d="M211,686.8 L207.7,689.4 L204,690.4 L200.2,689.7 L196.8,687.5 L194.2,683.9 L192.8,679.4 L192.6,674.7 L193.8,670.1 L196.2,666.3 L199.4,663.8 L203.2,662.8 L207,663.4" stroke-width="1.2"/>
<path d="M160.2,713.4 L159.3,719.4 L156.4,724.3 L152,727.3 L147,727.8 L142.3,725.7 L138.7,721.3 L137,715.6 L137.5,709.6" stroke-width="1.2"/>
<path d="M83.9,881 L81.5,883.5 L78.5,884.8 L75.3,884.8 L72.4,883.5 L70,881 L68.4,877.5 L67.8,873.6 L68.4,869.8 L70,866.3 L72.4,863.8 L75.3,862.5 L78.5,862.5 L81.5,863.8" stroke-width="1.2"/>
<line x1="272.9" y1="339.9" x2="273.3" y2="361.6" stroke-width="1.2"/>
<path d="M144.2,802.1 L141.7,803.7 L138.9,804.1 L136.1,803.4 L133.8,801.4 L132.1,798.6 L131.3,795.3 L131.4,791.8 L132.5,788.5 L134.4,786 L136.9,784.4 L139.7,783.9 L142.5,784.7" stroke-width="1.2"/>
<circle cx="291.4" cy="318.1" r="1.2" fill="#000"/>
<circle cx="194.9" cy="404.6" r="1.2" fill="#000"/>
<line x1="183.7" y1="455" x2="182.9" y2="480.3" stroke-width="1.2"/>
<path d="M180.3,802.9 L178.1,805.3 L175.3,806.5 L172.4,806.5 L169.7,805.3 L167.5,802.9 L166,799.8 L165.5,796.2 L166,792.6 L167.5,789.5 L169.7,787.2 L172.4,785.9 L175.3,785.9 L178.1,787.2" stroke-width="1.2"/>
<circle cx="278" cy="544.3" r="1.2" fill="#000"/>
<path d="M206.4,376.1 L203.5,379.4 L199.9,381.2 L196,381.4 L192.3,379.9 L189.3,376.9 L187.2,372.8 L186.4,368 L186.9,363.2 L188.8,358.9 L191.6,355.7 L195.2,353.9 L199.1,353.7 L202.8,355.2" stroke-width="1.2"/>
<line x1="259.9" y1="545.3" x2="259.5" y2="572.2" stroke-width="1.2"/>
<path d="M253.3,711.4 L250.5,713 L247.4,713.4 L244.4,712.3 L241.8,710.1 L240,706.9 L239.2,703.1 L239.5,699.3 L240.8,695.7 L243,693 L245.8,691.3 L249,691 L252,692 L254.5,694.2" stroke-width="1.2"/>
<path d="M201.8,563.4 L198.5,565.1 L194.9,565.3 L191.5,563.9 L188.6,561.1 L186.7,557.3 L186,552.9 L186.5,548.4 L188.2,544.4 L190.8,541.4 L194.2,539.7 L197.8,539.6 L201.2,541" stroke-width="1.2"/>
<circle cx="267.1" cy="278" r="1.2" fill="#000"/>
<path d="M325.9,317.6 L323.4,320.1 L320.4,321.3 L317.2,321.2 L314.2,319.7 L311.8,317 L310.3,313.5 L309.9,309.5 L310.5,305.6 L312.2,302.2 L314.8,299.7 L317.8,298.5 L321,298.6 L324,300.1" stroke-width="1.2"/>
<line x1="152.5" y1="749.7" x2="150.7" y2="777.2" stroke-width="1.2"/>
<path d="M237.3,794.6 L235,797 L232.1,798.3 L229,798.3 L226.2,797 L223.8,794.6 L222.3,791.2 L221.7,787.5 L222.3,783.7 L223.8,780.4 L226.2,777.9 L229,776.6 L232.1,776.6 L235,777.9" stroke-width="1.2"/>
<circle cx="193.7" cy="459" r="1.2" fill="#000"/>
<path d="M185.9,385.4 L183.7,387.8 L180.9,389 L178,389 L175.3,387.8 L173.1,385.4 L171.6,382.3 L171.1,378.7 L171.6,375.1 L173.1,372 L175.3,369.7 L178,368.4 L180.9,368.4 L183.7,369.7" stroke-width="1.2"/>
<path d="M173.6,843.5 L170.8,845.9 L167.5,847 L164.1,846.7 L161,844.9 L158.6,841.8 L157.1,837.9 L156.8,833.7 L157.7,829.6 L159.7,826.1 L162.5,823.6 L165.8,822.5 L169.2,822.9 L172.3,824.7" stroke-width="1.2"/>
<path d="M272.6,304.4 L269.5,307 L265.8,308 L262,307.5 L258.6,305.3 L256.1,301.9 L254.6,297.5 L254.4,292.8 L255.5,288.3 L257.8,284.5 L260.9,281.9 L264.6,280.8 L268.4,281.4 L271.8,283.6" stroke-width="1.2"/>
<path d="M165.1,768.9 L162.1,771.2 L158.7,772.1 L155.2,771.5 L152,769.4 L149.7,766.2 L148.4,762.1 L148.2,757.6 L149.3,753.4 L151.5,750 L154.5,747.6 L157.9,746.7 L161.4,747.3 L164.6,749.4" stroke-width="1.2"/>
<path d="M218.1,793 L215.2,796.1 L211.6,797.7 L207.7,797.7 L204.1,796.1 L201.2,793 L199.2,788.8 L198.6,784.1 L199.2,779.3 L201.2,775.2 L204.1,772.1 L207.7,770.5 L211.6,770.5 L215.2,772.1" stroke-width="1.2"/>
<path d="M216.4,863.9 L212.9,866 L209,866.5 L205.3,865.3 L202.1,862.6 L199.8,858.7 L198.7,854.1 L199,849.2 L200.6,844.8 L203.3,841.3 L206.8,839.2 L210.6,838.7 L214.4,839.9 L217.6,842.6" stroke-width="1.2"/>
<path d="M258.7,496.7 L256.3,498.6 L253.5,499.4 L250.7,499 L248.1,497.4 L246.2,494.7 L245.1,491.5 L244.9,487.9 L245.7,484.5 L247.5,481.6 L249.9,479.6 L252.7,478.8 L255.5,479.3 L258.1,480.9" stroke-width="1.2"/>
<line x1="162.4" y1="734.1" x2="164" y2="759.6" stroke-width="1.2"/>
<path d="M108.4,821 L105.3,823.8 L101.7,825.1 L97.9,824.8 L94.4,822.9 L91.6,819.5 L89.9,815.3 L89.5,810.5 L90.5,805.9 L92.6,801.9 L95.7,799.1 L99.4,797.8 L103.2,798.1" stroke-width="1.2"/>
<path d="M287.3,316.5 L283.9,318.8 L280.1,319.5 L276.3,318.5 L273.1,315.9 L270.7,312.2 L269.6,307.6 L269.7,302.8 L271.1,298.4 L273.7,294.8 L277.1,292.6 L280.9,291.9 L284.6,292.9" stroke-width="1.2"/>
<circle cx="223.3" cy="459.1" r="1.2" fill="#000"/>
<path d="M300,330 L360,280 L420,240 L500,185 L540,190 L600,250 L610,290 L660,320 L680,360 L745,365 L755,380 L730,800 L720,1000 L690,1050 L600,1100 L520,1130 L485,1110 L440,1060 L410,1040 L230,1050 L175,1010 L170,880 L260,850 Z" stroke-width="1.3" fill="#fff"/>
<path d="M300,330 L380,390 L430,440"/>
<path d="M300,330 L260,850 L300,880 L410,940"/>
<path d="M380,390 L470,380 L560,340 L640,320 L680,360"/>
<path d="M420,240 L480,260 L560,300 L640,320"/>
<path d="M360,280 L430,300 L500,290 L560,300"/>
<path d="M350,250 L430,220 L500,230 L500,290 L440,320 L360,310 Z" fill="#fff"/>
<ellipse cx="405" cy="272" rx="18" ry="14"/>
<ellipse cx="470" cy="235" rx="15" ry="12"/>
<path d="M430,440 L480,420 L490,470 L480,1060 L440,1060 L410,1000 L420,600 Z"/>
<ellipse cx="460" cy="470" rx="14" ry="18"/>
<ellipse cx="455" cy="580" rx="14" ry="18"/>
<ellipse cx="450" cy="640" rx="14" ry="18"/>
<ellipse cx="445" cy="690" rx="14" ry="18"/>
<ellipse cx="450" cy="740" rx="14" ry="18"/>
<ellipse cx="440" cy="900" rx="14" ry="18"/>
<ellipse cx="455" cy="1040" rx="14" ry="18"/>
<path d="M425,620 L470,610 L475,660 L430,665 Z"/>
<path d="M510,480 L745,365"/>
<path d="M500,475 L490,1110"/>
<path d="M515,500 L505,1120" stroke-width="1"/>
<path d="M530,400 L560,380 L600,375 L605,430 L560,450"/>
<path d="M540,380 L540,460"/>
<path d="M575,375 L575,450"/>
<path d="M620,340 L660,330 L665,380 L625,395 Z"/>
<ellipse cx="340" cy="460" rx="22" ry="35" transform="rotate(-15 340 460)"/>
<ellipse cx="340" cy="460" rx="12" ry="20" transform="rotate(-15 340 460)"/>
<ellipse cx="395" cy="540" rx="15" ry="25"/>
<path d="M230,930 L420,940"/>
<path d="M175,900 L230,930 L230,1050"/>
<path d="M265,940 L370,945 L375,1010 L270,1010 Z"/>
<path d="M280,990 L330,975 L350,990 L310,1005 Z"/>
<path d="M611.7,560.2 L608.6,563 L605,564.3 L601.2,563.9 L597.7,562 L595,558.7 L593.4,554.5 L593,549.8 L593.9,545.2 L596,541.3 L599.1,538.5 L602.7,537.2 L606.5,537.5" stroke-width="1.3"/>
<path d="M589,595 L585.8,597.2 L582.2,597.9 L578.6,597.1 L575.5,594.7 L573.2,591.2 L572,586.9 L572.1,582.3 L573.4,578.1 L575.8,574.6 L578.9,572.4 L582.5,571.7 L586.1,572.6" stroke-width="1.3"/>
<path d="M624.9,504.1 L621.9,507 L618.2,508.5 L614.4,508.4 L610.8,506.5 L607.9,503.3 L606.1,499 L605.5,494.3 L606.3,489.5 L608.4,485.4 L611.4,482.4 L615.1,481 L619,481.1 L622.6,482.9" stroke-width="1.3"/>
<path d="M680.7,819.5 L678.1,822.8 L674.8,824.7 L671.1,825.1 L667.6,823.9 L664.6,821.3 L662.5,817.6 L661.6,813.1 L661.9,808.6 L663.5,804.5 L666,801.2 L669.3,799.3 L673,798.9 L676.5,800.1" stroke-width="1.3"/>
<path d="M713.2,547.7 L710.5,550.7 L707.2,552.4 L703.6,552.5 L700.2,551.2 L697.3,548.4 L695.4,544.6 L694.7,540.2 L695.2,535.8 L696.9,531.8 L699.5,528.8 L702.9,527.1 L706.5,526.9 L709.9,528.3" stroke-width="1.3"/>
<path d="M553.3,1062.6 L551.1,1064.8 L548.4,1065.9 L545.5,1065.8 L542.9,1064.4 L540.8,1062.1 L539.5,1058.9 L539.1,1055.4 L539.7,1052 L541.2,1048.9 L543.4,1046.8 L546.1,1045.7 L548.9,1045.8 L551.6,1047.1" stroke-width="1.3"/>
<path d="M660.9,521.6 L658.6,524.2 L655.7,525.7 L652.6,525.8 L649.6,524.6 L647.1,522.2 L645.5,518.9 L644.8,515.1 L645.3,511.3 L646.7,507.8 L649.1,505.2 L651.9,503.8 L655.1,503.7 L658,504.9" stroke-width="1.3"/>
<path d="M611.5,886.8 L605.7,886.3 L600.6,882.9 L597.2,877.2 L596.2,870.3 L597.6,863.6 L601.3,858.2 L606.6,855.2 L612.4,855.1" stroke-width="1.3"/>
<path d="M536.5,1065.8 L541.5,1066.8 L545.7,1070.3 L548.3,1075.5 L548.7,1081.6 L547.1,1087.3 L543.5,1091.6 L538.8,1093.7 L533.7,1093.3 L529.3,1090.3 L526.4,1085.3" stroke-width="1.3"/>
<path d="M718.6,873.6 L715.9,875.1 L712.9,875.5 L710.1,874.5 L707.6,872.4 L705.9,869.3 L705.1,865.7 L705.4,862 L706.7,858.6 L708.8,856 L711.5,854.4 L714.4,854.1 L717.3,855.1" stroke-width="1.3"/>
<path d="M685.3,895.7 L681.9,898 L678.1,898.7 L674.3,897.7 L671,895.1 L668.6,891.3 L667.4,886.7 L667.5,881.8 L669,877.3 L671.6,873.7 L675,871.5 L678.8,870.8 L682.6,871.8" stroke-width="1.3"/>
<path d="M618,914.1 L615.1,916.6 L611.8,917.7 L608.3,917.3 L605.2,915.5 L602.8,912.4 L601.3,908.5 L601,904.2 L601.9,900 L603.9,896.5 L606.7,894 L610,892.9 L613.5,893.3" stroke-width="1.3"/>
<path d="M720.5,562.5 L720.3,556.5 L722.2,551 L725.8,547 L730.6,545.2 L735.5,546 L739.7,549.2 L742.3,554.2 L743,560.1 L741.5,565.8 L738.1,570.2" stroke-width="1.3"/>
<path d="M698.7,451.7 L695.6,453.3 L692.2,453.5 L689,452.2 L686.3,449.6 L684.5,446 L683.8,441.8 L684.3,437.7 L685.9,433.9 L688.4,431.1 L691.5,429.5 L694.9,429.4 L698.1,430.7 L700.8,433.3" stroke-width="1.3"/>
<path d="M599.4,916.2 L594.4,912.9 L591,907.4 L589.8,900.7 L591.2,894.1 L594.7,888.7 L599.8,885.7 L605.5,885.5 L610.7,888.2 L614.5,893.3" stroke-width="1.3"/>
<path d="M544,795 L541.9,797.3 L539.3,798.5 L536.5,798.6 L533.8,797.5 L531.6,795.2 L530.2,792.2 L529.6,788.8 L530.1,785.3 L531.4,782.2 L533.6,779.9 L536.2,778.7 L539,778.6 L541.7,779.8" stroke-width="1.3"/>
<path d="M541.7,562.9 L539.2,565.7 L536.2,567.2 L532.8,567.4 L529.7,566.1 L527,563.5 L525.3,560 L524.6,556 L525.1,551.8 L526.6,548.2 L529.1,545.4 L532.2,543.8 L535.5,543.7 L538.7,545" stroke-width="1.3"/>
<path d="M675.8,974.3 L681.1,974.1 L686,976.7 L689.6,981.5 L691.1,987.7 L690.3,994.1 L687.4,999.4 L682.8,1002.8 L677.5,1003.5 L672.4,1001.5 L668.5,997" stroke-width="1.3"/>
<path d="M721.9,996.7 L719.3,998.4 L716.3,998.9 L713.4,998.2 L710.9,996.2 L709.1,993.3 L708.1,989.7 L708.2,986 L709.3,982.6 L711.3,979.8 L714,978 L716.9,977.5 L719.8,978.3 L722.4,980.3" stroke-width="1.3"/>
<path d="M558.5,773.5 L555.5,774.9 L552.2,775 L549.2,773.7 L546.6,771.1 L545,767.7 L544.4,763.7 L544.9,759.7 L546.4,756.2 L548.9,753.5 L551.9,752.1 L555.1,752 L558.2,753.3" stroke-width="1.3"/>
<path d="M535.5,880.7 L533,883 L530.1,884 L527.1,883.7 L524.4,882.2 L522.2,879.6 L520.9,876.2 L520.6,872.4 L521.3,868.8 L523,865.7 L525.4,863.4 L528.3,862.4 L531.3,862.7" stroke-width="1.3"/>
<path d="M737.1,600.4 L733.8,602.7 L730.2,603.5 L726.5,602.7 L723.3,600.4 L720.9,596.8 L719.6,592.4 L719.6,587.8 L720.9,583.4 L723.3,579.8 L726.5,577.5 L730.2,576.7 L733.8,577.5" stroke-width="1.3"/>
<path d="M714.4,573.9 L718.7,576.8 L721.5,581.5 L722.4,587.3 L721.2,592.9 L718.1,597.4 L713.7,599.9 L708.8,600 L704.4,597.5 L701.3,593.1 L700,587.5" stroke-width="1.3"/>
<path d="M577.2,762 L572.6,763.2 L568,762 L564.2,758.5 L562,753.5 L561.8,747.8 L563.6,742.6 L567.1,738.7 L571.6,737 L576.3,737.8" stroke-width="1.3"/>
<path d="M540.5,735.5 L543.9,738.9 L545.8,743.7 L545.9,749 L544,753.8 L540.7,757.2 L536.4,758.7 L532,757.8 L528.4,754.8 L526.1,750.2 L525.7,744.9" stroke-width="1.3"/>
<path d="M679.8,534.8 L676.9,530.1 L675.9,524.4 L677,518.7 L680.1,514.1 L684.4,511.5 L689.3,511.3 L693.8,513.7 L697.1,518.1" stroke-width="1.3"/>
<path d="M595,760 L630,740 L620,775 Z"/>
<path d="M728,975 L750,965 L768,978 L770,1040 L870,1110 L862,1125 L760,1065 L760,1100 L850,1180 L842,1195 L740,1130 L725,1120 Z" fill="#fff"/>
<ellipse cx="745" cy="1005" rx="10" ry="15"/>
<path d="M0,125 L45,110 L45,625 L330,480" stroke-width="1" stroke-dasharray="8 4 1 4"/>
<path d="M150,760 L380,700" stroke-width="1" stroke-dasharray="8 4 1 4"/>
<path d="M230,790 L230,1211" stroke-width="1" stroke-dasharray="8 4 1 4"/>
<path d="M290,1000 L290,1211" stroke-width="1" stroke-dasharray="8 4 1 4"/>
</g>
<line x1="1213.4" y1="748.6" x2="1213.4" y2="777.6"/>
<line x1="1305.7" y1="911.8" x2="1334.7" y2="911.8"/>
<line x1="1317.5" y1="987" x2="1317.5" y2="1020"/>
<ellipse cx="1304.5" cy="803.3" rx="1.8" ry="3.6" transform="rotate(-18 1304.5 803.3)" stroke-width="1.1"/>
<ellipse cx="1306.5" cy="802.1" rx="1.8" ry="3.6" transform="rotate(-18 1306.5 802.1)" stroke-width="1.1"/>
<ellipse cx="1308.6" cy="800.9" rx="1.8" ry="3.6" transform="rotate(-18 1308.6 800.9)" stroke-width="1.1"/>
<ellipse cx="1310.6" cy="799.8" rx="1.8" ry="3.6" transform="rotate(-18 1310.6 799.8)" stroke-width="1.1"/>
<ellipse cx="1312.7" cy="798.6" rx="1.8" ry="3.6" transform="rotate(-18 1312.7 798.6)" stroke-width="1.1"/>
<ellipse cx="1314.7" cy="797.4" rx="1.8" ry="3.6" transform="rotate(-18 1314.7 797.4)" stroke-width="1.1"/>
<ellipse cx="1316.7" cy="796.2" rx="1.8" ry="3.6" transform="rotate(-18 1316.7 796.2)" stroke-width="1.1"/>
<ellipse cx="1318.8" cy="795.1" rx="1.8" ry="3.6" transform="rotate(-18 1318.8 795.1)" stroke-width="1.1"/>
<ellipse cx="1320.8" cy="793.9" rx="1.8" ry="3.6" transform="rotate(-18 1320.8 793.9)" stroke-width="1.1"/>
<ellipse cx="1322.8" cy="792.7" rx="1.8" ry="3.6" transform="rotate(-18 1322.8 792.7)" stroke-width="1.1"/>
<ellipse cx="1324.9" cy="791.5" rx="1.8" ry="3.6" transform="rotate(-18 1324.9 791.5)" stroke-width="1.1"/>
<ellipse cx="1326.9" cy="790.4" rx="1.8" ry="3.6" transform="rotate(-18 1326.9 790.4)" stroke-width="1.1"/>
<ellipse cx="1329" cy="789.2" rx="1.8" ry="3.6" transform="rotate(-18 1329 789.2)" stroke-width="1.1"/>
<ellipse cx="1331" cy="788" rx="1.8" ry="3.6" transform="rotate(-18 1331 788)" stroke-width="1.1"/>
<line x1="1315.4" y1="764.7" x2="1315.4" y2="793.7"/>
<ellipse cx="1332" cy="819.3" rx="1.8" ry="3.6" transform="rotate(-18.7 1332 819.3)" stroke-width="1.1"/>
<ellipse cx="1334.1" cy="818.1" rx="1.8" ry="3.6" transform="rotate(-18.7 1334.1 818.1)" stroke-width="1.1"/>
<ellipse cx="1336.2" cy="816.8" rx="1.8" ry="3.6" transform="rotate(-18.7 1336.2 816.8)" stroke-width="1.1"/>
<ellipse cx="1338.2" cy="815.6" rx="1.8" ry="3.6" transform="rotate(-18.7 1338.2 815.6)" stroke-width="1.1"/>
<ellipse cx="1340.3" cy="814.4" rx="1.8" ry="3.6" transform="rotate(-18.7 1340.3 814.4)" stroke-width="1.1"/>
<ellipse cx="1342.4" cy="813.1" rx="1.8" ry="3.6" transform="rotate(-18.7 1342.4 813.1)" stroke-width="1.1"/>
<ellipse cx="1344.5" cy="811.9" rx="1.8" ry="3.6" transform="rotate(-18.7 1344.5 811.9)" stroke-width="1.1"/>
<ellipse cx="1346.5" cy="810.7" rx="1.8" ry="3.6" transform="rotate(-18.7 1346.5 810.7)" stroke-width="1.1"/>
<ellipse cx="1348.6" cy="809.5" rx="1.8" ry="3.6" transform="rotate(-18.7 1348.6 809.5)" stroke-width="1.1"/>
<ellipse cx="1350.7" cy="808.2" rx="1.8" ry="3.6" transform="rotate(-18.7 1350.7 808.2)" stroke-width="1.1"/>
<ellipse cx="1352.8" cy="807" rx="1.8" ry="3.6" transform="rotate(-18.7 1352.8 807)" stroke-width="1.1"/>
<ellipse cx="1354.8" cy="805.8" rx="1.8" ry="3.6" transform="rotate(-18.7 1354.8 805.8)" stroke-width="1.1"/>
<ellipse cx="1356.9" cy="804.5" rx="1.8" ry="3.6" transform="rotate(-18.7 1356.9 804.5)" stroke-width="1.1"/>
<ellipse cx="1359" cy="803.3" rx="1.8" ry="3.6" transform="rotate(-18.7 1359 803.3)" stroke-width="1.1"/>
<line x1="1348" y1="813.4" x2="1348" y2="843"/>
<path d="M1338.3,786.3 L1350,779.9 L1347.4,775 L1335.7,781.3" stroke-width="1.2" fill="#fff"/>
<ellipse cx="1337" cy="783.8" rx="1.2" ry="2.8" transform="rotate(-28.5 1337 783.8)" stroke-width="1.2" fill="#fff"/>
<ellipse cx="1348.7" cy="777.4" rx="1.2" ry="2.8" transform="rotate(-28.5 1348.7 777.4)" stroke-width="1.2" fill="#fff"/>
<path d="M1351,781.7 L1358.8,777.4 L1354.2,769 L1346.4,773.2" stroke-width="1.2" fill="#fff"/>
<ellipse cx="1348.7" cy="777.4" rx="2" ry="4.8" transform="rotate(-28.5 1348.7 777.4)" stroke-width="1.2" fill="#fff"/>
<ellipse cx="1356.5" cy="773.2" rx="2" ry="4.8" transform="rotate(-28.5 1356.5 773.2)" stroke-width="1.2" fill="#fff"/>
<path d="M1359.3,778.3 L1369,773 L1363.5,762.8 L1353.7,768.1" stroke-width="1.2" fill="#fff"/>
<ellipse cx="1356.5" cy="773.2" rx="2.4" ry="5.8" transform="rotate(-28.5 1356.5 773.2)" stroke-width="1.2" fill="#fff"/>
<ellipse cx="1366.2" cy="767.9" rx="2.4" ry="5.8" transform="rotate(-28.5 1366.2 767.9)" stroke-width="1.2" fill="#fff"/>
<path d="M1368.9,772.8 L1378.7,767.5 L1373.3,757.7 L1363.6,763" stroke-width="1.2" fill="#fff"/>
<ellipse cx="1366.2" cy="767.9" rx="2.4" ry="5.6" transform="rotate(-28.5 1366.2 767.9)" stroke-width="1.2" fill="#fff"/>
<ellipse cx="1376" cy="762.6" rx="2.4" ry="5.6" transform="rotate(-28.5 1376 762.6)" stroke-width="1.2" fill="#fff"/>
<ellipse cx="1351.8" cy="775.7" rx="2.2" ry="5.6" transform="rotate(-28 1351.8 775.7)" stroke-width="1"/>
<ellipse cx="1360.4" cy="771.1" rx="2.2" ry="5.6" transform="rotate(-28 1360.4 771.1)" stroke-width="1"/>
<ellipse cx="1363.5" cy="769.4" rx="2.2" ry="5.6" transform="rotate(-28 1363.5 769.4)" stroke-width="1"/>
<ellipse cx="1370.2" cy="765.8" rx="2.2" ry="5.6" transform="rotate(-28 1370.2 765.8)" stroke-width="1"/>
<line x1="1356.5" y1="737.2" x2="1356.5" y2="767.7"/>
<path d="M1389.8,760.5 L1399.8,755.5 L1394.2,744.5 L1384.2,749.5" stroke-width="1.2" fill="#fff"/>
<ellipse cx="1387" cy="755" rx="2.6" ry="6.2" transform="rotate(-26.6 1387 755)" stroke-width="1.2" fill="#fff"/>
<ellipse cx="1397" cy="750" rx="2.6" ry="6.2" transform="rotate(-26.6 1397 750)" stroke-width="1.2" fill="#fff"/>
<ellipse cx="1387" cy="755" rx="2" ry="3.8" transform="rotate(-28 1387 755)" stroke-width="1"/>
<line x1="1391.5" y1="715.2" x2="1391.5" y2="746"/>
<path d="M1433.8,767.5 L1444.8,762 L1439.2,751 L1428.2,756.5" stroke-width="1.2" fill="#fff"/>
<ellipse cx="1431" cy="762" rx="2.6" ry="6.2" transform="rotate(-26.6 1431 762)" stroke-width="1.2" fill="#fff"/>
<ellipse cx="1442" cy="756.5" rx="2.6" ry="6.2" transform="rotate(-26.6 1442 756.5)" stroke-width="1.2" fill="#fff"/>
<ellipse cx="1431" cy="762" rx="2" ry="3.8" transform="rotate(-28 1431 762)" stroke-width="1"/>
<line x1="1439.5" y1="766" x2="1439.5" y2="794.8"/>
<path d="M1409,734.8 L1422.5,744.8 L1424.5,742.2 L1411,732.2" stroke-width="1.2" fill="#fff"/>
<ellipse cx="1410" cy="733.5" rx="0.7" ry="1.6" transform="rotate(36.5 1410 733.5)" stroke-width="1.2" fill="#fff"/>
<ellipse cx="1423.5" cy="743.5" rx="0.7" ry="1.6" transform="rotate(36.5 1423.5 743.5)" stroke-width="1.2" fill="#fff"/>
<line x1="1416.6" y1="700" x2="1416.6" y2="733"/>
<path d="M1442.1,747.8 L1455.6,757.3 L1457.4,754.7 L1443.9,745.2" stroke-width="1.2" fill="#fff"/>
<ellipse cx="1443" cy="746.5" rx="0.7" ry="1.6" transform="rotate(35.1 1443 746.5)" stroke-width="1.2" fill="#fff"/>
<ellipse cx="1456.5" cy="756" rx="0.7" ry="1.6" transform="rotate(35.1 1456.5 756)" stroke-width="1.2" fill="#fff"/>
<line x1="1457.2" y1="755" x2="1486" y2="755"/>
<path d="M1374.9,798.2 L1393.2,787.6 L1390.2,782.4 L1371.9,793" stroke-width="1.2" fill="#fff"/>
<ellipse cx="1373.4" cy="795.6" rx="1.3" ry="3" transform="rotate(-30.2 1373.4 795.6)" stroke-width="1.2" fill="#fff"/>
<ellipse cx="1391.7" cy="785" rx="1.3" ry="3" transform="rotate(-30.2 1391.7 785)" stroke-width="1.2" fill="#fff"/>
<path d="M1394.2,789.3 L1401.1,785.3 L1396.1,776.6 L1389.2,780.7" stroke-width="1.2" fill="#fff"/>
<ellipse cx="1391.7" cy="785" rx="2.1" ry="5" transform="rotate(-30.2 1391.7 785)" stroke-width="1.2" fill="#fff"/>
<ellipse cx="1398.6" cy="781" rx="2.1" ry="5" transform="rotate(-30.2 1398.6 781)" stroke-width="1.2" fill="#fff"/>
<path d="M1401.4,785.8 L1416.8,776.8 L1411.2,767.2 L1395.8,776.1" stroke-width="1.2" fill="#fff"/>
<ellipse cx="1398.6" cy="781" rx="2.4" ry="5.6" transform="rotate(-30.2 1398.6 781)" stroke-width="1.2" fill="#fff"/>
<ellipse cx="1414" cy="772" rx="2.4" ry="5.6" transform="rotate(-30.2 1414 772)" stroke-width="1.2" fill="#fff"/>
<ellipse cx="1393.7" cy="783.8" rx="2.2" ry="5.5" transform="rotate(-30 1393.7 783.8)" stroke-width="1"/>
<ellipse cx="1403.9" cy="777.9" rx="2.2" ry="5.5" transform="rotate(-30 1403.9 777.9)" stroke-width="1"/>
<ellipse cx="1409.1" cy="774.8" rx="2.2" ry="5.5" transform="rotate(-30 1409.1 774.8)" stroke-width="1"/>
<line x1="1396.3" y1="784.6" x2="1396.3" y2="815.1"/>
<!-- l.svg -->
<g transform="translate(900,850) scale(0.27244)">
<path d="M125,125 L150,100 L185,85 L215,100 L245,175 L240,185 L215,180 L220,215 L240,225 L220,245 L195,250 L225,300 L230,345 L200,355 L170,380 L140,370 L115,320 L110,260 L130,225 L120,180 Z" stroke-width="1.3" fill="#fff"/>
<path d="M150,200 Q140,150 180,140 Q215,150 215,180 L200,200 Q180,215 150,200 Z" stroke-width="1.2"/>
<path d="M140,320 Q130,270 170,265 Q200,270 205,300 L195,330 Q170,345 140,320 Z" stroke-width="1.2"/>
<ellipse cx="175" cy="125" rx="8" ry="10"/>
<ellipse cx="165" cy="240" rx="8" ry="10"/>
<ellipse cx="155" cy="355" rx="8" ry="10"/>
<path d="M215,100 L410,0" stroke-width="1" stroke-dasharray="8 4 1 4"/>
</g>
<line x1="950.4" y1="850" x2="950.4" y2="873.2"/>
<path d="M1011.7,850 L1074.8,810" stroke-width="1" stroke-dasharray="7 3 1 3"/>
<path d="M922.3,960.3 L934,953.8 L931.4,949.2 L919.7,955.7" stroke-width="1.2" fill="#fff"/>
<ellipse cx="921" cy="958" rx="1.1" ry="2.6" transform="rotate(-29.1 921 958)" stroke-width="1.2" fill="#fff"/>
<ellipse cx="932.7" cy="951.5" rx="1.1" ry="2.6" transform="rotate(-29.1 932.7 951.5)" stroke-width="1.2" fill="#fff"/>
<path d="M914,957 L917,954 L922,955 L924,960 L922,966 L917,966 L914,962 Z" fill="#fff"/>
<line x1="921.3" y1="966" x2="921.3" y2="995.8"/>
<path d="M1034.2,963.2 L1047.7,972.2 L1049.3,969.8 L1035.8,960.8" stroke-width="1.2" fill="#fff"/>
<ellipse cx="1035" cy="962" rx="0.6" ry="1.5" transform="rotate(33.7 1035 962)" stroke-width="1.2" fill="#fff"/>
<ellipse cx="1048.5" cy="971" rx="0.6" ry="1.5" transform="rotate(33.7 1048.5 971)" stroke-width="1.2" fill="#fff"/>
<line x1="1037.6" y1="931.7" x2="1037.6" y2="961.5"/>
<path d="M1058.3,965.2 L1065.3,961.2 L1058.7,949.8 L1051.7,953.8" stroke-width="1.2" fill="#fff"/>
<ellipse cx="1055" cy="959.5" rx="2.8" ry="6.6" transform="rotate(-29.7 1055 959.5)" stroke-width="1.2" fill="#fff"/>
<ellipse cx="1062" cy="955.5" rx="2.8" ry="6.6" transform="rotate(-29.7 1062 955.5)" stroke-width="1.2" fill="#fff"/>
<ellipse cx="1055" cy="959.5" rx="2.2" ry="4" transform="rotate(-30 1055 959.5)" stroke-width="1"/>
<line x1="1061.6" y1="963.5" x2="1061.6" y2="994.4"/>
<path d="M1072.8,951.3 L1081.5,946.5 L1076.5,937.4 L1067.8,942.1" stroke-width="1.2" fill="#fff"/>
<ellipse cx="1070.3" cy="946.7" rx="2.2" ry="5.2" transform="rotate(-28.9 1070.3 946.7)" stroke-width="1.2" fill="#fff"/>
<ellipse cx="1079" cy="941.9" rx="2.2" ry="5.2" transform="rotate(-28.9 1079 941.9)" stroke-width="1.2" fill="#fff"/>
<path d="M1082.2,947.7 L1091.3,942.7 L1084.9,931.1 L1075.8,936.1" stroke-width="1.2" fill="#fff"/>
<ellipse cx="1079" cy="941.9" rx="2.8" ry="6.6" transform="rotate(-28.9 1079 941.9)" stroke-width="1.2" fill="#fff"/>
<ellipse cx="1088.1" cy="936.9" rx="2.8" ry="6.6" transform="rotate(-28.9 1088.1 936.9)" stroke-width="1.2" fill="#fff"/>
<path d="M1091.1,942.3 L1097,939 L1091,928.2 L1085.1,931.5" stroke-width="1.2" fill="#fff"/>
<ellipse cx="1088.1" cy="936.9" rx="2.6" ry="6.2" transform="rotate(-28.9 1088.1 936.9)" stroke-width="1.2" fill="#fff"/>
<ellipse cx="1094" cy="933.6" rx="2.6" ry="6.2" transform="rotate(-28.9 1094 933.6)" stroke-width="1.2" fill="#fff"/>
<path d="M1095.6,936.5 L1111.4,927.8 L1108.2,922 L1092.4,930.7" stroke-width="1.2" fill="#fff"/>
<ellipse cx="1094" cy="933.6" rx="1.4" ry="3.3" transform="rotate(-28.9 1094 933.6)" stroke-width="1.2" fill="#fff"/>
<ellipse cx="1109.8" cy="924.9" rx="1.4" ry="3.3" transform="rotate(-28.9 1109.8 924.9)" stroke-width="1.2" fill="#fff"/>
<ellipse cx="1074.2" cy="944.5" rx="2.4" ry="6" transform="rotate(-29 1074.2 944.5)" stroke-width="1"/>
<ellipse cx="1082.1" cy="940.2" rx="2.4" ry="6" transform="rotate(-29 1082.1 940.2)" stroke-width="1"/>
<ellipse cx="1090.8" cy="935.4" rx="2.4" ry="6" transform="rotate(-29 1090.8 935.4)" stroke-width="1"/>
<line x1="1094.8" y1="897.7" x2="1094.8" y2="928"/>
<ellipse cx="1123.4" cy="920.8" rx="1.9" ry="3.8" transform="rotate(-20.2 1123.4 920.8)" stroke-width="1.1"/>
<ellipse cx="1125.2" cy="919.6" rx="1.9" ry="3.8" transform="rotate(-20.2 1125.2 919.6)" stroke-width="1.1"/>
<ellipse cx="1127.1" cy="918.5" rx="1.9" ry="3.8" transform="rotate(-20.2 1127.1 918.5)" stroke-width="1.1"/>
<ellipse cx="1129" cy="917.3" rx="1.9" ry="3.8" transform="rotate(-20.2 1129 917.3)" stroke-width="1.1"/>
<ellipse cx="1130.8" cy="916.1" rx="1.9" ry="3.8" transform="rotate(-20.2 1130.8 916.1)" stroke-width="1.1"/>
<ellipse cx="1132.7" cy="915" rx="1.9" ry="3.8" transform="rotate(-20.2 1132.7 915)" stroke-width="1.1"/>
<ellipse cx="1134.5" cy="913.8" rx="1.9" ry="3.8" transform="rotate(-20.2 1134.5 913.8)" stroke-width="1.1"/>
<ellipse cx="1136.3" cy="912.6" rx="1.9" ry="3.8" transform="rotate(-20.2 1136.3 912.6)" stroke-width="1.1"/>
<ellipse cx="1138.2" cy="911.5" rx="1.9" ry="3.8" transform="rotate(-20.2 1138.2 911.5)" stroke-width="1.1"/>
<ellipse cx="1140" cy="910.3" rx="1.9" ry="3.8" transform="rotate(-20.2 1140 910.3)" stroke-width="1.1"/>
<ellipse cx="1141.9" cy="909.2" rx="1.9" ry="3.8" transform="rotate(-20.2 1141.9 909.2)" stroke-width="1.1"/>
<ellipse cx="1143.8" cy="908" rx="1.9" ry="3.8" transform="rotate(-20.2 1143.8 908)" stroke-width="1.1"/>
<ellipse cx="1145.6" cy="906.8" rx="1.9" ry="3.8" transform="rotate(-20.2 1145.6 906.8)" stroke-width="1.1"/>
<ellipse cx="1147.5" cy="905.7" rx="1.9" ry="3.8" transform="rotate(-20.2 1147.5 905.7)" stroke-width="1.1"/>
<ellipse cx="1149.3" cy="904.5" rx="1.9" ry="3.8" transform="rotate(-20.2 1149.3 904.5)" stroke-width="1.1"/>
<line x1="1138.9" y1="912.7" x2="1138.9" y2="945.4"/>
<ellipse cx="1147.9" cy="1076.1" rx="1.9" ry="3.8" transform="rotate(-18.1 1147.9 1076.1)" stroke-width="1.1"/>
<ellipse cx="1149.8" cy="1075" rx="1.9" ry="3.8" transform="rotate(-18.1 1149.8 1075)" stroke-width="1.1"/>
<ellipse cx="1151.6" cy="1074" rx="1.9" ry="3.8" transform="rotate(-18.1 1151.6 1074)" stroke-width="1.1"/>
<ellipse cx="1153.5" cy="1072.9" rx="1.9" ry="3.8" transform="rotate(-18.1 1153.5 1072.9)" stroke-width="1.1"/>
<ellipse cx="1155.3" cy="1071.8" rx="1.9" ry="3.8" transform="rotate(-18.1 1155.3 1071.8)" stroke-width="1.1"/>
<ellipse cx="1157.2" cy="1070.7" rx="1.9" ry="3.8" transform="rotate(-18.1 1157.2 1070.7)" stroke-width="1.1"/>
<ellipse cx="1159" cy="1069.7" rx="1.9" ry="3.8" transform="rotate(-18.1 1159 1069.7)" stroke-width="1.1"/>
<ellipse cx="1160.8" cy="1068.6" rx="1.9" ry="3.8" transform="rotate(-18.1 1160.8 1068.6)" stroke-width="1.1"/>
<ellipse cx="1162.7" cy="1067.5" rx="1.9" ry="3.8" transform="rotate(-18.1 1162.7 1067.5)" stroke-width="1.1"/>
<ellipse cx="1164.5" cy="1066.5" rx="1.9" ry="3.8" transform="rotate(-18.1 1164.5 1066.5)" stroke-width="1.1"/>
<ellipse cx="1166.4" cy="1065.4" rx="1.9" ry="3.8" transform="rotate(-18.1 1166.4 1065.4)" stroke-width="1.1"/>
<ellipse cx="1168.2" cy="1064.3" rx="1.9" ry="3.8" transform="rotate(-18.1 1168.2 1064.3)" stroke-width="1.1"/>
<ellipse cx="1170.1" cy="1063.2" rx="1.9" ry="3.8" transform="rotate(-18.1 1170.1 1063.2)" stroke-width="1.1"/>
<ellipse cx="1172" cy="1062.2" rx="1.9" ry="3.8" transform="rotate(-18.1 1172 1062.2)" stroke-width="1.1"/>
<ellipse cx="1173.8" cy="1061.1" rx="1.9" ry="3.8" transform="rotate(-18.1 1173.8 1061.1)" stroke-width="1.1"/>
<line x1="1162.9" y1="1036.6" x2="1162.9" y2="1066"/>
<path d="M1175.2,1059.8 L1199.7,1048.9 L1199.7,959" stroke-width="1" stroke-dasharray="7 3 1 3"/>
<path d="M1098,1113 L1126.5,1096.3 L1120,1085.3 L1091.6,1102" stroke-width="1.2" fill="#fff"/>
<ellipse cx="1094.8" cy="1107.5" rx="2.7" ry="6.4" transform="rotate(-30.4 1094.8 1107.5)" stroke-width="1.2" fill="#fff"/>
<ellipse cx="1123.2" cy="1090.8" rx="2.7" ry="6.4" transform="rotate(-30.4 1123.2 1090.8)" stroke-width="1.2" fill="#fff"/>
<path d="M1124.9,1093.6 L1136,1087.1 L1132.6,1081.5 L1121.6,1088" stroke-width="1.2" fill="#fff"/>
<ellipse cx="1123.2" cy="1090.8" rx="1.4" ry="3.3" transform="rotate(-30.4 1123.2 1090.8)" stroke-width="1.2" fill="#fff"/>
<ellipse cx="1134.3" cy="1084.3" rx="1.4" ry="3.3" transform="rotate(-30.4 1134.3 1084.3)" stroke-width="1.2" fill="#fff"/>
<ellipse cx="1099.5" cy="1104.7" rx="2.4" ry="6.2" transform="rotate(-30 1099.5 1104.7)" stroke-width="1"/>
<ellipse cx="1105.9" cy="1101" rx="2.4" ry="6.2" transform="rotate(-30 1105.9 1101)" stroke-width="1"/>
<ellipse cx="1112.2" cy="1097.3" rx="2.4" ry="6.2" transform="rotate(-30 1112.2 1097.3)" stroke-width="1"/>
<ellipse cx="1118.5" cy="1093.6" rx="2.4" ry="6.2" transform="rotate(-30 1118.5 1093.6)" stroke-width="1"/>
<line x1="1116" y1="1061.1" x2="1116" y2="1090"/>
<path d="M1058.5,1119.5 L1072.1,1129.1 L1073.9,1126.7 L1060.3,1117.1" stroke-width="1.2" fill="#fff"/>
<ellipse cx="1059.4" cy="1118.3" rx="0.6" ry="1.5" transform="rotate(35.2 1059.4 1118.3)" stroke-width="1.2" fill="#fff"/>
<ellipse cx="1073" cy="1127.9" rx="0.6" ry="1.5" transform="rotate(35.2 1073 1127.9)" stroke-width="1.2" fill="#fff"/>
<line x1="1066.7" y1="1092.5" x2="1066.7" y2="1120"/>
<path d="M1082.8,1120.2 L1089.8,1116.2 L1083.2,1104.8 L1076.2,1108.8" stroke-width="1.2" fill="#fff"/>
<ellipse cx="1079.5" cy="1114.5" rx="2.8" ry="6.6" transform="rotate(-29.7 1079.5 1114.5)" stroke-width="1.2" fill="#fff"/>
<ellipse cx="1086.5" cy="1110.5" rx="2.8" ry="6.6" transform="rotate(-29.7 1086.5 1110.5)" stroke-width="1.2" fill="#fff"/>
<ellipse cx="1079.5" cy="1114.5" rx="2.2" ry="4" transform="rotate(-30 1079.5 1114.5)" stroke-width="1"/>
<line x1="1084.7" y1="1119.5" x2="1084.7" y2="1145.6"/>
<path d="M1156.2,1113.6 L1163.2,1109.6 L1156.8,1098.4 L1149.8,1102.4" stroke-width="1.2" fill="#fff"/>
<ellipse cx="1153" cy="1108" rx="2.7" ry="6.4" transform="rotate(-29.7 1153 1108)" stroke-width="1.2" fill="#fff"/>
<ellipse cx="1160" cy="1104" rx="2.7" ry="6.4" transform="rotate(-29.7 1160 1104)" stroke-width="1.2" fill="#fff"/>
<line x1="1156.1" y1="1112.5" x2="1156.1" y2="1141.5"/>
<path d="M1170,1113 L1178,1115.5 L1178,1120 L1170,1117.5 Z" stroke-width="1.1" fill="#fff"/>
<path d="M1170,1113 L1172,1111.8 L1180,1114.2 L1178,1115.5" stroke-width="1.1"/>
<path d="M1178,1115.5 L1180,1114.2 L1180,1118.8 L1178,1120" stroke-width="1.1"/>
<line x1="1178.5" y1="1119.7" x2="1209.2" y2="1119.7"/>
<path d="M1172.1,1101.7 L1179.9,1097.9 L1175.1,1087.8 L1167.3,1091.5" stroke-width="1.2" fill="#fff"/>
<ellipse cx="1169.7" cy="1096.6" rx="2.4" ry="5.6" transform="rotate(-25.6 1169.7 1096.6)" stroke-width="1.2" fill="#fff"/>
<ellipse cx="1177.5" cy="1092.8" rx="2.4" ry="5.6" transform="rotate(-25.6 1177.5 1092.8)" stroke-width="1.2" fill="#fff"/>
<path d="M1180.4,1098.8 L1203.9,1087.6 L1198.1,1075.6 L1174.7,1086.9" stroke-width="1.2" fill="#fff"/>
<ellipse cx="1177.5" cy="1092.8" rx="2.8" ry="6.6" transform="rotate(-25.6 1177.5 1092.8)" stroke-width="1.2" fill="#fff"/>
<ellipse cx="1201" cy="1081.6" rx="2.8" ry="6.6" transform="rotate(-25.6 1201 1081.6)" stroke-width="1.2" fill="#fff"/>
<ellipse cx="1180.7" cy="1091.3" rx="2.4" ry="6.4" transform="rotate(-26 1180.7 1091.3)" stroke-width="1"/>
<ellipse cx="1185.4" cy="1089.1" rx="2.4" ry="6.4" transform="rotate(-26 1185.4 1089.1)" stroke-width="1"/>
<ellipse cx="1190" cy="1086.8" rx="2.4" ry="6.4" transform="rotate(-26 1190 1086.8)" stroke-width="1"/>
<ellipse cx="1194.7" cy="1084.6" rx="2.4" ry="6.4" transform="rotate(-26 1194.7 1084.6)" stroke-width="1"/>
<line x1="1201" y1="1088.4" x2="1225.6" y2="1088.4"/>
<path d="M1201,1080.2 L1212,1074.8 L1212,959" stroke-width="1" stroke-dasharray="7 3 1 3"/>
</g>
<g>
<text x="74.1" y="41.0">46385A</text>
<text x="408.8" y="94.0">46310</text>
<text x="473.0" y="160.0">46309</text>
<text x="589.8" y="215.0">46307</text>
<text x="127.1" y="282.0">46276</text>
<text x="42.4" y="304.8">46264</text>
<text x="76.0" y="388.5">46275C</text>
<text x="320.1" y="417.0">46392</text>
<text x="449.0" y="433.0">46382D</text>
<text x="449.0" y="452.2">46382A</text>
<text x="152.8" y="439.8">46397</text>
<text x="207.0" y="478.2">46395A</text>
<text x="60.1" y="496.4">46394A</text>
<text x="412.0" y="504.1">46384</text>
<text x="279.0" y="553.0">46393A</text>
<text x="181.0" y="592.4">46396</text>
<text x="393.5" y="620.9">46384</text>
<text x="93.8" y="646.8">46392</text>
<text x="295.4" y="668.2">46384</text>
<text x="185.6" y="706.9">46384</text>
<text x="416.0" y="713.6">46382A</text>
<text x="416.0" y="736.0">46382D</text>
<text x="321.2" y="762.0">46382A</text>
<text x="215.1" y="791.6">46382A</text>
<text x="379.9" y="841.0">1140EV</text>
<text x="320.0" y="861.5">46388</text>
<text x="123.0" y="897.0">11403C</text>
<text x="459.7" y="957.0">46224</text>
<text x="475.0" y="976.7">1140EV</text>
<text x="117.2" y="982.2">1140EV</text>
<text x="475.0" y="1034.5">1140EV</text>
<text x="142.5" y="1049.0">1140EX</text>
<text x="260.0" y="1103.4">46389</text>
<text x="348.0" y="1121.5">46388</text>
<text x="307.0" y="1143.2">46224</text>
<text x="1193.0" y="41.0">46210</text>
<text x="799.0" y="124.4">1141AA</text>
<text x="710.8" y="194.6">46276</text>
<text x="1021.0" y="178.9">1433CH</text>
<text x="1037.0" y="202.4">1601DE</text>
<text x="1003.0" y="265.9">46398</text>
<text x="965.5" y="326.0">1601DE</text>
<text x="997.1" y="347.1">46330</text>
<text x="860.0" y="374.5">46328</text>
<text x="1011.0" y="390.4">46329</text>
<text x="1122.5" y="337.2">46267</text>
<text x="1268.9" y="168.6">1601DK</text>
<text x="1390.9" y="157.1">1430JB</text>
<text x="1506.1" y="149.4">46231</text>
<text x="1447.0" y="183.4">46237A</text>
<text x="1538.0" y="280.0">46255</text>
<text x="1492.7" y="326.0">46237A</text>
<text x="1383.0" y="339.0">46257</text>
<text x="1442.9" y="387.9">46266</text>
<text x="1540.1" y="376.7">46388</text>
<text x="1384.9" y="420.0">46265</text>
<text x="882.0" y="443.2">46326</text>
<text x="959.0" y="462.2">45952A</text>
<text x="1027.0" y="445.4">46312</text>
<text x="1079.0" y="513.2">46240</text>
<text x="962.7" y="579.1">46235</text>
<text x="1053.4" y="562.0">46248</text>
<text x="949.1" y="615.4">46250</text>
<text x="849.0" y="637.8">46237A</text>
<text x="1096.0" y="702.7">46226</text>
<text x="1058.0" y="726.0">46229</text>
<text x="1019.0" y="750.2">46227</text>
<text x="876.4" y="755.8">46260A</text>
<text x="934.4" y="776.2">46237A</text>
<text x="982.0" y="803.0">46228</text>
<text x="1394.0" y="465.7">1433CF</text>
<text x="1403.2" y="483.9">46398</text>
<text x="1340.9" y="540.1">1601DE</text>
<text x="1518.4" y="535.6">46389</text>
<text x="1484.0" y="557.1">46313A</text>
<text x="1599.8" y="552.8">46343A</text>
<text x="1286.5" y="565.1">1601DE</text>
<text x="1198.0" y="581.0">46333</text>
<text x="1221.8" y="651.2">46386</text>
<text x="1481.1" y="629.7">46342</text>
<text x="1445.9" y="651.2">46341</text>
<text x="1650.7" y="661.4">46223</text>
<text x="1501.4" y="705.0">46343B</text>
<text x="1450.5" y="729.2">46340</text>
<text x="1362.0" y="687.4">45772A</text>
<text x="1337.4" y="711.2">46305B</text>
<text x="1310.0" y="733.8">46304B</text>
<text x="1184.6" y="747.1">46277</text>
<text x="1284.0" y="760.2">46306</text>
<text x="1492.9" y="762.8">45772A</text>
<text x="1412.2" y="812.8">46305B</text>
<text x="1367.9" y="832.2">46303B</text>
<text x="1320.2" y="859.9">46306</text>
<text x="923.5" y="842.1">46344</text>
<text x="1065.9" y="895.5">46303B</text>
<text x="1003.7" y="929.3">45772A</text>
<text x="1111.2" y="963.1">46306</text>
<text x="1341.0" y="919.1">46280</text>
<text x="891.7" y="1015.3">46223</text>
<text x="1034.0" y="1010.9">46305B</text>
<text x="1290.0" y="1036.8">46348</text>
<text x="1134.0" y="1033.3">46306</text>
<text x="1087.3" y="1058.2">46304B</text>
<text x="1032.1" y="1089.9">45772A</text>
<text x="1228.8" y="1095.5">46222</text>
<text x="1213.1" y="1128.5">46237A</text>
<text x="1128.3" y="1160.7">46231</text>
<text x="1055.7" y="1169.2">46305B</text>
</g>
</svg>
</body></html>
